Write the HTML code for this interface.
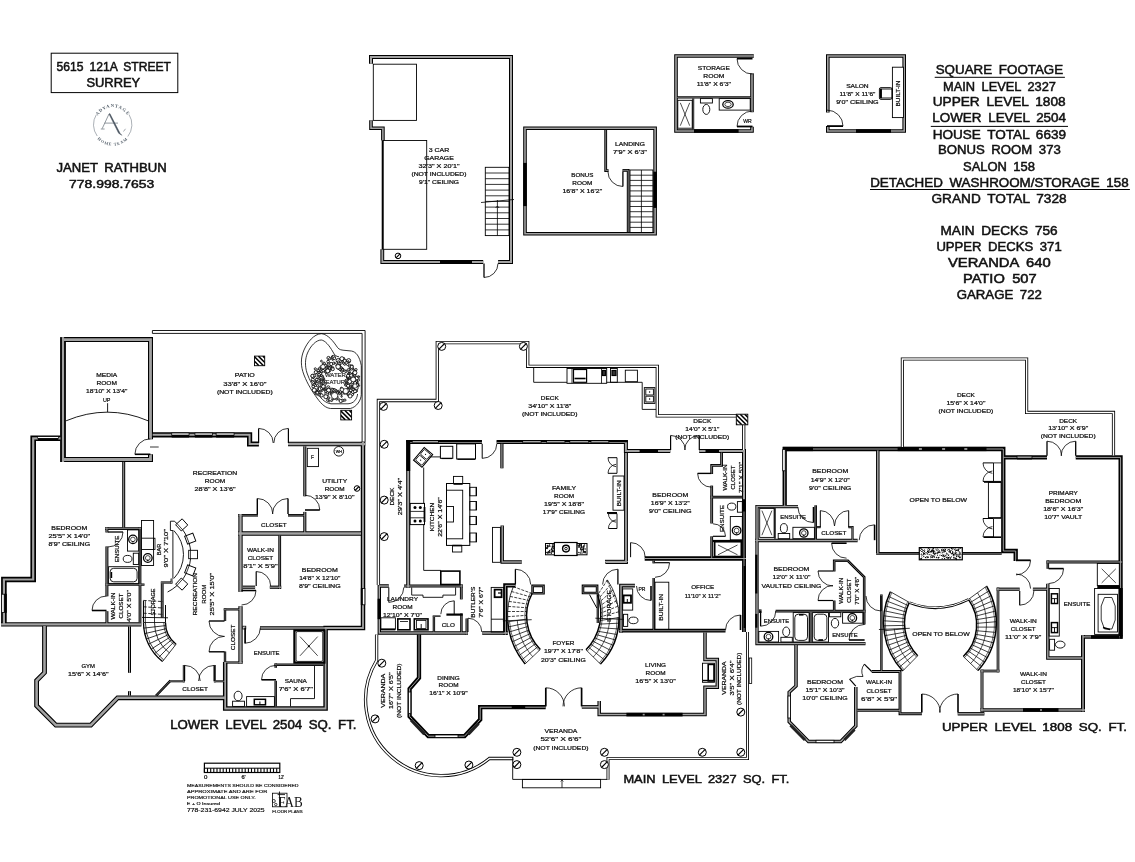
<!DOCTYPE html><html><head><meta charset="utf-8"><title>Floor plan</title>
<style>html,body{margin:0;padding:0;background:#fff;}svg{display:block;font-family:"Liberation Sans",sans-serif;}</style></head><body>
<svg width="1135" height="862" viewBox="0 0 1135 862">
<rect width="1135" height="862" fill="#fff"/><g style="will-change:opacity;opacity:0.999">
<g fill="none" stroke="#000" stroke-linejoin="miter" stroke-linecap="butt"><path d="M371.0,63.8 L371.0,57.0 L511.0,57.0 L511.0,262.0 L498.1,262.0" stroke-width="4.0"/>
<path d="M371.0,120.2 L371.0,128.2 L382.9,128.2 L382.9,140.5" stroke-width="3.6"/>
<path d="M382.3,249.3 L382.3,262.0 L483.2,262.0" stroke-width="3.8"/>
<path d="M525.0,128.2 L655.1,128.2 L655.1,233.8 L525.0,233.8Z" stroke-width="3.6"/>
<path d="M605.7,130.0 L605.7,170.6 L608.6,170.6" stroke-width="2.8"/>
<path d="M622.5,170.3 L628.2,170.3 L628.2,232.0" stroke-width="2.8"/>
<path d="M753.8,56.0 L676.0,56.0 L676.0,131.0 L752.0,131.0 L752.0,126.7" stroke-width="3.6"/>
<path d="M752.0,73.3 L752.0,112.2" stroke-width="3.6"/>
<path d="M677.0,97.4 L751.0,97.4" stroke-width="2.4"/>
<path d="M693.2,98.4 L693.2,129.5" stroke-width="2.0"/>
<path d="M827.8,112.5 L827.8,56.0 L904.2,56.0 L904.2,131.0 L827.8,131.0 L827.8,126.1" stroke-width="3.6"/>
<path d="M150.5,439.3 L150.5,339.6 L63.0,339.6" stroke-width="5.0"/>
<path d="M63.0,337.1 L63.0,462.0" stroke-width="5.8"/>
<path d="M63.0,459.5 L150.5,459.5 L150.5,454.3" stroke-width="5.0"/>
<path d="M60.5,438.3 L33.2,438.3 L33.2,579.5 L3.9,579.5 L3.9,624.4" stroke-width="5.6"/>
<path d="M1.1,624.4 L141.4,624.4" stroke-width="4.4"/>
<path d="M44.5,626.0 L44.5,672.6 L36.6,680.6 L36.6,705.8 L55.9,725.1 L90.8,725.1 L117.6,697.8 L225.2,697.8" stroke-width="4.8"/>
<path d="M225.2,662.0 L225.2,708.5 L325.6,708.5 L325.6,628.0 L363.0,628.0 L363.0,441.8" stroke-width="4.5"/>
<path d="M288.0,444.0 L365.2,444.0" stroke-width="4.4"/>
<path d="M260.0,628.0 L325.8,628.0" stroke-width="3.4"/>
<path d="M258.9,444.0 L249.6,444.0 L249.6,434.8 L152.7,434.8" stroke-width="5.2"/>
<path d="M123.7,461.9 L123.7,527.5" stroke-width="3.0"/>
<path d="M105.3,528.6 L141.3,528.6" stroke-width="2.8"/>
<path d="M106.9,527.2 L106.9,532.5" stroke-width="3.0"/>
<path d="M106.9,546.4 L106.9,596.3" stroke-width="3.0"/>
<path d="M106.9,611.2 L106.9,624.0" stroke-width="3.0"/>
<path d="M140.0,527.2 L140.0,622.5" stroke-width="2.8"/>
<path d="M105.6,584.6 L144.5,584.6" stroke-width="2.4"/>
<path d="M129.5,626.4 L129.5,672.8" stroke-width="3.0"/>
<path d="M129.5,691.2 L129.5,695.6" stroke-width="3.0"/>
<path d="M162.2,583.5 L162.2,617.5" stroke-width="2.8"/>
<path d="M160.8,582.5 L172.3,582.5" stroke-width="2.2"/>
<path d="M171.5,578.6 L171.5,583.5" stroke-width="1.8"/>
<path d="M240.5,514.0 L240.5,591.9" stroke-width="4.3"/>
<path d="M240.5,606.2 L240.5,663.5" stroke-width="4.3"/>
<path d="M238.4,515.3 L258.0,515.3" stroke-width="2.6"/>
<path d="M288.0,515.3 L305.0,515.3" stroke-width="2.6"/>
<path d="M304.8,446.3 L304.8,496.3" stroke-width="3.1"/>
<path d="M304.8,511.9 L304.8,533.0" stroke-width="3.1"/>
<path d="M238.4,533.5 L361.0,533.5" stroke-width="4.4"/>
<path d="M279.7,535.5 L279.7,589.0" stroke-width="2.8"/>
<path d="M242.7,587.2 L255.1,587.2" stroke-width="3.2"/>
<path d="M269.8,587.2 L281.2,587.2" stroke-width="3.2"/>
<path d="M223.8,609.4 L240.5,609.4" stroke-width="2.2"/>
<path d="M225.0,608.3 L225.0,621.0" stroke-width="2.4"/>
<path d="M225.0,651.5 L225.0,664.0" stroke-width="2.4"/>
<path d="M226.0,662.5 L242.6,662.5" stroke-width="2.2"/>
<path d="M170.0,681.3 L184.6,681.3" stroke-width="2.0"/>
<path d="M183.8,665.0 L183.8,682.3" stroke-width="2.0"/>
<path d="M214.8,665.0 L214.8,682.3" stroke-width="2.0"/>
<path d="M214.0,681.3 L226.0,681.3" stroke-width="2.0"/>
<path d="M170.5,680.6 L155.9,695.8" stroke-width="2.4"/>
<path d="M274.5,664.7 L323.4,664.7" stroke-width="2.5"/>
<path d="M275.7,663.5 L275.7,667.8" stroke-width="2.5"/>
<path d="M275.7,680.8 L275.7,706.4" stroke-width="2.5"/>
<path d="M408.2,587.4 L408.2,442.0 L481.9,442.0" stroke-width="4.0"/>
<path d="M496.7,442.0 L625.9,442.0 L625.9,451.0 L670.3,451.0" stroke-width="4.0"/>
<path d="M699.2,451.0 L744.0,451.0 L744.0,499.0" stroke-width="4.0"/>
<path d="M744.0,497.0 L744.0,632.0" stroke-width="3.9"/>
<path d="M501.9,443.8 L501.9,468.3" stroke-width="3.2"/>
<path d="M502.2,525.6 L502.2,562.0 L521.8,562.0" stroke-width="3.4"/>
<path d="M626.0,453.0 L626.0,562.0 L605.4,562.0" stroke-width="3.8"/>
<path d="M605.0,561.4 L627.8,561.4" stroke-width="3.2"/>
<path d="M644.7,558.5 L746.0,558.5" stroke-width="4.6"/>
<path d="M721.6,452.5 L721.6,465.4 L711.7,465.4 L711.7,474.0" stroke-width="2.8"/>
<path d="M711.7,485.6 L711.7,523.5" stroke-width="2.8"/>
<path d="M711.7,536.3 L711.7,558.0" stroke-width="2.8"/>
<path d="M710.4,497.1 L742.3,497.1" stroke-width="2.6"/>
<path d="M404.0,586.0 L462.7,586.0" stroke-width="3.0"/>
<path d="M461.3,584.5 L461.3,599.4" stroke-width="2.8"/>
<path d="M388.8,586.0 L379.3,586.0 L379.3,633.0 L467.7,633.0" stroke-width="3.4"/>
<path d="M482.2,633.0 L507.8,633.0" stroke-width="3.6"/>
<path d="M433.9,616.7 L433.9,633.0" stroke-width="2.4"/>
<path d="M432.7,616.2 L440.5,616.2" stroke-width="1.6"/>
<path d="M461.4,613.5 L461.4,633.0" stroke-width="2.5"/>
<path d="M466.6,618.5 L466.6,634.8" stroke-width="2.2"/>
<path d="M515.5,585.4 L505.4,585.4 L505.4,634.7" stroke-width="4.4"/>
<path d="M532.6,585.9 L543.5,585.9 L543.5,593.3 L532.6,593.3Z" stroke-width="2.6"/>
<path d="M583.0,585.9 L597.1,585.9 L597.1,593.0 L583.0,593.0Z" stroke-width="2.6"/>
<path d="M597.8,593.5 L597.8,623.0" stroke-width="2.3"/>
<path d="M634.9,585.6 L621.0,585.6 L621.0,632.4" stroke-width="3.7"/>
<path d="M619.2,630.7 L725.5,630.7" stroke-width="3.8"/>
<path d="M653.7,560.5 L653.7,563.4" stroke-width="2.5"/>
<path d="M653.7,578.0 L653.7,630.0" stroke-width="2.5"/>
<path d="M419.0,634.6 L419.0,678.0 L409.6,688.8 L409.6,716.5 L428.3,736.2 L464.5,736.2 L480.2,719.6 L480.2,707.2 L545.7,707.2" stroke-width="4.3"/>
<path d="M581.8,706.9 L599.2,706.9" stroke-width="3.6"/>
<path d="M599.2,701.1 L599.2,714.6 L705.0,714.6 L705.0,687.3 L717.3,687.3 L717.3,659.5 L705.0,659.5 L705.0,632.4" stroke-width="3.5"/>
<path d="M784.7,506.2 L784.7,449.0 L1003.3,449.0 L1003.3,551.0 L1015.7,551.0 L1015.7,561.0" stroke-width="4.3"/>
<path d="M1003.3,457.4 L1047.0,457.4" stroke-width="4.4"/>
<path d="M1075.7,457.4 L1120.6,457.4 L1120.6,637.0" stroke-width="4.2"/>
<path d="M1122.6,636.9 L1083.0,636.9" stroke-width="3.5"/>
<path d="M1083.0,635.2 L1083.0,711.6" stroke-width="4.0"/>
<path d="M1085.0,710.0 L980.5,710.0" stroke-width="3.3"/>
<path d="M982.0,711.6 L982.0,669.6" stroke-width="3.0"/>
<path d="M980.5,671.0 L999.4,671.0" stroke-width="2.7"/>
<path d="M998.0,672.3 L998.0,587.6" stroke-width="2.7"/>
<path d="M996.7,589.2 L1019.7,589.2" stroke-width="3.2"/>
<path d="M1032.9,589.2 L1047.8,589.2" stroke-width="3.2"/>
<path d="M1047.8,560.5 L1047.8,568.8" stroke-width="2.6"/>
<path d="M1047.8,583.8 L1047.8,658.0 L1083.0,658.0" stroke-width="3.3"/>
<path d="M1046.5,562.0 L1122.3,562.0" stroke-width="3.0"/>
<path d="M877.8,450.5 L877.8,553.4" stroke-width="3.5"/>
<path d="M876.1,553.4 L1001.7,553.4" stroke-width="2.6"/>
<path d="M798.0,506.6 L757.0,506.6 L757.0,643.6 L865.5,643.6" stroke-width="3.3"/>
<path d="M755.3,540.5 L857.6,540.5" stroke-width="3.5"/>
<path d="M815.7,505.3 L815.7,540.5" stroke-width="2.6"/>
<path d="M817.0,527.1 L820.6,527.1" stroke-width="2.2"/>
<path d="M848.4,527.1 L852.5,527.1 L852.5,540.5" stroke-width="2.2"/>
<path d="M834.2,571.4 L834.2,560.8 L847.9,560.8 L864.2,577.0 L864.2,624.4" stroke-width="2.6"/>
<path d="M834.2,600.5 L834.2,611.0" stroke-width="2.6"/>
<path d="M775.6,611.2 L865.5,611.2" stroke-width="2.7"/>
<path d="M760.2,609.4 L760.2,613.0" stroke-width="2.6"/>
<path d="M810.4,612.6 L810.4,642.0" stroke-width="2.6"/>
<path d="M774.9,507.9 L774.9,538.8" stroke-width="1.8"/>
<path d="M796.0,645.0 L796.0,686.0 L789.2,692.2 L789.2,721.8 L808.5,741.5 L840.8,741.5 L855.8,726.0 L855.8,687.0" stroke-width="3.5"/>
<path d="M871.7,671.5 L900.0,671.5 L900.0,713.8 L921.9,713.8" stroke-width="2.9"/>
<path d="M857.3,710.3 L900.0,710.3" stroke-width="2.9"/>
<path d="M881.4,594.4 L881.4,671.1" stroke-width="2.4"/>
<path d="M957.7,713.8 L984.4,713.8" stroke-width="3.4"/></g>
<g fill="none" stroke="#a2a2a2" stroke-linejoin="miter" stroke-linecap="butt"><path d="M371.0,63.8 L371.0,57.0 L511.0,57.0 L511.0,262.0 L498.1,262.0" stroke-width="2.0"/>
<path d="M371.0,120.2 L371.0,128.2 L382.9,128.2 L382.9,140.5" stroke-width="1.6"/>
<path d="M382.3,249.3 L382.3,262.0 L483.2,262.0" stroke-width="1.8"/>
<path d="M525.0,128.2 L655.1,128.2 L655.1,233.8 L525.0,233.8Z" stroke-width="1.6"/>
<path d="M605.7,130.0 L605.7,170.6 L608.6,170.6" stroke-width="0.8"/>
<path d="M622.5,170.3 L628.2,170.3 L628.2,232.0" stroke-width="0.8"/>
<path d="M753.8,56.0 L676.0,56.0 L676.0,131.0 L752.0,131.0 L752.0,126.7" stroke-width="1.6"/>
<path d="M752.0,73.3 L752.0,112.2" stroke-width="1.6"/>
<path d="M677.0,97.4 L751.0,97.4" stroke-width="0.6"/>
<path d="M693.2,98.4 L693.2,129.5" stroke-width="0.6"/>
<path d="M827.8,112.5 L827.8,56.0 L904.2,56.0 L904.2,131.0 L827.8,131.0 L827.8,126.1" stroke-width="1.6"/>
<path d="M150.5,439.3 L150.5,339.6 L63.0,339.6" stroke-width="2.8"/>
<path d="M63.0,337.1 L63.0,462.0" stroke-width="2.2"/>
<path d="M63.0,459.5 L150.5,459.5 L150.5,454.3" stroke-width="2.8"/>
<path d="M60.5,438.3 L33.2,438.3 L33.2,579.5 L3.9,579.5 L3.9,624.4" stroke-width="2.2"/>
<path d="M1.1,624.4 L141.4,624.4" stroke-width="2.4"/>
<path d="M44.5,626.0 L44.5,672.6 L36.6,680.6 L36.6,705.8 L55.9,725.1 L90.8,725.1 L117.6,697.8 L225.2,697.8" stroke-width="2.6"/>
<path d="M225.2,662.0 L225.2,708.5 L325.6,708.5 L325.6,628.0 L363.0,628.0 L363.0,441.8" stroke-width="1.8"/>
<path d="M288.0,444.0 L365.2,444.0" stroke-width="2.4"/>
<path d="M260.0,628.0 L325.8,628.0" stroke-width="1.4"/>
<path d="M258.9,444.0 L249.6,444.0 L249.6,434.8 L152.7,434.8" stroke-width="2.0"/>
<path d="M123.7,461.9 L123.7,527.5" stroke-width="1.0"/>
<path d="M105.3,528.6 L141.3,528.6" stroke-width="0.8"/>
<path d="M106.9,527.2 L106.9,532.5" stroke-width="1.0"/>
<path d="M106.9,546.4 L106.9,596.3" stroke-width="1.0"/>
<path d="M106.9,611.2 L106.9,624.0" stroke-width="1.0"/>
<path d="M140.0,527.2 L140.0,622.5" stroke-width="0.8"/>
<path d="M105.6,584.6 L144.5,584.6" stroke-width="0.6"/>
<path d="M129.5,626.4 L129.5,672.8" stroke-width="1.0"/>
<path d="M129.5,691.2 L129.5,695.6" stroke-width="1.0"/>
<path d="M162.2,583.5 L162.2,617.5" stroke-width="0.8"/>
<path d="M160.8,582.5 L172.3,582.5" stroke-width="0.6"/>
<path d="M171.5,578.6 L171.5,583.5" stroke-width="0.6"/>
<path d="M240.5,514.0 L240.5,591.9" stroke-width="2.3"/>
<path d="M240.5,606.2 L240.5,663.5" stroke-width="2.3"/>
<path d="M238.4,515.3 L258.0,515.3" stroke-width="0.6"/>
<path d="M288.0,515.3 L305.0,515.3" stroke-width="0.6"/>
<path d="M304.8,446.3 L304.8,496.3" stroke-width="1.1"/>
<path d="M304.8,511.9 L304.8,533.0" stroke-width="1.1"/>
<path d="M238.4,533.5 L361.0,533.5" stroke-width="2.4"/>
<path d="M279.7,535.5 L279.7,589.0" stroke-width="0.8"/>
<path d="M242.7,587.2 L255.1,587.2" stroke-width="1.2"/>
<path d="M269.8,587.2 L281.2,587.2" stroke-width="1.2"/>
<path d="M223.8,609.4 L240.5,609.4" stroke-width="0.6"/>
<path d="M225.0,608.3 L225.0,621.0" stroke-width="0.6"/>
<path d="M225.0,651.5 L225.0,664.0" stroke-width="0.6"/>
<path d="M226.0,662.5 L242.6,662.5" stroke-width="0.6"/>
<path d="M170.0,681.3 L184.6,681.3" stroke-width="0.6"/>
<path d="M183.8,665.0 L183.8,682.3" stroke-width="0.6"/>
<path d="M214.8,665.0 L214.8,682.3" stroke-width="0.6"/>
<path d="M214.0,681.3 L226.0,681.3" stroke-width="0.6"/>
<path d="M170.5,680.6 L155.9,695.8" stroke-width="0.6"/>
<path d="M274.5,664.7 L323.4,664.7" stroke-width="0.6"/>
<path d="M275.7,663.5 L275.7,667.8" stroke-width="0.6"/>
<path d="M275.7,680.8 L275.7,706.4" stroke-width="0.6"/>
<path d="M408.2,587.4 L408.2,442.0 L481.9,442.0" stroke-width="2.0"/>
<path d="M496.7,442.0 L625.9,442.0 L625.9,451.0 L670.3,451.0" stroke-width="2.0"/>
<path d="M699.2,451.0 L744.0,451.0 L744.0,499.0" stroke-width="2.0"/>
<path d="M744.0,497.0 L744.0,632.0" stroke-width="0.9"/>
<path d="M501.9,443.8 L501.9,468.3" stroke-width="1.2"/>
<path d="M502.2,525.6 L502.2,562.0 L521.8,562.0" stroke-width="1.4"/>
<path d="M626.0,453.0 L626.0,562.0 L605.4,562.0" stroke-width="1.8"/>
<path d="M605.0,561.4 L627.8,561.4" stroke-width="1.2"/>
<path d="M644.7,558.5 L746.0,558.5" stroke-width="1.0"/>
<path d="M721.6,452.5 L721.6,465.4 L711.7,465.4 L711.7,474.0" stroke-width="0.8"/>
<path d="M711.7,485.6 L711.7,523.5" stroke-width="0.8"/>
<path d="M711.7,536.3 L711.7,558.0" stroke-width="0.8"/>
<path d="M710.4,497.1 L742.3,497.1" stroke-width="0.6"/>
<path d="M404.0,586.0 L462.7,586.0" stroke-width="1.0"/>
<path d="M461.3,584.5 L461.3,599.4" stroke-width="0.8"/>
<path d="M388.8,586.0 L379.3,586.0 L379.3,633.0 L467.7,633.0" stroke-width="1.4"/>
<path d="M482.2,633.0 L507.8,633.0" stroke-width="1.6"/>
<path d="M433.9,616.7 L433.9,633.0" stroke-width="0.6"/>
<path d="M432.7,616.2 L440.5,616.2" stroke-width="0.6"/>
<path d="M461.4,613.5 L461.4,633.0" stroke-width="0.6"/>
<path d="M466.6,618.5 L466.6,634.8" stroke-width="0.6"/>
<path d="M515.5,585.4 L505.4,585.4 L505.4,634.7" stroke-width="1.0"/>
<path d="M532.6,585.9 L543.5,585.9 L543.5,593.3 L532.6,593.3Z" stroke-width="0.6"/>
<path d="M583.0,585.9 L597.1,585.9 L597.1,593.0 L583.0,593.0Z" stroke-width="0.6"/>
<path d="M597.8,593.5 L597.8,623.0" stroke-width="0.6"/>
<path d="M634.9,585.6 L621.0,585.6 L621.0,632.4" stroke-width="1.5"/>
<path d="M619.2,630.7 L725.5,630.7" stroke-width="0.8"/>
<path d="M653.7,560.5 L653.7,563.4" stroke-width="0.6"/>
<path d="M653.7,578.0 L653.7,630.0" stroke-width="0.6"/>
<path d="M419.0,634.6 L419.0,678.0 L409.6,688.8 L409.6,716.5 L428.3,736.2 L464.5,736.2 L480.2,719.6 L480.2,707.2 L545.7,707.2" stroke-width="1.0"/>
<path d="M581.8,706.9 L599.2,706.9" stroke-width="1.6"/>
<path d="M599.2,701.1 L599.2,714.6 L705.0,714.6 L705.0,687.3 L717.3,687.3 L717.3,659.5 L705.0,659.5 L705.0,632.4" stroke-width="1.5"/>
<path d="M784.7,506.2 L784.7,449.0 L1003.3,449.0 L1003.3,551.0 L1015.7,551.0 L1015.7,561.0" stroke-width="1.0"/>
<path d="M1003.3,457.4 L1047.0,457.4" stroke-width="0.9"/>
<path d="M1075.7,457.4 L1120.6,457.4 L1120.6,637.0" stroke-width="1.0"/>
<path d="M1122.6,636.9 L1083.0,636.9" stroke-width="1.4"/>
<path d="M1083.0,635.2 L1083.0,711.6" stroke-width="1.5"/>
<path d="M1085.0,710.0 L980.5,710.0" stroke-width="1.3"/>
<path d="M982.0,711.6 L982.0,669.6" stroke-width="1.2"/>
<path d="M980.5,671.0 L999.4,671.0" stroke-width="1.0"/>
<path d="M998.0,672.3 L998.0,587.6" stroke-width="1.0"/>
<path d="M996.7,589.2 L1019.7,589.2" stroke-width="1.2"/>
<path d="M1032.9,589.2 L1047.8,589.2" stroke-width="1.2"/>
<path d="M1047.8,560.5 L1047.8,568.8" stroke-width="0.6"/>
<path d="M1047.8,583.8 L1047.8,658.0 L1083.0,658.0" stroke-width="1.4"/>
<path d="M1046.5,562.0 L1122.3,562.0" stroke-width="1.0"/>
<path d="M877.8,450.5 L877.8,553.4" stroke-width="1.5"/>
<path d="M876.1,553.4 L1001.7,553.4" stroke-width="0.6"/>
<path d="M798.0,506.6 L757.0,506.6 L757.0,643.6 L865.5,643.6" stroke-width="1.5"/>
<path d="M755.3,540.5 L857.6,540.5" stroke-width="1.5"/>
<path d="M815.7,505.3 L815.7,540.5" stroke-width="0.6"/>
<path d="M817.0,527.1 L820.6,527.1" stroke-width="0.6"/>
<path d="M848.4,527.1 L852.5,527.1 L852.5,540.5" stroke-width="0.6"/>
<path d="M834.2,571.4 L834.2,560.8 L847.9,560.8 L864.2,577.0 L864.2,624.4" stroke-width="0.6"/>
<path d="M834.2,600.5 L834.2,611.0" stroke-width="0.6"/>
<path d="M775.6,611.2 L865.5,611.2" stroke-width="0.7"/>
<path d="M760.2,609.4 L760.2,613.0" stroke-width="0.6"/>
<path d="M810.4,612.6 L810.4,642.0" stroke-width="0.6"/>
<path d="M774.9,507.9 L774.9,538.8" stroke-width="0.6"/>
<path d="M796.0,645.0 L796.0,686.0 L789.2,692.2 L789.2,721.8 L808.5,741.5 L840.8,741.5 L855.8,726.0 L855.8,687.0" stroke-width="1.5"/>
<path d="M871.7,671.5 L900.0,671.5 L900.0,713.8 L921.9,713.8" stroke-width="0.9"/>
<path d="M857.3,710.3 L900.0,710.3" stroke-width="0.9"/>
<path d="M881.4,594.4 L881.4,671.1" stroke-width="0.6"/>
<path d="M957.7,713.8 L984.4,713.8" stroke-width="1.4"/></g>
<g><rect x="440.0" y="260.2" width="32.0" height="3.7" fill="#000"/>
<rect x="523.2" y="162.9" width="3.6" height="43.2" fill="#000"/>
<rect x="653.3" y="171.7" width="3.6" height="36.2" fill="#000"/>
<rect x="694.0" y="129.2" width="44.6" height="3.6" fill="#000"/>
<rect x="856.0" y="129.2" width="35.0" height="3.6" fill="#000"/>
<rect x="37.9" y="436.6" width="20.3" height="1.8" fill="#fff" stroke="#000" stroke-width="0.8"/>
<rect x="37.9" y="438.4" width="20.3" height="2.6" fill="#000"/>
<rect x="1.7" y="594.2" width="2.5" height="18.2" fill="#fff" stroke="#000" stroke-width="0.8"/>
<rect x="4.2" y="593.8" width="2.6" height="19.0" fill="#000"/>
<rect x="171.7" y="433.0" width="17.4" height="2.1" fill="#fff" stroke="#000" stroke-width="0.8"/>
<rect x="171.7" y="435.1" width="17.4" height="2.4" fill="#000"/>
<rect x="194.9" y="433.0" width="17.5" height="2.1" fill="#fff" stroke="#000" stroke-width="0.8"/>
<rect x="194.9" y="435.1" width="17.5" height="2.4" fill="#000"/>
<rect x="216.1" y="433.0" width="18.0" height="2.1" fill="#fff" stroke="#000" stroke-width="0.8"/>
<rect x="216.1" y="435.1" width="18.0" height="2.4" fill="#000"/>
<rect x="360.8" y="588.3" width="1.6" height="16.7" fill="#000"/>
<rect x="362.4" y="588.5" width="2.5" height="16.3" fill="#fff" stroke="#000" stroke-width="0.8"/>
<rect x="406.3" y="440.2" width="3.9" height="30.8" fill="#000"/>
<path d="M406.2,441.3 H481.9 M496.7,441.3 H627.8" stroke="#000" stroke-width="1.9"/>
<path d="M412.7,441.9 H438.0" stroke="#fff" stroke-width="1.1"/>
<path d="M411.7,442.9 H439.0" stroke="#000" stroke-width="1.0"/>
<path d="M523.1,441.9 H540.7" stroke="#fff" stroke-width="1.1"/>
<path d="M522.1,442.9 H541.7" stroke="#000" stroke-width="1.0"/>
<path d="M547.0,441.9 H564.5" stroke="#fff" stroke-width="1.1"/>
<path d="M546.0,442.9 H565.5" stroke="#000" stroke-width="1.0"/>
<path d="M570.2,441.9 H588.2" stroke="#fff" stroke-width="1.1"/>
<path d="M569.2,442.9 H589.2" stroke="#000" stroke-width="1.0"/>
<path d="M591.4,441.9 H608.3" stroke="#fff" stroke-width="1.1"/>
<path d="M590.4,442.9 H609.3" stroke="#000" stroke-width="1.0"/>
<rect x="639.6" y="449.1" width="18.4" height="3.8" fill="#000"/>
<rect x="705.5" y="449.1" width="13.5" height="3.8" fill="#000"/>
<rect x="742.2" y="499.5" width="3.7" height="12.0" fill="#000"/>
<rect x="743.6" y="566.0" width="2.3" height="62.0" fill="#000"/>
<rect x="377.6" y="598.7" width="3.4" height="20.5" fill="#000"/>
<rect x="408.4" y="692.0" width="2.4" height="21.5" fill="#fff" stroke="#000" stroke-width="0.8"/>
<rect x="435.0" y="735.0" width="23.0" height="2.4" fill="#fff" stroke="#000" stroke-width="0.8"/>
<path d="M411,720 L424.5,734.2" stroke="#222" stroke-width="3.2"/>
<path d="M468.3,734.2 L478.5,723.3" stroke="#222" stroke-width="3.2"/>
<rect x="511.7" y="705.4" width="13.5" height="3.6" fill="#000"/>
<rect x="626.4" y="712.8" width="56.2" height="3.6" fill="#000"/>
<rect x="642.7" y="713.8" width="2" height="1.6" fill="#999"/><rect x="662.6" y="713.8" width="2" height="1.6" fill="#999"/>
<rect x="783.0" y="446.9" width="30.0" height="4.2" fill="#000"/>
<rect x="897.6" y="446.9" width="88.9" height="4.2" fill="#000"/>
<rect x="918.9" y="448.1" width="3" height="1.8" fill="#999"/>
<rect x="942.1" y="448.1" width="3" height="1.8" fill="#999"/>
<rect x="964.3" y="448.1" width="3" height="1.8" fill="#999"/>
<rect x="782.7" y="449.6" width="2.5" height="21.2" fill="#fff" stroke="#000" stroke-width="0.8"/>
<rect x="1017.0" y="456.2" width="15.0" height="1.8" fill="#fff" stroke="#000" stroke-width="0.8"/>
<rect x="1017.0" y="458.0" width="15.0" height="1.4" fill="#000"/>
<rect x="1091.0" y="635.2" width="28.0" height="3.5" fill="#000"/>
<rect x="1119.6" y="588.0" width="3.1" height="50.7" fill="#000"/>
<rect x="1023.0" y="708.2" width="35.5" height="3.6" fill="#000"/>
<rect x="1040" y="709.2" width="2" height="1.6" fill="#999"/>
<rect x="755.2" y="554.7" width="2.2" height="38.8" fill="#000"/>
<rect x="755.2" y="613.9" width="2.2" height="13.8" fill="#000"/>
<rect x="788.0" y="696.0" width="2.4" height="22.0" fill="#fff" stroke="#000" stroke-width="0.8"/>
<rect x="816.0" y="740.3" width="18.0" height="2.4" fill="#fff" stroke="#000" stroke-width="0.8"/>
<path d="M790.5,725.3 L805,740" stroke="#222" stroke-width="3.0"/>
<path d="M844.3,740 L854.5,729.5" stroke="#222" stroke-width="3.0"/></g>
<g stroke-linecap="butt"><rect x="51.2" y="53.2" width="126.6" height="39.4" rx="0.0" fill="none" stroke="#000" stroke-width="1.00"/>
<path d="M129.0,114.5 A19.2,19.2 0 0 1 127.8,136.5" stroke="#56616c" stroke-width="0.50" fill="none" />
<path d="M97.2,136.0 A19.2,19.2 0 0 1 96.4,114.5" stroke="#56616c" stroke-width="0.50" fill="none" />
<path id="lgA" d="M96.4,118.8 A17.3,17.3 0 0 1 129.0,118.8" fill="none"/>
<path id="lgB" d="M93.0,131.9 A21,21 0 0 0 132.4,131.9" fill="none"/>
<text font-family="Liberation Serif" font-size="4.6" font-weight="bold" fill="#56616c" letter-spacing="0.8"><textPath href="#lgA" startOffset="50%" text-anchor="middle">ADVANTAGE</textPath></text>
<text font-family="Liberation Serif" font-size="4.2" font-weight="bold" fill="#56616c" letter-spacing="0.8"><textPath href="#lgB" startOffset="50%" text-anchor="middle">HOME TEAM</textPath></text>
<path d="M109,114 L102.2,128.6 M100.8,129 H104.6 M104.6,123.1 H118" stroke="#4a5560" stroke-width="0.6" fill="none"/>
<path d="M109,114 L109.9,113.6 L120.2,133.6 L121.9,135.3 L118.6,133.2 Z" fill="#4a5560" stroke="#4a5560" stroke-width="0.5"/>
<path d="M123.5,131.5 L125.5,128.8" stroke="#4a5560" stroke-width="0.5"/>
<rect x="373.3" y="64.2" width="43.2" height="56.2" rx="0.0" fill="none" stroke="#000" stroke-width="0.90"/>
<path d="M382.6,140.5 L382.6,249.3" fill="none" stroke="#000" stroke-width="1.80" />
<rect x="383.0" y="140.5" width="43.7" height="108.8" rx="0.0" fill="none" stroke="#000" stroke-width="0.90"/>
<path d="M484.0,263.5 L484.0,277.5" stroke="#000" stroke-width="1.30" fill="none"/>
<path d="M484.0,277.5 A14.0,14.0 0 0 0 498.0,263.5" stroke="#000" stroke-width="0.80" fill="none"/>
<rect x="485.3" y="167.3" width="23.7" height="68.3" rx="0.0" fill="none" stroke="#000" stroke-width="0.90"/>
<path d="M485.3,173.0 L509.0,173.0" fill="none" stroke="#000" stroke-width="0.80" />
<path d="M485.3,178.7 L509.0,178.7" fill="none" stroke="#000" stroke-width="0.80" />
<path d="M485.3,184.4 L509.0,184.4" fill="none" stroke="#000" stroke-width="0.80" />
<path d="M485.3,190.1 L509.0,190.1" fill="none" stroke="#000" stroke-width="0.80" />
<path d="M485.3,195.8 L509.0,195.8" fill="none" stroke="#000" stroke-width="0.80" />
<path d="M485.3,201.4 L509.0,201.4" fill="none" stroke="#000" stroke-width="0.80" />
<path d="M485.3,207.1 L509.0,207.1" fill="none" stroke="#000" stroke-width="0.80" />
<path d="M485.3,212.8 L509.0,212.8" fill="none" stroke="#000" stroke-width="0.80" />
<path d="M485.3,218.5 L509.0,218.5" fill="none" stroke="#000" stroke-width="0.80" />
<path d="M485.3,224.2 L509.0,224.2" fill="none" stroke="#000" stroke-width="0.80" />
<path d="M485.3,229.9 L509.0,229.9" fill="none" stroke="#000" stroke-width="0.80" />
<path d="M497.4,200.0 L497.4,235.6" fill="none" stroke="#000" stroke-width="0.80" />
<path d="M481.0,202.5 L514.0,199.5" fill="none" stroke="#000" stroke-width="0.80" />
<path d="M495.6,208.0 L497.4,206.0 L499.2,208.0" fill="none" stroke="#000" stroke-width="0.80" />
<circle cx="398.0" cy="255.9" r="2.8" fill="#fff" stroke="#000" stroke-width="1.0"/>
<path d="M396.0,257.9 L400.0,253.9" stroke="#000" stroke-width="1.1"/>
<path d="M622.9,171.5 L622.9,186.5" stroke="#000" stroke-width="1.30" fill="none"/>
<path d="M622.9,186.5 A15.0,15.0 0 0 1 607.9,171.5" stroke="#000" stroke-width="0.80" fill="none"/>
<rect x="630.0" y="170.0" width="22.9" height="62.6" rx="0.0" fill="none" stroke="#000" stroke-width="0.90"/>
<path d="M630.0,175.2 L652.9,175.2" fill="none" stroke="#000" stroke-width="0.80" />
<path d="M630.0,180.4 L652.9,180.4" fill="none" stroke="#000" stroke-width="0.80" />
<path d="M630.0,185.7 L652.9,185.7" fill="none" stroke="#000" stroke-width="0.80" />
<path d="M630.0,190.9 L652.9,190.9" fill="none" stroke="#000" stroke-width="0.80" />
<path d="M630.0,196.1 L652.9,196.1" fill="none" stroke="#000" stroke-width="0.80" />
<path d="M630.0,201.3 L652.9,201.3" fill="none" stroke="#000" stroke-width="0.80" />
<path d="M630.0,206.5 L652.9,206.5" fill="none" stroke="#000" stroke-width="0.80" />
<path d="M630.0,211.7 L652.9,211.7" fill="none" stroke="#000" stroke-width="0.80" />
<path d="M630.0,216.9 L652.9,216.9" fill="none" stroke="#000" stroke-width="0.80" />
<path d="M630.0,222.2 L652.9,222.2" fill="none" stroke="#000" stroke-width="0.80" />
<path d="M630.0,227.4 L652.9,227.4" fill="none" stroke="#000" stroke-width="0.80" />
<path d="M641.4,170.0 L641.4,232.6" fill="none" stroke="#000" stroke-width="0.80" />
<path d="M752.5,58.6 L737.0,58.6" stroke="#000" stroke-width="1.80" fill="none"/>
<path d="M737.0,58.6 A15.5,15.5 0 0 0 752.5,74.1" stroke="#000" stroke-width="0.80" fill="none"/>
<path d="M752.5,126.5 L737.0,126.5" stroke="#000" stroke-width="1.80" fill="none"/>
<path d="M737.0,126.5 A15.5,15.5 0 0 1 752.5,111.0" stroke="#000" stroke-width="0.80" fill="none"/>
<rect x="677.8" y="100.3" width="14.4" height="27.9" rx="0.0" fill="none" stroke="#000" stroke-width="0.90"/>
<path d="M680.3,102.8 L689.7,125.7" fill="none" stroke="#000" stroke-width="0.70" />
<path d="M689.7,102.8 L680.3,125.7" fill="none" stroke="#000" stroke-width="0.70" />
<rect x="700.4" y="98.6" width="12.0" height="4.4" rx="0.0" fill="#fff" stroke="#000" stroke-width="0.90"/>
<ellipse cx="706.3" cy="109.4" rx="3.5" ry="5.0" fill="#fff" stroke="#000" stroke-width="0.90"/>
<rect x="719.2" y="98.6" width="31.0" height="11.5" rx="0.0" fill="none" stroke="#000" stroke-width="0.90"/>
<ellipse cx="728.0" cy="104.4" rx="5.2" ry="3.8" fill="#fff" stroke="#000" stroke-width="1.30"/>
<ellipse cx="728.0" cy="104.4" rx="3.2" ry="2.2" fill="none" stroke="#000" stroke-width="0.70"/>
<path d="M827.0,126.1 L843.0,126.1" stroke="#000" stroke-width="1.80" fill="none"/>
<path d="M843.0,126.1 A16.0,16.0 0 0 0 827.0,110.1" stroke="#000" stroke-width="0.80" fill="none"/>
<rect x="892.4" y="67.2" width="11.1" height="50.4" rx="0.0" fill="#fff" stroke="#000" stroke-width="0.90"/>
<rect x="879.4" y="87.6" width="12.7" height="11.8" rx="1.5" fill="none" stroke="#000" stroke-width="0.90"/>
<rect x="881.5" y="89.0" width="10.6" height="9.0" rx="0.0" fill="none" stroke="#000" stroke-width="0.90"/>
<path d="M880.5,88.5 L880.5,98.5" fill="none" stroke="#000" stroke-width="1.60" />
<path d="M934.7,77.3 L1064.9,77.3" fill="none" stroke="#000" stroke-width="1.00" />
<path d="M930.8,126.4 L1068.0,126.4" fill="none" stroke="#000" stroke-width="1.00" />
<path d="M870.0,189.5 L1129.9,189.5" fill="none" stroke="#000" stroke-width="1.00" />
<path d="M152.4,333.4 L152.4,330.5 L365.1,330.5 L365.1,441.8" fill="none" stroke="#000" stroke-width="0.90" />
<path d="M152.4,333.4 L362.1,333.4 L362.1,441.8" fill="none" stroke="#000" stroke-width="0.90" />
<clipPath id="h2545"><rect x="254.5" y="356.1" width="10.2" height="9.6"/></clipPath>
<rect x="254.5" y="356.1" width="10.2" height="9.6" fill="#fff"/>
<path d="M240.4,356.1 L250.0,365.7 M244.9,356.1 L254.5,365.7 M249.4,356.1 L259.0,365.7 M253.9,356.1 L263.5,365.7 M258.4,356.1 L268.0,365.7 M262.9,356.1 L272.5,365.7 M267.4,356.1 L277.0,365.7" stroke="#000" stroke-width="1.5" clip-path="url(#h2545)"/>
<rect x="254.5" y="356.1" width="10.2" height="9.6" rx="0.0" fill="none" stroke="#000" stroke-width="0.90"/>
<clipPath id="h3408"><rect x="340.8" y="410.3" width="10.8" height="9.6"/></clipPath>
<rect x="340.8" y="410.3" width="10.8" height="9.6" fill="#fff"/>
<path d="M326.7,410.3 L336.3,419.9 M331.2,410.3 L340.8,419.9 M335.7,410.3 L345.3,419.9 M340.2,410.3 L349.8,419.9 M344.7,410.3 L354.3,419.9 M349.2,410.3 L358.8,419.9 M353.7,410.3 L363.3,419.9" stroke="#000" stroke-width="1.5" clip-path="url(#h3408)"/>
<rect x="340.8" y="410.3" width="10.8" height="9.6" rx="0.0" fill="none" stroke="#000" stroke-width="0.90"/>
<path d="M321.3,333.7 C326,334 331,338 336.4,345.9 C338,348.5 339.5,349.9 343,350.2 L351.4,351 C356,351.8 359.5,356 361.3,365.6 L361.3,394.6 C361,400 357,407 350.3,408.5 L330.6,408.5 C326,408 322,405 317,398 C312,391 308,385 304,375 C300.5,366 300.5,358 304,350 C307.5,342 314,334 321.3,333.7 Z" fill="none" stroke="#000" stroke-width="0.8"/>
<path d="M321.3,340 C325,340.5 329,345 333,352 C334.5,355 336,356.5 339,356.8 M357.6,394 C357,399 354,403.5 348,403.8 L331,403.8 C326,403 322,400 318,394 C313,387 309.5,380 307,373 C304.8,366 305,359 307.5,353 C310.5,346 316,340 321.3,340" fill="none" stroke="#000" stroke-width="0.8"/>
<circle cx="329.2" cy="390.1" r="0.7" fill="#fff" stroke="#000" stroke-width="0.85"/>
<circle cx="352.0" cy="386.8" r="1.3" fill="#fff" stroke="#000" stroke-width="0.85"/>
<circle cx="315.3" cy="368.9" r="1.1" fill="#fff" stroke="#000" stroke-width="0.85"/>
<circle cx="352.0" cy="383.1" r="0.9" fill="#fff" stroke="#000" stroke-width="0.85"/>
<circle cx="337.3" cy="396.4" r="0.7" fill="#fff" stroke="#000" stroke-width="0.85"/>
<circle cx="341.9" cy="369.3" r="1.1" fill="#fff" stroke="#000" stroke-width="0.85"/>
<circle cx="322.4" cy="366.9" r="0.7" fill="#fff" stroke="#000" stroke-width="0.85"/>
<circle cx="320.9" cy="372.5" r="1.1" fill="#fff" stroke="#000" stroke-width="0.85"/>
<circle cx="357.1" cy="385.5" r="1.1" fill="#fff" stroke="#000" stroke-width="0.85"/>
<circle cx="319.4" cy="387.7" r="1.1" fill="#fff" stroke="#000" stroke-width="0.85"/>
<circle cx="316.7" cy="372.7" r="0.9" fill="#fff" stroke="#000" stroke-width="0.85"/>
<circle cx="318.3" cy="370.7" r="1.3" fill="#fff" stroke="#000" stroke-width="0.85"/>
<circle cx="352.5" cy="390.4" r="0.7" fill="#fff" stroke="#000" stroke-width="0.85"/>
<circle cx="322.3" cy="368.5" r="1.6" fill="#fff" stroke="#000" stroke-width="0.85"/>
<circle cx="339.1" cy="363.9" r="2.0" fill="#fff" stroke="#000" stroke-width="0.85"/>
<circle cx="325.9" cy="389.5" r="0.9" fill="#fff" stroke="#000" stroke-width="0.85"/>
<circle cx="330.5" cy="367.1" r="1.1" fill="#fff" stroke="#000" stroke-width="0.85"/>
<circle cx="313.1" cy="376.2" r="2.0" fill="#fff" stroke="#000" stroke-width="0.85"/>
<circle cx="329.3" cy="401.1" r="0.9" fill="#fff" stroke="#000" stroke-width="0.85"/>
<circle cx="322.2" cy="378.6" r="1.3" fill="#fff" stroke="#000" stroke-width="0.85"/>
<circle cx="346.1" cy="392.7" r="0.7" fill="#fff" stroke="#000" stroke-width="0.85"/>
<circle cx="347.5" cy="376.9" r="1.3" fill="#fff" stroke="#000" stroke-width="0.85"/>
<circle cx="326.7" cy="391.6" r="2.0" fill="#fff" stroke="#000" stroke-width="0.85"/>
<circle cx="320.3" cy="371.9" r="0.9" fill="#fff" stroke="#000" stroke-width="0.85"/>
<circle cx="352.0" cy="374.1" r="0.9" fill="#fff" stroke="#000" stroke-width="0.85"/>
<circle cx="354.6" cy="386.5" r="2.0" fill="#fff" stroke="#000" stroke-width="0.85"/>
<circle cx="331.4" cy="394.0" r="1.3" fill="#fff" stroke="#000" stroke-width="0.85"/>
<circle cx="352.7" cy="381.7" r="0.9" fill="#fff" stroke="#000" stroke-width="0.85"/>
<circle cx="321.8" cy="369.1" r="1.1" fill="#fff" stroke="#000" stroke-width="0.85"/>
<circle cx="337.7" cy="368.0" r="1.1" fill="#fff" stroke="#000" stroke-width="0.85"/>
<circle cx="316.7" cy="392.3" r="2.0" fill="#fff" stroke="#000" stroke-width="0.85"/>
<circle cx="350.6" cy="387.1" r="1.1" fill="#fff" stroke="#000" stroke-width="0.85"/>
<circle cx="352.1" cy="366.0" r="1.1" fill="#fff" stroke="#000" stroke-width="0.85"/>
<circle cx="328.5" cy="358.0" r="1.6" fill="#fff" stroke="#000" stroke-width="0.85"/>
<circle cx="348.3" cy="376.4" r="0.9" fill="#fff" stroke="#000" stroke-width="0.85"/>
<circle cx="347.4" cy="394.3" r="0.7" fill="#fff" stroke="#000" stroke-width="0.85"/>
<circle cx="316.6" cy="381.1" r="1.1" fill="#fff" stroke="#000" stroke-width="0.85"/>
<circle cx="332.3" cy="391.1" r="1.3" fill="#fff" stroke="#000" stroke-width="0.85"/>
<circle cx="323.5" cy="370.6" r="0.9" fill="#fff" stroke="#000" stroke-width="0.85"/>
<circle cx="328.5" cy="364.2" r="0.7" fill="#fff" stroke="#000" stroke-width="0.85"/>
<circle cx="313.7" cy="385.1" r="1.6" fill="#fff" stroke="#000" stroke-width="0.85"/>
<circle cx="322.2" cy="388.4" r="2.0" fill="#fff" stroke="#000" stroke-width="0.85"/>
<circle cx="327.3" cy="371.4" r="0.9" fill="#fff" stroke="#000" stroke-width="0.85"/>
<circle cx="352.5" cy="378.0" r="0.9" fill="#fff" stroke="#000" stroke-width="0.85"/>
<circle cx="328.8" cy="388.5" r="0.7" fill="#fff" stroke="#000" stroke-width="0.85"/>
<circle cx="318.8" cy="372.7" r="1.3" fill="#fff" stroke="#000" stroke-width="0.85"/>
<circle cx="326.2" cy="372.4" r="1.1" fill="#fff" stroke="#000" stroke-width="0.85"/>
<circle cx="325.4" cy="371.7" r="1.1" fill="#fff" stroke="#000" stroke-width="0.85"/>
<circle cx="354.0" cy="374.7" r="2.0" fill="#fff" stroke="#000" stroke-width="0.85"/>
<circle cx="351.8" cy="393.9" r="2.0" fill="#fff" stroke="#000" stroke-width="0.85"/>
<circle cx="320.3" cy="381.2" r="0.9" fill="#fff" stroke="#000" stroke-width="0.85"/>
<circle cx="348.3" cy="388.1" r="1.1" fill="#fff" stroke="#000" stroke-width="0.85"/>
<circle cx="315.4" cy="382.0" r="0.7" fill="#fff" stroke="#000" stroke-width="0.85"/>
<circle cx="342.7" cy="400.5" r="1.3" fill="#fff" stroke="#000" stroke-width="0.85"/>
<circle cx="347.0" cy="392.9" r="0.7" fill="#fff" stroke="#000" stroke-width="0.85"/>
<circle cx="337.0" cy="365.8" r="0.9" fill="#fff" stroke="#000" stroke-width="0.85"/>
<circle cx="330.2" cy="367.0" r="1.3" fill="#fff" stroke="#000" stroke-width="0.85"/>
<circle cx="349.0" cy="371.6" r="1.1" fill="#fff" stroke="#000" stroke-width="0.85"/>
<circle cx="314.5" cy="375.5" r="1.3" fill="#fff" stroke="#000" stroke-width="0.85"/>
<circle cx="322.7" cy="366.1" r="1.1" fill="#fff" stroke="#000" stroke-width="0.85"/>
<circle cx="343.6" cy="360.5" r="1.1" fill="#fff" stroke="#000" stroke-width="0.85"/>
<circle cx="341.6" cy="394.9" r="0.7" fill="#fff" stroke="#000" stroke-width="0.85"/>
<circle cx="357.1" cy="378.2" r="2.0" fill="#fff" stroke="#000" stroke-width="0.85"/>
<circle cx="333.7" cy="398.1" r="1.3" fill="#fff" stroke="#000" stroke-width="0.85"/>
<circle cx="313.2" cy="386.6" r="1.3" fill="#fff" stroke="#000" stroke-width="0.85"/>
<circle cx="351.0" cy="375.4" r="1.1" fill="#fff" stroke="#000" stroke-width="0.85"/>
<circle cx="349.7" cy="389.0" r="1.3" fill="#fff" stroke="#000" stroke-width="0.85"/>
<circle cx="341.6" cy="396.6" r="0.7" fill="#fff" stroke="#000" stroke-width="0.85"/>
<circle cx="315.9" cy="381.8" r="0.9" fill="#fff" stroke="#000" stroke-width="0.85"/>
<circle cx="342.4" cy="369.6" r="1.6" fill="#fff" stroke="#000" stroke-width="0.85"/>
<circle cx="340.4" cy="360.5" r="2.0" fill="#fff" stroke="#000" stroke-width="0.85"/>
<circle cx="348.7" cy="369.6" r="1.3" fill="#fff" stroke="#000" stroke-width="0.85"/>
<circle cx="355.9" cy="390.8" r="1.6" fill="#fff" stroke="#000" stroke-width="0.85"/>
<circle cx="315.1" cy="383.9" r="0.9" fill="#fff" stroke="#000" stroke-width="0.85"/>
<circle cx="332.8" cy="367.5" r="0.9" fill="#fff" stroke="#000" stroke-width="0.85"/>
<circle cx="354.3" cy="382.5" r="2.0" fill="#fff" stroke="#000" stroke-width="0.85"/>
<circle cx="340.6" cy="368.4" r="2.0" fill="#fff" stroke="#000" stroke-width="0.85"/>
<circle cx="326.5" cy="367.5" r="0.9" fill="#fff" stroke="#000" stroke-width="0.85"/>
<circle cx="357.1" cy="382.2" r="0.9" fill="#fff" stroke="#000" stroke-width="0.85"/>
<circle cx="312.4" cy="375.9" r="1.6" fill="#fff" stroke="#000" stroke-width="0.85"/>
<circle cx="349.3" cy="378.5" r="1.1" fill="#fff" stroke="#000" stroke-width="0.85"/>
<circle cx="349.4" cy="381.7" r="1.1" fill="#fff" stroke="#000" stroke-width="0.85"/>
<circle cx="337.6" cy="365.5" r="1.6" fill="#fff" stroke="#000" stroke-width="0.85"/>
<circle cx="342.0" cy="370.2" r="1.3" fill="#fff" stroke="#000" stroke-width="0.85"/>
<circle cx="351.7" cy="368.5" r="1.6" fill="#fff" stroke="#000" stroke-width="0.85"/>
<circle cx="346.6" cy="360.9" r="0.9" fill="#fff" stroke="#000" stroke-width="0.85"/>
<circle cx="317.8" cy="376.2" r="0.7" fill="#fff" stroke="#000" stroke-width="0.85"/>
<circle cx="350.7" cy="365.4" r="0.7" fill="#fff" stroke="#000" stroke-width="0.85"/>
<circle cx="338.3" cy="367.8" r="0.9" fill="#fff" stroke="#000" stroke-width="0.85"/>
<circle cx="315.1" cy="382.7" r="0.7" fill="#fff" stroke="#000" stroke-width="0.85"/>
<circle cx="326.8" cy="394.1" r="2.0" fill="#fff" stroke="#000" stroke-width="0.85"/>
<circle cx="338.8" cy="368.4" r="0.7" fill="#fff" stroke="#000" stroke-width="0.85"/>
<circle cx="336.4" cy="393.0" r="0.9" fill="#fff" stroke="#000" stroke-width="0.85"/>
<circle cx="316.9" cy="378.7" r="0.9" fill="#fff" stroke="#000" stroke-width="0.85"/>
<circle cx="317.4" cy="385.7" r="1.1" fill="#fff" stroke="#000" stroke-width="0.85"/>
<circle cx="329.0" cy="364.8" r="2.0" fill="#fff" stroke="#000" stroke-width="0.85"/>
<circle cx="321.1" cy="378.9" r="1.1" fill="#fff" stroke="#000" stroke-width="0.85"/>
<circle cx="356.0" cy="369.6" r="1.1" fill="#fff" stroke="#000" stroke-width="0.85"/>
<circle cx="342.9" cy="369.6" r="0.9" fill="#fff" stroke="#000" stroke-width="0.85"/>
<circle cx="323.4" cy="388.2" r="1.1" fill="#fff" stroke="#000" stroke-width="0.85"/>
<circle cx="322.8" cy="385.0" r="1.1" fill="#fff" stroke="#000" stroke-width="0.85"/>
<circle cx="341.0" cy="358.8" r="0.9" fill="#fff" stroke="#000" stroke-width="0.85"/>
<circle cx="353.9" cy="372.8" r="1.3" fill="#fff" stroke="#000" stroke-width="0.85"/>
<circle cx="350.1" cy="396.0" r="2.0" fill="#fff" stroke="#000" stroke-width="0.85"/>
<circle cx="340.7" cy="401.0" r="1.6" fill="#fff" stroke="#000" stroke-width="0.85"/>
<circle cx="345.8" cy="371.5" r="1.1" fill="#fff" stroke="#000" stroke-width="0.85"/>
<circle cx="344.8" cy="392.6" r="1.6" fill="#fff" stroke="#000" stroke-width="0.85"/>
<circle cx="327.9" cy="390.0" r="1.3" fill="#fff" stroke="#000" stroke-width="0.85"/>
<circle cx="349.1" cy="387.5" r="1.3" fill="#fff" stroke="#000" stroke-width="0.85"/>
<circle cx="319.4" cy="374.3" r="0.7" fill="#fff" stroke="#000" stroke-width="0.85"/>
<circle cx="321.9" cy="390.4" r="1.1" fill="#fff" stroke="#000" stroke-width="0.85"/>
<circle cx="323.5" cy="378.7" r="1.1" fill="#fff" stroke="#000" stroke-width="0.85"/>
<circle cx="348.0" cy="377.5" r="1.1" fill="#fff" stroke="#000" stroke-width="0.85"/>
<circle cx="331.7" cy="400.6" r="0.9" fill="#fff" stroke="#000" stroke-width="0.85"/>
<circle cx="333.2" cy="391.0" r="1.6" fill="#fff" stroke="#000" stroke-width="0.85"/>
<circle cx="347.6" cy="364.5" r="1.1" fill="#fff" stroke="#000" stroke-width="0.85"/>
<circle cx="320.2" cy="388.8" r="2.0" fill="#fff" stroke="#000" stroke-width="0.85"/>
<circle cx="331.2" cy="368.9" r="0.7" fill="#fff" stroke="#000" stroke-width="0.85"/>
<circle cx="340.3" cy="367.8" r="0.9" fill="#fff" stroke="#000" stroke-width="0.85"/>
<circle cx="333.5" cy="389.6" r="0.9" fill="#fff" stroke="#000" stroke-width="0.85"/>
<circle cx="340.0" cy="369.0" r="1.1" fill="#fff" stroke="#000" stroke-width="0.85"/>
<circle cx="356.2" cy="387.9" r="2.0" fill="#fff" stroke="#000" stroke-width="0.85"/>
<circle cx="315.2" cy="390.1" r="0.9" fill="#fff" stroke="#000" stroke-width="0.85"/>
<circle cx="355.4" cy="384.6" r="0.9" fill="#fff" stroke="#000" stroke-width="0.85"/>
<circle cx="350.0" cy="376.9" r="0.9" fill="#fff" stroke="#000" stroke-width="0.85"/>
<circle cx="340.7" cy="392.8" r="1.1" fill="#fff" stroke="#000" stroke-width="0.85"/>
<circle cx="321.8" cy="377.1" r="2.0" fill="#fff" stroke="#000" stroke-width="0.85"/>
<circle cx="322.0" cy="379.5" r="1.3" fill="#fff" stroke="#000" stroke-width="0.85"/>
<circle cx="344.1" cy="358.3" r="0.7" fill="#fff" stroke="#000" stroke-width="0.85"/>
<circle cx="356.3" cy="381.3" r="1.1" fill="#fff" stroke="#000" stroke-width="0.85"/>
<circle cx="321.1" cy="378.3" r="2.0" fill="#fff" stroke="#000" stroke-width="0.85"/>
<circle cx="353.0" cy="392.0" r="1.6" fill="#fff" stroke="#000" stroke-width="0.85"/>
<circle cx="325.0" cy="365.5" r="1.6" fill="#fff" stroke="#000" stroke-width="0.85"/>
<circle cx="350.6" cy="376.9" r="1.1" fill="#fff" stroke="#000" stroke-width="0.85"/>
<circle cx="351.2" cy="377.9" r="0.9" fill="#fff" stroke="#000" stroke-width="0.85"/>
<circle cx="322.4" cy="387.6" r="0.7" fill="#fff" stroke="#000" stroke-width="0.85"/>
<circle cx="341.9" cy="370.8" r="1.1" fill="#fff" stroke="#000" stroke-width="0.85"/>
<circle cx="324.6" cy="384.0" r="1.6" fill="#fff" stroke="#000" stroke-width="0.85"/>
<circle cx="349.6" cy="366.1" r="1.1" fill="#fff" stroke="#000" stroke-width="0.85"/>
<circle cx="318.9" cy="368.6" r="0.7" fill="#fff" stroke="#000" stroke-width="0.85"/>
<circle cx="322.6" cy="382.5" r="2.0" fill="#fff" stroke="#000" stroke-width="0.85"/>
<circle cx="351.6" cy="379.8" r="1.3" fill="#fff" stroke="#000" stroke-width="0.85"/>
<circle cx="353.7" cy="376.6" r="1.1" fill="#fff" stroke="#000" stroke-width="0.85"/>
<circle cx="357.9" cy="384.0" r="1.1" fill="#fff" stroke="#000" stroke-width="0.85"/>
<circle cx="328.3" cy="387.4" r="1.6" fill="#fff" stroke="#000" stroke-width="0.85"/>
<circle cx="348.5" cy="386.3" r="1.1" fill="#fff" stroke="#000" stroke-width="0.85"/>
<circle cx="336.5" cy="399.2" r="0.9" fill="#fff" stroke="#000" stroke-width="0.85"/>
<circle cx="333.8" cy="390.6" r="1.6" fill="#fff" stroke="#000" stroke-width="0.85"/>
<circle cx="321.4" cy="371.8" r="1.1" fill="#fff" stroke="#000" stroke-width="0.85"/>
<circle cx="330.3" cy="391.7" r="0.9" fill="#fff" stroke="#000" stroke-width="0.85"/>
<circle cx="323.9" cy="363.7" r="1.6" fill="#fff" stroke="#000" stroke-width="0.85"/>
<circle cx="338.1" cy="360.6" r="2.0" fill="#fff" stroke="#000" stroke-width="0.85"/>
<circle cx="348.1" cy="394.9" r="0.9" fill="#fff" stroke="#000" stroke-width="0.85"/>
<circle cx="357.0" cy="385.1" r="1.6" fill="#fff" stroke="#000" stroke-width="0.85"/>
<circle cx="332.7" cy="359.5" r="0.9" fill="#fff" stroke="#000" stroke-width="0.85"/>
<circle cx="353.5" cy="369.1" r="0.7" fill="#fff" stroke="#000" stroke-width="0.85"/>
<circle cx="344.7" cy="364.2" r="1.1" fill="#fff" stroke="#000" stroke-width="0.85"/>
<circle cx="345.8" cy="384.9" r="1.3" fill="#fff" stroke="#000" stroke-width="0.85"/>
<circle cx="351.2" cy="375.8" r="2.0" fill="#fff" stroke="#000" stroke-width="0.85"/>
<circle cx="317.3" cy="373.1" r="1.1" fill="#fff" stroke="#000" stroke-width="0.85"/>
<circle cx="324.3" cy="380.2" r="0.9" fill="#fff" stroke="#000" stroke-width="0.85"/>
<circle cx="334.6" cy="363.2" r="0.9" fill="#fff" stroke="#000" stroke-width="0.85"/>
<circle cx="328.7" cy="370.4" r="2.0" fill="#fff" stroke="#000" stroke-width="0.85"/>
<circle cx="334.6" cy="390.4" r="1.1" fill="#fff" stroke="#000" stroke-width="0.85"/>
<circle cx="338.2" cy="398.9" r="1.1" fill="#fff" stroke="#000" stroke-width="0.85"/>
<circle cx="333.3" cy="357.3" r="2.0" fill="#fff" stroke="#000" stroke-width="0.85"/>
<circle cx="342.8" cy="370.5" r="1.1" fill="#fff" stroke="#000" stroke-width="0.85"/>
<circle cx="338.3" cy="361.9" r="1.1" fill="#fff" stroke="#000" stroke-width="0.85"/>
<circle cx="347.3" cy="385.0" r="1.1" fill="#fff" stroke="#000" stroke-width="0.85"/>
<circle cx="323.4" cy="364.3" r="0.9" fill="#fff" stroke="#000" stroke-width="0.85"/>
<circle cx="347.6" cy="380.3" r="1.1" fill="#fff" stroke="#000" stroke-width="0.85"/>
<circle cx="347.9" cy="377.6" r="1.1" fill="#fff" stroke="#000" stroke-width="0.85"/>
<circle cx="328.4" cy="367.3" r="1.1" fill="#fff" stroke="#000" stroke-width="0.85"/>
<circle cx="318.6" cy="383.0" r="0.9" fill="#fff" stroke="#000" stroke-width="0.85"/>
<circle cx="354.0" cy="378.8" r="1.1" fill="#fff" stroke="#000" stroke-width="0.85"/>
<circle cx="358.9" cy="376.5" r="0.7" fill="#fff" stroke="#000" stroke-width="0.85"/>
<circle cx="332.0" cy="390.1" r="2.0" fill="#fff" stroke="#000" stroke-width="0.85"/>
<circle cx="351.9" cy="378.9" r="1.1" fill="#fff" stroke="#000" stroke-width="0.85"/>
<circle cx="346.7" cy="384.5" r="1.1" fill="#fff" stroke="#000" stroke-width="0.85"/>
<circle cx="348.0" cy="376.1" r="1.1" fill="#fff" stroke="#000" stroke-width="0.85"/>
<circle cx="351.3" cy="367.2" r="1.1" fill="#fff" stroke="#000" stroke-width="0.85"/>
<circle cx="312.8" cy="379.8" r="1.6" fill="#fff" stroke="#000" stroke-width="0.85"/>
<circle cx="346.7" cy="381.1" r="2.0" fill="#fff" stroke="#000" stroke-width="0.85"/>
<circle cx="328.2" cy="365.8" r="0.9" fill="#fff" stroke="#000" stroke-width="0.85"/>
<circle cx="321.5" cy="386.9" r="0.9" fill="#fff" stroke="#000" stroke-width="0.85"/>
<circle cx="342.0" cy="371.0" r="1.3" fill="#fff" stroke="#000" stroke-width="0.85"/>
<circle cx="342.7" cy="369.8" r="1.1" fill="#fff" stroke="#000" stroke-width="0.85"/>
<circle cx="329.7" cy="358.8" r="1.1" fill="#fff" stroke="#000" stroke-width="0.85"/>
<circle cx="334.6" cy="390.3" r="1.6" fill="#fff" stroke="#000" stroke-width="0.85"/>
<circle cx="354.5" cy="379.4" r="1.3" fill="#fff" stroke="#000" stroke-width="0.85"/>
<circle cx="354.5" cy="370.7" r="0.7" fill="#fff" stroke="#000" stroke-width="0.85"/>
<circle cx="332.7" cy="389.9" r="1.1" fill="#fff" stroke="#000" stroke-width="0.85"/>
<circle cx="326.6" cy="370.6" r="1.1" fill="#fff" stroke="#000" stroke-width="0.85"/>
<circle cx="321.3" cy="384.9" r="1.3" fill="#fff" stroke="#000" stroke-width="0.85"/>
<circle cx="339.8" cy="364.5" r="0.7" fill="#fff" stroke="#000" stroke-width="0.85"/>
<circle cx="343.4" cy="363.0" r="1.1" fill="#fff" stroke="#000" stroke-width="0.85"/>
<circle cx="332.7" cy="369.1" r="1.6" fill="#fff" stroke="#000" stroke-width="0.85"/>
<circle cx="315.4" cy="385.4" r="1.1" fill="#fff" stroke="#000" stroke-width="0.85"/>
<circle cx="312.4" cy="381.4" r="0.9" fill="#fff" stroke="#000" stroke-width="0.85"/>
<circle cx="343.9" cy="392.8" r="1.1" fill="#fff" stroke="#000" stroke-width="0.85"/>
<circle cx="328.8" cy="397.9" r="1.1" fill="#fff" stroke="#000" stroke-width="0.85"/>
<circle cx="323.5" cy="386.7" r="2.0" fill="#fff" stroke="#000" stroke-width="0.85"/>
<circle cx="320.1" cy="374.2" r="0.9" fill="#fff" stroke="#000" stroke-width="0.85"/>
<circle cx="327.7" cy="370.9" r="2.0" fill="#fff" stroke="#000" stroke-width="0.85"/>
<circle cx="319.2" cy="374.6" r="1.3" fill="#fff" stroke="#000" stroke-width="0.85"/>
<circle cx="352.7" cy="379.2" r="0.9" fill="#fff" stroke="#000" stroke-width="0.85"/>
<circle cx="321.7" cy="375.6" r="0.9" fill="#fff" stroke="#000" stroke-width="0.85"/>
<circle cx="328.4" cy="388.8" r="1.1" fill="#fff" stroke="#000" stroke-width="0.85"/>
<circle cx="320.5" cy="394.3" r="1.1" fill="#fff" stroke="#000" stroke-width="0.85"/>
<circle cx="351.7" cy="366.9" r="1.6" fill="#fff" stroke="#000" stroke-width="0.85"/>
<circle cx="319.8" cy="392.5" r="1.1" fill="#fff" stroke="#000" stroke-width="0.85"/>
<circle cx="324.1" cy="389.4" r="0.7" fill="#fff" stroke="#000" stroke-width="0.85"/>
<circle cx="316.8" cy="379.7" r="1.3" fill="#fff" stroke="#000" stroke-width="0.85"/>
<circle cx="348.3" cy="391.1" r="1.1" fill="#fff" stroke="#000" stroke-width="0.85"/>
<circle cx="354.9" cy="391.2" r="1.6" fill="#fff" stroke="#000" stroke-width="0.85"/>
<circle cx="321.6" cy="388.7" r="1.1" fill="#fff" stroke="#000" stroke-width="0.85"/>
<circle cx="349.1" cy="362.5" r="0.7" fill="#fff" stroke="#000" stroke-width="0.85"/>
<circle cx="347.5" cy="390.5" r="2.0" fill="#fff" stroke="#000" stroke-width="0.85"/>
<circle cx="352.9" cy="376.3" r="0.9" fill="#fff" stroke="#000" stroke-width="0.85"/>
<circle cx="317.2" cy="393.1" r="2.0" fill="#fff" stroke="#000" stroke-width="0.85"/>
<circle cx="349.9" cy="377.2" r="0.9" fill="#fff" stroke="#000" stroke-width="0.85"/>
<circle cx="338.3" cy="391.2" r="0.9" fill="#fff" stroke="#000" stroke-width="0.85"/>
<circle cx="354.9" cy="372.7" r="2.0" fill="#fff" stroke="#000" stroke-width="0.85"/>
<circle cx="354.1" cy="389.5" r="0.7" fill="#fff" stroke="#000" stroke-width="0.85"/>
<circle cx="339.0" cy="366.9" r="0.7" fill="#fff" stroke="#000" stroke-width="0.85"/>
<circle cx="326.0" cy="368.6" r="0.9" fill="#fff" stroke="#000" stroke-width="0.85"/>
<circle cx="322.6" cy="367.7" r="1.6" fill="#fff" stroke="#000" stroke-width="0.85"/>
<circle cx="331.0" cy="368.7" r="0.9" fill="#fff" stroke="#000" stroke-width="0.85"/>
<circle cx="327.7" cy="400.2" r="1.1" fill="#fff" stroke="#000" stroke-width="0.85"/>
<circle cx="324.6" cy="387.8" r="0.7" fill="#fff" stroke="#000" stroke-width="0.85"/>
<circle cx="350.7" cy="380.4" r="2.0" fill="#fff" stroke="#000" stroke-width="0.85"/>
<circle cx="332.2" cy="393.2" r="1.1" fill="#fff" stroke="#000" stroke-width="0.85"/>
<circle cx="321.4" cy="381.5" r="1.1" fill="#fff" stroke="#000" stroke-width="0.85"/>
<circle cx="351.9" cy="382.3" r="1.1" fill="#fff" stroke="#000" stroke-width="0.85"/>
<circle cx="348.6" cy="383.7" r="1.6" fill="#fff" stroke="#000" stroke-width="0.85"/>
<circle cx="348.1" cy="385.8" r="1.6" fill="#fff" stroke="#000" stroke-width="0.85"/>
<circle cx="348.3" cy="373.7" r="0.7" fill="#fff" stroke="#000" stroke-width="0.85"/>
<circle cx="328.1" cy="361.6" r="1.3" fill="#fff" stroke="#000" stroke-width="0.85"/>
<circle cx="329.4" cy="368.1" r="1.1" fill="#fff" stroke="#000" stroke-width="0.85"/>
<circle cx="333.6" cy="363.2" r="1.1" fill="#fff" stroke="#000" stroke-width="0.85"/>
<circle cx="321.7" cy="379.8" r="1.1" fill="#fff" stroke="#000" stroke-width="0.85"/>
<circle cx="337.9" cy="392.2" r="1.1" fill="#fff" stroke="#000" stroke-width="0.85"/>
<circle cx="350.8" cy="390.8" r="0.9" fill="#fff" stroke="#000" stroke-width="0.85"/>
<circle cx="349.7" cy="369.8" r="0.7" fill="#fff" stroke="#000" stroke-width="0.85"/>
<circle cx="348.1" cy="375.8" r="1.6" fill="#fff" stroke="#000" stroke-width="0.85"/>
<circle cx="346.5" cy="382.9" r="0.9" fill="#fff" stroke="#000" stroke-width="0.85"/>
<circle cx="317.7" cy="389.1" r="0.9" fill="#fff" stroke="#000" stroke-width="0.85"/>
<circle cx="317.3" cy="392.7" r="1.3" fill="#fff" stroke="#000" stroke-width="0.85"/>
<circle cx="332.2" cy="357.2" r="0.9" fill="#fff" stroke="#000" stroke-width="0.85"/>
<circle cx="328.6" cy="390.3" r="2.0" fill="#fff" stroke="#000" stroke-width="0.85"/>
<circle cx="355.1" cy="383.1" r="1.6" fill="#fff" stroke="#000" stroke-width="0.85"/>
<circle cx="348.7" cy="360.6" r="2.0" fill="#fff" stroke="#000" stroke-width="0.85"/>
<circle cx="341.4" cy="388.3" r="1.1" fill="#fff" stroke="#000" stroke-width="0.85"/>
<circle cx="350.3" cy="386.9" r="0.9" fill="#fff" stroke="#000" stroke-width="0.85"/>
<circle cx="315.8" cy="372.2" r="1.6" fill="#fff" stroke="#000" stroke-width="0.85"/>
<circle cx="321.6" cy="395.4" r="1.6" fill="#fff" stroke="#000" stroke-width="0.85"/>
<circle cx="353.1" cy="389.4" r="1.1" fill="#fff" stroke="#000" stroke-width="0.85"/>
<circle cx="319.1" cy="394.9" r="1.1" fill="#fff" stroke="#000" stroke-width="0.85"/>
<circle cx="325.8" cy="396.7" r="2.0" fill="#fff" stroke="#000" stroke-width="0.85"/>
<circle cx="351.9" cy="382.4" r="1.6" fill="#fff" stroke="#000" stroke-width="0.85"/>
<circle cx="346.9" cy="382.1" r="0.9" fill="#fff" stroke="#000" stroke-width="0.85"/>
<circle cx="340.0" cy="369.3" r="1.1" fill="#fff" stroke="#000" stroke-width="0.85"/>
<circle cx="334.4" cy="358.3" r="1.3" fill="#fff" stroke="#000" stroke-width="0.85"/>
<circle cx="325.1" cy="390.3" r="0.7" fill="#fff" stroke="#000" stroke-width="0.85"/>
<circle cx="333.3" cy="398.4" r="1.3" fill="#fff" stroke="#000" stroke-width="0.85"/>
<circle cx="349.1" cy="373.2" r="0.9" fill="#fff" stroke="#000" stroke-width="0.85"/>
<circle cx="349.7" cy="381.5" r="2.0" fill="#fff" stroke="#000" stroke-width="0.85"/>
<circle cx="331.2" cy="364.0" r="1.6" fill="#fff" stroke="#000" stroke-width="0.85"/>
<circle cx="341.9" cy="358.7" r="2.0" fill="#fff" stroke="#000" stroke-width="0.85"/>
<circle cx="347.7" cy="391.5" r="0.7" fill="#fff" stroke="#000" stroke-width="0.85"/>
<circle cx="342.8" cy="361.3" r="0.9" fill="#fff" stroke="#000" stroke-width="0.85"/>
<circle cx="323.2" cy="370.7" r="1.3" fill="#fff" stroke="#000" stroke-width="0.85"/>
<circle cx="314.6" cy="384.3" r="0.9" fill="#fff" stroke="#000" stroke-width="0.85"/>
<circle cx="319.2" cy="378.4" r="0.9" fill="#fff" stroke="#000" stroke-width="0.85"/>
<circle cx="336.5" cy="390.3" r="0.7" fill="#fff" stroke="#000" stroke-width="0.85"/>
<circle cx="317.3" cy="381.4" r="0.9" fill="#fff" stroke="#000" stroke-width="0.85"/>
<circle cx="358.2" cy="376.9" r="0.9" fill="#fff" stroke="#000" stroke-width="0.85"/>
<circle cx="333.7" cy="390.5" r="0.9" fill="#fff" stroke="#000" stroke-width="0.85"/>
<circle cx="314.2" cy="390.1" r="2.0" fill="#fff" stroke="#000" stroke-width="0.85"/>
<circle cx="342.0" cy="389.8" r="2.0" fill="#fff" stroke="#000" stroke-width="0.85"/>
<circle cx="320.7" cy="366.9" r="0.9" fill="#fff" stroke="#000" stroke-width="0.85"/>
<circle cx="339.0" cy="366.1" r="1.1" fill="#fff" stroke="#000" stroke-width="0.85"/>
<circle cx="320.7" cy="373.5" r="1.1" fill="#fff" stroke="#000" stroke-width="0.85"/>
<circle cx="340.6" cy="391.9" r="1.1" fill="#fff" stroke="#000" stroke-width="0.85"/>
<circle cx="337.6" cy="393.0" r="1.1" fill="#fff" stroke="#000" stroke-width="0.85"/>
<circle cx="327.6" cy="392.8" r="1.1" fill="#fff" stroke="#000" stroke-width="0.85"/>
<circle cx="321.3" cy="378.9" r="0.9" fill="#fff" stroke="#000" stroke-width="0.85"/>
<circle cx="321.4" cy="361.1" r="0.9" fill="#fff" stroke="#000" stroke-width="0.85"/>
<circle cx="358.4" cy="380.1" r="1.1" fill="#fff" stroke="#000" stroke-width="0.85"/>
<circle cx="348.4" cy="361.4" r="0.7" fill="#fff" stroke="#000" stroke-width="0.85"/>
<circle cx="346.0" cy="370.5" r="0.7" fill="#fff" stroke="#000" stroke-width="0.85"/>
<circle cx="344.9" cy="400.1" r="1.1" fill="#fff" stroke="#000" stroke-width="0.85"/>
<circle cx="350.2" cy="373.3" r="0.9" fill="#fff" stroke="#000" stroke-width="0.85"/>
<circle cx="321.6" cy="383.7" r="0.7" fill="#fff" stroke="#000" stroke-width="0.85"/>
<circle cx="350.7" cy="390.3" r="1.3" fill="#fff" stroke="#000" stroke-width="0.85"/>
<circle cx="339.4" cy="393.8" r="0.9" fill="#fff" stroke="#000" stroke-width="0.85"/>
<circle cx="359.0" cy="385.7" r="0.7" fill="#fff" stroke="#000" stroke-width="0.85"/>
<circle cx="319.3" cy="368.9" r="1.1" fill="#fff" stroke="#000" stroke-width="0.85"/>
<circle cx="344.7" cy="360.9" r="1.6" fill="#fff" stroke="#000" stroke-width="0.85"/>
<circle cx="334.6" cy="395.7" r="3.2" fill="#fff" stroke="#000" stroke-width="0.7"/>
<circle cx="345.7" cy="391.1" r="2.6" fill="#fff" stroke="#000" stroke-width="0.7"/>
<circle cx="353.2" cy="379.5" r="2.4" fill="#fff" stroke="#000" stroke-width="0.7"/>
<circle cx="323.0" cy="366.7" r="2.2" fill="#fff" stroke="#000" stroke-width="0.7"/>
<circle cx="338.1" cy="366.7" r="2.2" fill="#fff" stroke="#000" stroke-width="0.7"/>
<circle cx="355.0" cy="386.0" r="2.2" fill="#fff" stroke="#000" stroke-width="0.7"/>
<path d="M150.4,454.3 L134.9,454.3" stroke="#000" stroke-width="1.60" fill="none"/>
<path d="M134.9,454.3 A15.5,15.5 0 0 1 150.4,438.8" stroke="#000" stroke-width="0.80" fill="none"/>
<path d="M150.0,447.0 L158.7,447.0" fill="none" stroke="#000" stroke-width="0.80" />
<path d="M156.0,444.0 L156.0,450.0" fill="none" stroke="#000" stroke-width="0.00" />
<path d="M66.1,420.8 Q107.6,403.5 148.1,420.8" fill="none" stroke="#000" stroke-width="0.9"/>
<path d="M107.6,403.2 L107.6,412.3" fill="none" stroke="#000" stroke-width="0.90" />
<path d="M258.6,443.0 L258.6,428.4" stroke="#000" stroke-width="1.20" fill="none"/>
<path d="M258.6,428.4 A14.6,14.6 0 0 1 273.2,443.0" stroke="#000" stroke-width="0.80" fill="none"/>
<path d="M288.4,443.0 L288.4,428.4" stroke="#000" stroke-width="1.20" fill="none"/>
<path d="M288.4,428.4 A14.6,14.6 0 0 0 273.8,443.0" stroke="#000" stroke-width="0.80" fill="none"/>
<path d="M108.0,532.0 L123.0,532.0" stroke="#000" stroke-width="1.30" fill="none"/>
<path d="M123.0,532.0 A15.0,15.0 0 0 1 108.0,547.0" stroke="#000" stroke-width="0.80" fill="none"/>
<path d="M106.5,610.5 L92.0,610.5" stroke="#000" stroke-width="1.60" fill="none"/>
<path d="M92.0,610.5 A14.5,14.5 0 0 1 106.5,596.0" stroke="#000" stroke-width="0.80" fill="none"/>
<path d="M305.0,510.0 L319.8,510.0" stroke="#000" stroke-width="1.60" fill="none"/>
<path d="M319.8,510.0 A14.8,14.8 0 0 0 305.0,495.2" stroke="#000" stroke-width="0.80" fill="none"/>
<path d="M257.3,514.0 L257.3,498.5" stroke="#000" stroke-width="1.40" fill="none"/>
<path d="M257.3,498.5 A15.5,15.5 0 0 1 272.8,514.0" stroke="#000" stroke-width="0.80" fill="none"/>
<path d="M288.0,514.0 L288.0,498.5" stroke="#000" stroke-width="1.40" fill="none"/>
<path d="M288.0,498.5 A15.5,15.5 0 0 0 272.5,514.0" stroke="#000" stroke-width="0.80" fill="none"/>
<path d="M256.2,586.0 L256.2,571.5" stroke="#000" stroke-width="1.20" fill="none"/>
<path d="M256.2,571.5 A14.5,14.5 0 0 1 270.7,586.0" stroke="#000" stroke-width="0.80" fill="none"/>
<path d="M241.5,590.5 L256.0,590.5" stroke="#000" stroke-width="1.60" fill="none"/>
<path d="M256.0,590.5 A14.5,14.5 0 0 1 241.5,605.0" stroke="#000" stroke-width="0.80" fill="none"/>
<path d="M245.1,627.5 L245.1,643.3" fill="none" stroke="#000" stroke-width="1.70" />
<rect x="242.8" y="626.2" width="3.0" height="2.8" rx="0.0" fill="none" stroke="#000" stroke-width="0.80"/>
<path d="M244.6,643.3 A15.8,15.8 0 0 0 260.4,627.5" stroke="#000" stroke-width="0.80" fill="none" />
<path d="M224.5,621.0 L209.0,621.0" stroke="#000" stroke-width="1.40" fill="none"/>
<path d="M209.0,621.0 A15.5,15.5 0 0 0 224.5,636.5" stroke="#000" stroke-width="0.80" fill="none"/>
<path d="M224.5,651.8 L209.0,651.8" stroke="#000" stroke-width="1.40" fill="none"/>
<path d="M209.0,651.8 A15.5,15.5 0 0 1 224.5,636.3" stroke="#000" stroke-width="0.80" fill="none"/>
<path d="M184.6,681.0 L184.6,665.4" stroke="#000" stroke-width="1.20" fill="none"/>
<path d="M184.6,665.4 A15.6,15.6 0 0 1 200.2,681.0" stroke="#000" stroke-width="0.80" fill="none"/>
<path d="M214.2,681.0 L214.2,665.4" stroke="#000" stroke-width="1.20" fill="none"/>
<path d="M214.2,665.4 A15.6,15.6 0 0 0 198.6,681.0" stroke="#000" stroke-width="0.80" fill="none"/>
<path d="M276.0,679.8 L261.5,679.8" stroke="#000" stroke-width="1.60" fill="none"/>
<path d="M261.5,679.8 A14.5,14.5 0 0 1 276.0,665.3" stroke="#000" stroke-width="0.80" fill="none"/>
<rect x="127.5" y="529.9" width="11.2" height="21.2" rx="0.0" fill="none" stroke="#000" stroke-width="0.90"/>
<circle cx="132.9" cy="539.4" r="4.2" fill="#fff" stroke="#000" stroke-width="1.3"/>
<circle cx="132.9" cy="539.4" r="2.3" fill="none" stroke="#000" stroke-width="0.7"/>
<circle cx="132.9" cy="541.7" r="0.8" fill="#000"/>
<rect x="133.3" y="553.2" width="5.4" height="11.3" rx="0.0" fill="none" stroke="#000" stroke-width="0.90"/>
<ellipse cx="127.6" cy="558.9" rx="4.4" ry="3.5" fill="none" stroke="#000" stroke-width="0.90"/>
<rect x="108.6" y="566.7" width="30.1" height="16.7" rx="0.0" fill="none" stroke="#000" stroke-width="0.90"/>
<rect x="110.2" y="568.3" width="26.9" height="13.5" rx="3.5" fill="none" stroke="#000" stroke-width="0.90"/>
<path d="M111.5,572.0 L111.5,578.0" fill="none" stroke="#000" stroke-width="1.40" />
<rect x="141.5" y="520.5" width="12.1" height="45.0" rx="0.0" fill="none" stroke="#000" stroke-width="0.90"/>
<path d="M141.5,538.2 L153.6,538.2" fill="none" stroke="#000" stroke-width="0.90" />
<path d="M141.5,549.5 L153.6,549.5" fill="none" stroke="#000" stroke-width="0.90" />
<rect x="153.6" y="538.2" width="1.4" height="11.3" rx="0.0" fill="none" stroke="#000" stroke-width="0.80"/>
<circle cx="147.8" cy="558.0" r="4.3" fill="#fff" stroke="#000" stroke-width="1.3"/>
<circle cx="147.8" cy="558.0" r="2.4" fill="none" stroke="#000" stroke-width="0.7"/>
<circle cx="147.8" cy="560.4" r="0.8" fill="#000"/>
<path d="M174.3,521.2 A41.9,41.9 0 0 1 167.6,592.0" stroke="#000" stroke-width="0.90" fill="none" />
<path d="M173.8,530.5 A34.6,34.6 0 0 1 173.8,578.5" stroke="#000" stroke-width="0.90" fill="none" />
<path d="M172.9,530.5 L172.9,578.6" fill="none" stroke="#000" stroke-width="0.90" />
<path d="M170.4,521.2 L174.4,521.2" fill="none" stroke="#000" stroke-width="0.90" />
<path d="M170.4,521.2 L170.4,530.5 L172.9,530.5" fill="none" stroke="#000" stroke-width="0.90" />
<g transform="translate(181.7 524.9) rotate(-42.0)"><rect x="-4.4" y="-4.2" width="8.8" height="8.4" fill="#fff" stroke="#000" stroke-width="0.9"/><path d="M-2.6,-4.2V4.2" stroke="#000" stroke-width="0.7"/></g>
<g transform="translate(190.2 538.7) rotate(-21.0)"><rect x="-4.4" y="-4.2" width="8.8" height="8.4" fill="#fff" stroke="#000" stroke-width="0.9"/><path d="M-2.6,-4.2V4.2" stroke="#000" stroke-width="0.7"/></g>
<g transform="translate(193.1 554.5) rotate(0.0)"><rect x="-4.4" y="-4.2" width="8.8" height="8.4" fill="#fff" stroke="#000" stroke-width="0.9"/><path d="M-2.6,-4.2V4.2" stroke="#000" stroke-width="0.7"/></g>
<g transform="translate(190.2 570.3) rotate(21.0)"><rect x="-4.4" y="-4.2" width="8.8" height="8.4" fill="#fff" stroke="#000" stroke-width="0.9"/><path d="M-2.6,-4.2V4.2" stroke="#000" stroke-width="0.7"/></g>
<g transform="translate(181.7 584.1) rotate(42.0)"><rect x="-4.4" y="-4.2" width="8.8" height="8.4" fill="#fff" stroke="#000" stroke-width="0.9"/><path d="M-2.6,-4.2V4.2" stroke="#000" stroke-width="0.7"/></g>
<path d="M143.5,622.5 A49.5,49.5 0 0 0 162.5,661.5" stroke="#000" stroke-width="1.30" fill="none" />
<path d="M145.4,622.5 A47.6,47.6 0 0 0 163.7,660.0" stroke="#000" stroke-width="0.80" fill="none" />
<path d="M165.5,622.5 A27.5,27.5 0 0 0 176.1,644.2" stroke="#000" stroke-width="1.30" fill="none" />
<path d="M163.8,622.5 A29.2,29.2 0 0 0 175.0,645.5" stroke="#000" stroke-width="0.70" fill="none" />
<path d="M154.5,622.5 A38.5,38.5 0 0 0 169.3,652.8" stroke="#000" stroke-width="0.80" fill="none" />
<path d="M165.5,622.5 L143.5,622.5" fill="none" stroke="#000" stroke-width="0.80" />
<path d="M165.7,625.6 L143.8,628.1" fill="none" stroke="#000" stroke-width="0.80" />
<path d="M166.2,628.7 L144.8,633.6" fill="none" stroke="#000" stroke-width="0.80" />
<path d="M167.1,631.7 L146.3,639.0" fill="none" stroke="#000" stroke-width="0.80" />
<path d="M168.3,634.6 L148.5,644.2" fill="none" stroke="#000" stroke-width="0.80" />
<path d="M169.8,637.3 L151.3,649.1" fill="none" stroke="#000" stroke-width="0.80" />
<path d="M171.6,639.8 L154.5,653.7" fill="none" stroke="#000" stroke-width="0.80" />
<path d="M173.7,642.1 L158.3,657.8" fill="none" stroke="#000" stroke-width="0.80" />
<path d="M176.1,644.2 L162.5,661.5" fill="none" stroke="#000" stroke-width="0.80" />
<path d="M143.5,600.5 L143.5,622.5" fill="none" stroke="#000" stroke-width="1.20" />
<path d="M145.4,600.5 L145.4,622.5" fill="none" stroke="#000" stroke-width="0.70" />
<path d="M165.5,605.0 L165.5,622.5" fill="none" stroke="#000" stroke-width="1.00" />
<path d="M143.5,600.4 L163.0,601.6" fill="none" stroke="#000" stroke-width="0.80" stroke-dasharray="3.2 1.6"/>
<path d="M143.5,606.8 L163.0,608.0" fill="none" stroke="#000" stroke-width="0.80" stroke-dasharray="3.2 1.6"/>
<path d="M143.5,613.2 L163.0,614.4" fill="none" stroke="#000" stroke-width="0.80" stroke-dasharray="3.2 1.6"/>
<path d="M142.0,617.4 L168.0,617.8" fill="none" stroke="#000" stroke-width="0.90" />
<path d="M154.5,610.0 L154.5,622.5" fill="none" stroke="#000" stroke-width="0.80" />
<rect x="307.3" y="448.3" width="11.2" height="18.3" rx="0.0" fill="none" stroke="#000" stroke-width="0.90"/>
<circle cx="338.8" cy="451.3" r="4.8" fill="#fff" stroke="#000" stroke-width="0.9"/>
<circle cx="357.0" cy="488.5" r="2.8" fill="#fff" stroke="#000" stroke-width="1.0"/>
<path d="M355.0,490.5 L359.0,486.5" stroke="#000" stroke-width="1.1"/>
<rect x="294.4" y="630.4" width="30" height="32.2" fill="#fff" stroke="#000" stroke-width="2.2"/>
<rect x="296.2" y="631.6" width="26.4" height="29.8" rx="1.5" fill="none" stroke="#000" stroke-width="0.70"/>
<path d="M300.0,636.6 L317.7,655.8" fill="none" stroke="#000" stroke-width="0.70" />
<path d="M317.7,636.6 L300.0,655.8" fill="none" stroke="#000" stroke-width="0.70" />
<circle cx="308.8" cy="646.3" r="1" fill="#000"/>
<path d="M314.5,666.0 L314.5,698.6 L290.5,698.6 L290.5,706.4" fill="none" stroke="#000" stroke-width="0.90" />
<ellipse cx="238.1" cy="696.0" rx="4.0" ry="4.8" fill="none" stroke="#000" stroke-width="0.90"/>
<rect x="232.6" y="701.2" width="11.9" height="5.2" rx="0.0" fill="none" stroke="#000" stroke-width="0.90"/>
<rect x="246.6" y="696.6" width="27.8" height="9.8" rx="0.0" fill="none" stroke="#000" stroke-width="0.90"/>
<rect x="254.3" y="699.3" width="11.2" height="5.5" rx="0.0" fill="none" stroke="#000" stroke-width="1.50"/>
<path d="M259.9,701.5 L259.9,704.8" fill="none" stroke="#000" stroke-width="1.00" />
<rect x="204.4" y="763.2" width="75.4" height="9.3" rx="0.0" fill="none" stroke="#000" stroke-width="1.20"/>
<path d="M204.4,768.2 L279.8,768.2" fill="none" stroke="#000" stroke-width="1.00" />
<path d="M204.4,768.2 L204.4,772.5" fill="none" stroke="#000" stroke-width="1.10" />
<path d="M207.5,768.2 L207.5,772.5" fill="none" stroke="#000" stroke-width="1.10" />
<path d="M210.7,768.2 L210.7,772.5" fill="none" stroke="#000" stroke-width="1.10" />
<path d="M213.8,768.2 L213.8,772.5" fill="none" stroke="#000" stroke-width="1.10" />
<path d="M217.0,768.2 L217.0,772.5" fill="none" stroke="#000" stroke-width="1.10" />
<path d="M220.1,768.2 L220.1,772.5" fill="none" stroke="#000" stroke-width="1.10" />
<path d="M223.2,768.2 L223.2,772.5" fill="none" stroke="#000" stroke-width="1.10" />
<path d="M226.4,768.2 L226.4,772.5" fill="none" stroke="#000" stroke-width="1.10" />
<path d="M229.5,768.2 L229.5,772.5" fill="none" stroke="#000" stroke-width="1.10" />
<path d="M232.7,768.2 L232.7,772.5" fill="none" stroke="#000" stroke-width="1.10" />
<path d="M235.8,768.2 L235.8,772.5" fill="none" stroke="#000" stroke-width="1.10" />
<path d="M239.0,768.2 L239.0,772.5" fill="none" stroke="#000" stroke-width="1.10" />
<path d="M242.1,768.2 L242.1,772.5" fill="none" stroke="#000" stroke-width="1.10" />
<path d="M245.2,768.2 L245.2,772.5" fill="none" stroke="#000" stroke-width="1.10" />
<path d="M248.4,768.2 L248.4,772.5" fill="none" stroke="#000" stroke-width="1.10" />
<path d="M251.5,768.2 L251.5,772.5" fill="none" stroke="#000" stroke-width="1.10" />
<path d="M254.7,768.2 L254.7,772.5" fill="none" stroke="#000" stroke-width="1.10" />
<path d="M257.8,768.2 L257.8,772.5" fill="none" stroke="#000" stroke-width="1.10" />
<path d="M260.9,768.2 L260.9,772.5" fill="none" stroke="#000" stroke-width="1.10" />
<path d="M264.1,768.2 L264.1,772.5" fill="none" stroke="#000" stroke-width="1.10" />
<path d="M267.2,768.2 L267.2,772.5" fill="none" stroke="#000" stroke-width="1.10" />
<path d="M270.4,768.2 L270.4,772.5" fill="none" stroke="#000" stroke-width="1.10" />
<path d="M273.5,768.2 L273.5,772.5" fill="none" stroke="#000" stroke-width="1.10" />
<path d="M276.7,768.2 L276.7,772.5" fill="none" stroke="#000" stroke-width="1.10" />
<rect x="272.4" y="793.2" width="14.6" height="13.6" rx="0.0" fill="none" stroke="#000" stroke-width="0.80"/>
<text x="278.2" y="806.5" font-family="Liberation Serif" font-size="15.5" textLength="24.5" lengthAdjust="spacingAndGlyphs" fill="#111">FAB</text>
<circle cx="273.8" cy="801" r="1.5" fill="none" stroke="#111" stroke-width="0.8"/>
<circle cx="275.8" cy="804.5" r="1.2" fill="none" stroke="#111" stroke-width="0.8"/>
<path d="M279.5,791.5V806.5M277.6,794.6H285" stroke="#111" stroke-width="0.9" fill="none"/>
<path d="M378.4,585.0 L378.4,400.5 L437.3,400.5 L437.3,342.6 L527.7,342.6 L527.7,366.3 L657.3,366.3 L657.3,415.9 L743.7,415.9 L743.7,450.0" fill="none" stroke="#000" stroke-width="3.3" stroke-linejoin="miter"/>
<path d="M378.4,585.0 L378.4,400.5 L437.3,400.5 L437.3,342.6 L527.7,342.6 L527.7,366.3 L657.3,366.3 L657.3,415.9 L743.7,415.9 L743.7,450.0" fill="none" stroke="#fff" stroke-width="1.6" stroke-linejoin="miter"/>
<circle cx="441.7" cy="346.4" r="4.0" fill="#fff" stroke="#000" stroke-width="1.0"/>
<path d="M438.8,349.3 L444.6,343.5" stroke="#000" stroke-width="1.1"/>
<circle cx="523.4" cy="346.4" r="4.0" fill="#fff" stroke="#000" stroke-width="1.0"/>
<path d="M520.5,349.3 L526.3,343.5" stroke="#000" stroke-width="1.1"/>
<circle cx="383.5" cy="406.4" r="4.0" fill="#fff" stroke="#000" stroke-width="1.0"/>
<path d="M380.6,409.3 L386.4,403.5" stroke="#000" stroke-width="1.1"/>
<circle cx="438.2" cy="405.5" r="4.0" fill="#fff" stroke="#000" stroke-width="1.0"/>
<path d="M435.3,408.4 L441.1,402.6" stroke="#000" stroke-width="1.1"/>
<circle cx="384.2" cy="444.3" r="4.0" fill="#fff" stroke="#000" stroke-width="1.0"/>
<path d="M381.3,447.2 L387.1,441.4" stroke="#000" stroke-width="1.1"/>
<circle cx="384.2" cy="500.1" r="4.0" fill="#fff" stroke="#000" stroke-width="1.0"/>
<path d="M381.3,503.0 L387.1,497.2" stroke="#000" stroke-width="1.1"/>
<circle cx="384.2" cy="536.6" r="4.0" fill="#fff" stroke="#000" stroke-width="1.0"/>
<path d="M381.3,539.5 L387.1,533.7" stroke="#000" stroke-width="1.1"/>
<clipPath id="h7363"><rect x="736.3" y="414.2" width="11.5" height="10.6"/></clipPath>
<rect x="736.3" y="414.2" width="11.5" height="10.6" fill="#fff"/>
<path d="M722.2,414.2 L732.8,424.8 M726.7,414.2 L737.3,424.8 M731.2,414.2 L741.8,424.8 M735.7,414.2 L746.3,424.8 M740.2,414.2 L750.8,424.8 M744.7,414.2 L755.3,424.8 M749.2,414.2 L759.8,424.8" stroke="#000" stroke-width="1.5" clip-path="url(#h7363)"/>
<rect x="736.3" y="414.2" width="11.5" height="10.6" rx="0.0" fill="none" stroke="#000" stroke-width="0.90"/>
<path d="M533.7,367.5 L533.7,382.3 L642.2,382.3 L642.2,409.4 L656.0,409.4" fill="none" stroke="#000" stroke-width="0.90" />
<rect x="567.0" y="368.5" width="39.7" height="14.8" rx="0.0" fill="#fff" stroke="#000" stroke-width="0.90"/>
<rect x="573.5" y="369.5" width="13.1" height="12.8" rx="0.0" fill="none" stroke="#000" stroke-width="1.20"/>
<path d="M574.5,378.5 L585.6,378.5" fill="none" stroke="#000" stroke-width="1.60" />
<path d="M572.0,368.5 L572.0,383.3" fill="none" stroke="#000" stroke-width="0.80" />
<path d="M601.5,368.5 L601.5,383.3" fill="none" stroke="#000" stroke-width="0.80" />
<rect x="602.5" y="370.5" width="3.0" height="5.0" rx="0.0" fill="#333" stroke="#000" stroke-width="1.20"/>
<rect x="610.5" y="368.5" width="6.8" height="13.8" rx="0.0" fill="none" stroke="#000" stroke-width="0.90"/>
<rect x="612.0" y="370.5" width="4.0" height="5.0" rx="0.0" fill="#333" stroke="#000" stroke-width="1.20"/>
<rect x="625.3" y="370.2" width="12.1" height="11.5" rx="0.0" fill="none" stroke="#000" stroke-width="0.90"/>
<rect x="644.3" y="387.6" width="10.6" height="15.8" rx="0.0" fill="none" stroke="#000" stroke-width="0.90"/>
<rect x="645.8" y="389.0" width="7.6" height="6.0" rx="0.0" fill="none" stroke="#000" stroke-width="0.90"/>
<rect x="645.8" y="396.2" width="7.6" height="5.8" rx="0.0" fill="none" stroke="#000" stroke-width="0.90"/>
<circle cx="649.6" cy="392" r="0.7" fill="#000"/><circle cx="649.6" cy="399" r="0.7" fill="#000"/>
<rect x="492.5" y="527.4" width="7.9" height="34.9" rx="0.0" fill="none" stroke="#000" stroke-width="0.90"/>
<path d="M713.0,541.0 L742.3,541.0" fill="none" stroke="#000" stroke-width="2.20" />
<path d="M446.4,614.6 L462.7,614.6" fill="none" stroke="#000" stroke-width="2.20" />
<path d="M589.5,594.6 L596.8,608.0" fill="none" stroke="#000" stroke-width="1.00" />
<rect x="702.5" y="663.2" width="11.9" height="19.1" rx="0.0" fill="#fff" stroke="#000" stroke-width="0.90"/>
<rect x="708.2" y="664.4" width="5.8" height="16.6" rx="0.0" fill="none" stroke="#000" stroke-width="1.60"/>
<path d="M703.0,680.5 L714.0,680.5" fill="none" stroke="#000" stroke-width="1.40" />
<path d="M376.6,634.6 L376.6,660.5 A75.8,75.8 0 0 0 489.4,758.5 L513.4,758.5" fill="none" stroke="#000" stroke-width="3.3"/>
<path d="M376.6,634.6 L376.6,660.5 A75.8,75.8 0 0 0 489.4,758.5 L513.4,758.5" fill="none" stroke="#fff" stroke-width="1.6"/>
<path d="M512.7,757.2 L512.7,779.4 L608.6,779.4" fill="none" stroke="#000" stroke-width="0.90" />
<path d="M747.5,632.0 L747.5,758.5 L608.0,758.5 L608.0,779.8" fill="none" stroke="#000" stroke-width="3.0" stroke-linejoin="miter"/>
<path d="M747.5,632.0 L747.5,758.5 L608.0,758.5 L608.0,779.8" fill="none" stroke="#fff" stroke-width="1.3" stroke-linejoin="miter"/>
<rect x="749.2" y="658.0" width="2.5" height="25.6" rx="0.0" fill="none" stroke="#000" stroke-width="0.80"/>
<rect x="522.4" y="779.4" width="78.2" height="8.4" rx="0.0" fill="none" stroke="#000" stroke-width="0.90"/>
<path d="M562.0,779.4 L562.0,787.8" fill="none" stroke="#000" stroke-width="0.80" />
<path d="M560.5,781.5 L562.0,780.0 L563.5,781.5" fill="none" stroke="#000" stroke-width="0.60" />
<circle cx="381.8" cy="663.2" r="4.0" fill="#fff" stroke="#000" stroke-width="1.0"/>
<path d="M378.9,666.1 L384.7,660.3" stroke="#000" stroke-width="1.1"/>
<circle cx="375.1" cy="718.9" r="4.0" fill="#fff" stroke="#000" stroke-width="1.0"/>
<path d="M372.2,721.8 L378.0,716.0" stroke="#000" stroke-width="1.1"/>
<circle cx="419.2" cy="765.6" r="4.0" fill="#fff" stroke="#000" stroke-width="1.0"/>
<path d="M416.3,768.5 L422.1,762.7" stroke="#000" stroke-width="1.1"/>
<circle cx="468.9" cy="765.0" r="4.0" fill="#fff" stroke="#000" stroke-width="1.0"/>
<path d="M466.0,767.9 L471.8,762.1" stroke="#000" stroke-width="1.1"/>
<circle cx="516.9" cy="752.3" r="4.0" fill="#fff" stroke="#000" stroke-width="1.0"/>
<path d="M514.0,755.2 L519.8,749.4" stroke="#000" stroke-width="1.1"/>
<circle cx="516.9" cy="764.6" r="4.0" fill="#fff" stroke="#000" stroke-width="1.0"/>
<path d="M514.0,767.5 L519.8,761.7" stroke="#000" stroke-width="1.1"/>
<circle cx="604.4" cy="752.3" r="4.0" fill="#fff" stroke="#000" stroke-width="1.0"/>
<path d="M601.5,755.2 L607.3,749.4" stroke="#000" stroke-width="1.1"/>
<circle cx="604.4" cy="764.6" r="4.0" fill="#fff" stroke="#000" stroke-width="1.0"/>
<path d="M601.5,767.5 L607.3,761.7" stroke="#000" stroke-width="1.1"/>
<circle cx="702.3" cy="752.3" r="4.0" fill="#fff" stroke="#000" stroke-width="1.0"/>
<path d="M699.4,755.2 L705.2,749.4" stroke="#000" stroke-width="1.1"/>
<circle cx="740.8" cy="752.3" r="4.0" fill="#fff" stroke="#000" stroke-width="1.0"/>
<path d="M737.9,755.2 L743.7,749.4" stroke="#000" stroke-width="1.1"/>
<circle cx="740.8" cy="712.1" r="4.0" fill="#fff" stroke="#000" stroke-width="1.0"/>
<path d="M737.9,715.0 L743.7,709.2" stroke="#000" stroke-width="1.1"/>
<path d="M482.2,443.8 L482.2,458.4" stroke="#000" stroke-width="1.00" fill="none"/>
<path d="M482.2,458.4 A14.6,14.6 0 0 0 496.8,443.8" stroke="#000" stroke-width="0.80" fill="none"/>
<path d="M670.6,450.0 L670.6,435.4" stroke="#000" stroke-width="1.20" fill="none"/>
<path d="M670.6,435.4 A14.6,14.6 0 0 1 685.2,450.0" stroke="#000" stroke-width="0.80" fill="none"/>
<path d="M699.3,450.0 L699.3,435.4" stroke="#000" stroke-width="1.20" fill="none"/>
<path d="M699.3,435.4 A14.6,14.6 0 0 0 684.7,450.0" stroke="#000" stroke-width="0.80" fill="none"/>
<path d="M711.4,473.4 L697.6,473.4" stroke="#000" stroke-width="1.40" fill="none"/>
<path d="M697.6,473.4 A13.8,13.8 0 0 0 711.4,487.2" stroke="#000" stroke-width="0.80" fill="none"/>
<path d="M713.0,536.3 L725.5,536.3" stroke="#000" stroke-width="1.20" fill="none"/>
<path d="M725.5,536.3 A12.5,12.5 0 0 0 713.0,523.8" stroke="#000" stroke-width="0.80" fill="none"/>
<path d="M630.6,557.2 L630.6,542.6" stroke="#000" stroke-width="1.00" fill="none"/>
<path d="M630.6,542.6 A14.6,14.6 0 0 1 645.2,557.2" stroke="#000" stroke-width="0.80" fill="none"/>
<path d="M655.0,562.7 L669.6,562.7" stroke="#000" stroke-width="1.20" fill="none"/>
<path d="M669.6,562.7 A14.6,14.6 0 0 1 655.0,577.3" stroke="#000" stroke-width="0.80" fill="none"/>
<path d="M740.5,630.0 L740.5,615.0" stroke="#000" stroke-width="1.60" fill="none"/>
<path d="M740.5,615.0 A15.0,15.0 0 0 0 725.5,630.0" stroke="#000" stroke-width="0.80" fill="none"/>
<path d="M651.0,586.0 L651.0,600.5" stroke="#000" stroke-width="1.60" fill="none"/>
<path d="M651.0,600.5 A14.5,14.5 0 0 1 636.5,586.0" stroke="#000" stroke-width="0.80" fill="none"/>
<path d="M388.8,587.4 L388.8,602.4" stroke="#000" stroke-width="1.00" fill="none"/>
<path d="M388.8,602.4 A15.0,15.0 0 0 0 403.8,587.4" stroke="#000" stroke-width="0.80" fill="none"/>
<path d="M454.2,614.2 L454.2,600.8" stroke="#000" stroke-width="1.00" fill="none"/>
<path d="M454.2,600.8 A13.4,13.4 0 0 0 440.8,614.2" stroke="#000" stroke-width="0.80" fill="none"/>
<path d="M468.0,632.0 L468.0,618.2" stroke="#000" stroke-width="1.00" fill="none"/>
<path d="M468.0,618.2 A13.8,13.8 0 0 1 481.8,632.0" stroke="#000" stroke-width="0.80" fill="none"/>
<path d="M515.4,584.5 L515.4,569.2" stroke="#000" stroke-width="1.30" fill="none"/>
<path d="M515.4,569.2 A15.3,15.3 0 0 1 530.7,584.5" stroke="#000" stroke-width="0.80" fill="none"/>
<path d="M617.9,584.5 L617.9,569.2" stroke="#000" stroke-width="1.30" fill="none"/>
<path d="M617.9,569.2 A15.3,15.3 0 0 0 602.6,584.5" stroke="#000" stroke-width="0.80" fill="none"/>
<path d="M545.8,706.4 L545.8,687.8" stroke="#000" stroke-width="1.70" fill="none"/>
<path d="M545.8,687.8 A18.6,18.6 0 0 1 564.4,706.4" stroke="#000" stroke-width="0.80" fill="none"/>
<path d="M581.6,706.4 L581.6,687.8" stroke="#000" stroke-width="1.70" fill="none"/>
<path d="M581.6,687.8 A18.6,18.6 0 0 0 563.0,706.4" stroke="#000" stroke-width="0.80" fill="none"/>
<path d="M617.0,457.7 L617.0,473.3" fill="none" stroke="#000" stroke-width="0.90" />
<path d="M617.0,457.7 L608.0,457.7" stroke="#000" stroke-width="1.00" fill="none"/>
<path d="M608.0,457.7 A9.0,9.0 0 0 0 616.1,466.7" stroke="#000" stroke-width="0.80" fill="none"/>
<path d="M617.0,473.3 L608.0,473.3" stroke="#000" stroke-width="1.00" fill="none"/>
<path d="M608.0,473.3 A9.0,9.0 0 0 1 616.1,464.3" stroke="#000" stroke-width="0.80" fill="none"/>
<path d="M617.0,513.6 L617.0,528.5" fill="none" stroke="#000" stroke-width="0.90" />
<path d="M617.0,513.6 L608.4,513.6" stroke="#000" stroke-width="1.00" fill="none"/>
<path d="M608.4,513.6 A8.6,8.6 0 0 0 616.1,522.2" stroke="#000" stroke-width="0.80" fill="none"/>
<path d="M617.0,528.5 L608.4,528.5" stroke="#000" stroke-width="1.00" fill="none"/>
<path d="M608.4,528.5 A8.6,8.6 0 0 1 616.1,519.9" stroke="#000" stroke-width="0.80" fill="none"/>
<path d="M607.0,512.9 L617.0,512.9" fill="none" stroke="#000" stroke-width="1.80" />
<rect x="613.0" y="476.0" width="11.0" height="34.2" rx="0.0" fill="#fff" stroke="#000" stroke-width="0.90"/>
<g transform="translate(423.1 457.3) rotate(-50)"><rect x="-8.3" y="-5.5" width="16.6" height="11" fill="#fff" stroke="#000" stroke-width="1.1"/><rect x="-7" y="-4.2" width="6.4" height="8.4" rx="1" fill="none" stroke="#000" stroke-width="0.8"/><rect x="0.6" y="-4.2" width="6.4" height="8.4" rx="1" fill="none" stroke="#000" stroke-width="0.8"/><circle cx="-3.8" cy="0" r="0.6"/><circle cx="3.8" cy="0" r="0.6"/></g>
<rect x="440.4" y="446.3" width="12.4" height="12.0" rx="0.0" fill="none" stroke="#000" stroke-width="1.00"/>
<path d="M441.5,458.5 L452.0,458.5" fill="none" stroke="#000" stroke-width="1.20" />
<rect x="456.7" y="443.9" width="18.8" height="15.1" rx="0.0" fill="none" stroke="#000" stroke-width="1.00"/>
<path d="M457.5,459.3 L475.0,459.3" fill="none" stroke="#000" stroke-width="1.20" />
<path d="M430.5,456.9 L440.4,456.9" fill="none" stroke="#000" stroke-width="0.90" />
<path d="M423.7,467.5 L423.7,570.4 L440.8,570.4" fill="none" stroke="#000" stroke-width="0.90" />
<rect x="410.2" y="503.4" width="14.3" height="21.2" rx="0.0" fill="#fff" stroke="#000" stroke-width="1.00"/>
<path d="M410.2,511.4 L424.5,511.4" fill="none" stroke="#000" stroke-width="0.80" />
<path d="M410.2,517.8 L424.5,517.8" fill="none" stroke="#000" stroke-width="0.80" />
<path d="M424.5,507.0 L424.5,522.0" fill="none" stroke="#000" stroke-width="1.80" />
<circle cx="415.0" cy="507.6" r="1.5" fill="#000"/>
<circle cx="420.3" cy="507.6" r="1.5" fill="#000"/>
<circle cx="415.0" cy="520.9" r="1.5" fill="#000"/>
<circle cx="420.3" cy="520.9" r="1.5" fill="#000"/>
<rect x="446.5" y="483.5" width="23.3" height="61.9" rx="0.0" fill="none" stroke="#000" stroke-width="1.00"/>
<rect x="446.5" y="490.2" width="16.2" height="48.6" rx="0.0" fill="none" stroke="#000" stroke-width="0.90"/>
<rect x="446.5" y="506.5" width="7.0" height="15.5" rx="0.0" fill="none" stroke="#000" stroke-width="0.90"/>
<rect x="453.5" y="476.4" width="9.2" height="7.1" rx="0.0" fill="none" stroke="#000" stroke-width="0.90"/>
<rect x="469.8" y="487.3" width="6.7" height="8.5" rx="0.0" fill="none" stroke="#000" stroke-width="0.90"/>
<path d="M476.3,487.3 L476.3,495.8" fill="none" stroke="#000" stroke-width="1.40" />
<rect x="469.8" y="501.5" width="6.7" height="8.5" rx="0.0" fill="none" stroke="#000" stroke-width="0.90"/>
<path d="M476.3,501.5 L476.3,510.0" fill="none" stroke="#000" stroke-width="1.40" />
<rect x="469.8" y="516.4" width="6.7" height="8.2" rx="0.0" fill="none" stroke="#000" stroke-width="0.90"/>
<path d="M476.3,516.4 L476.3,524.6" fill="none" stroke="#000" stroke-width="1.40" />
<rect x="469.8" y="533.0" width="6.7" height="8.9" rx="0.0" fill="none" stroke="#000" stroke-width="0.90"/>
<path d="M476.3,533.0 L476.3,541.9" fill="none" stroke="#000" stroke-width="1.40" />
<rect x="452.5" y="545.4" width="9.3" height="6.6" rx="0.0" fill="none" stroke="#000" stroke-width="0.90"/>
<path d="M452.5,545.6 L461.8,545.6" fill="none" stroke="#000" stroke-width="1.60" />
<path d="M453.5,484.0 L462.7,484.0" fill="none" stroke="#000" stroke-width="1.60" />
<rect x="440.8" y="571.1" width="19.1" height="13.4" rx="0.0" fill="none" stroke="#000" stroke-width="1.60"/>
<path d="M411.7,587.4 L411.7,595.1 L423.0,595.1 L423.0,597.3 L442.9,597.3 L442.9,595.1 L455.6,595.1 L455.6,587.4" fill="none" stroke="#000" stroke-width="0.90" />
<rect x="380.9" y="617.8" width="14.5" height="11.3" rx="0.0" fill="none" stroke="#000" stroke-width="0.90"/>
<path d="M381.0,629.5 L395.4,629.5" fill="none" stroke="#000" stroke-width="1.80" />
<rect x="397.8" y="618.9" width="12.2" height="10.9" rx="0.0" fill="none" stroke="#000" stroke-width="1.60"/>
<path d="M400.0,621.5 L408.0,621.5" fill="none" stroke="#000" stroke-width="0.80" />
<rect x="414.3" y="618.9" width="13.7" height="10.9" rx="0.0" fill="none" stroke="#000" stroke-width="1.60"/>
<rect x="416.5" y="620.5" width="9.5" height="8.0" rx="0.0" fill="none" stroke="#000" stroke-width="0.80"/>
<path d="M421.2,624.0 L421.2,628.5" fill="none" stroke="#000" stroke-width="0.90" />
<rect x="491.2" y="587.4" width="12.6" height="44.6" rx="0.0" fill="none" stroke="#000" stroke-width="0.90"/>
<path d="M491.2,619.2 L503.8,619.2" fill="none" stroke="#000" stroke-width="0.90" />
<rect x="494.6" y="589.6" width="7.0" height="7.6" rx="0.0" fill="none" stroke="#000" stroke-width="1.80"/>
<path d="M498.0,593.0 L501.0,593.0" fill="none" stroke="#000" stroke-width="1.20" />
<rect x="554.4" y="542.5" width="22.7" height="13.0" rx="0.0" fill="#fff" stroke="#000" stroke-width="1.20"/>
<rect x="545.5" y="543.5" width="8.9" height="11.3" rx="0.0" fill="#fff" stroke="#000" stroke-width="1.00"/>
<circle cx="548.0" cy="552.8" r="0.75" fill="#111"/>
<circle cx="552.6" cy="550.5" r="0.75" fill="#111"/>
<circle cx="553.4" cy="546.7" r="0.75" fill="#111"/>
<circle cx="547.0" cy="547.8" r="0.75" fill="#111"/>
<circle cx="551.4" cy="549.5" r="0.75" fill="#111"/>
<circle cx="548.1" cy="552.1" r="0.75" fill="#111"/>
<circle cx="547.3" cy="547.0" r="0.75" fill="#111"/>
<circle cx="551.3" cy="553.3" r="0.75" fill="#111"/>
<circle cx="547.8" cy="547.0" r="0.75" fill="#111"/>
<circle cx="551.8" cy="548.3" r="0.75" fill="#111"/>
<circle cx="552.5" cy="545.1" r="0.75" fill="#111"/>
<circle cx="551.5" cy="551.9" r="0.75" fill="#111"/>
<circle cx="546.8" cy="552.5" r="0.75" fill="#111"/>
<circle cx="552.7" cy="546.5" r="0.75" fill="#111"/>
<circle cx="549.1" cy="552.8" r="0.75" fill="#111"/>
<circle cx="552.7" cy="551.4" r="0.75" fill="#111"/>
<circle cx="548.9" cy="546.0" r="0.75" fill="#111"/>
<circle cx="553.1" cy="551.8" r="0.75" fill="#111"/>
<circle cx="549.7" cy="550.6" r="0.75" fill="#111"/>
<circle cx="553.0" cy="551.1" r="0.75" fill="#111"/>
<circle cx="547.1" cy="548.4" r="0.75" fill="#111"/>
<circle cx="550.0" cy="552.2" r="0.75" fill="#111"/>
<circle cx="552.9" cy="547.5" r="0.75" fill="#111"/>
<circle cx="549.9" cy="546.3" r="0.75" fill="#111"/>
<circle cx="547.8" cy="546.4" r="0.75" fill="#111"/>
<circle cx="549.1" cy="551.9" r="0.75" fill="#111"/>
<circle cx="547.4" cy="545.6" r="0.75" fill="#111"/>
<circle cx="552.8" cy="551.1" r="0.75" fill="#111"/>
<circle cx="552.1" cy="551.2" r="0.75" fill="#111"/>
<circle cx="551.7" cy="549.2" r="0.75" fill="#111"/>
<circle cx="549.5" cy="544.9" r="0.75" fill="#111"/>
<circle cx="552.2" cy="550.3" r="0.75" fill="#111"/>
<circle cx="549.0" cy="551.5" r="0.75" fill="#111"/>
<circle cx="547.7" cy="552.9" r="0.75" fill="#111"/>
<circle cx="553.3" cy="548.8" r="0.75" fill="#111"/>
<circle cx="553.3" cy="545.1" r="0.75" fill="#111"/>
<circle cx="546.6" cy="548.2" r="0.75" fill="#111"/>
<circle cx="552.3" cy="546.8" r="0.75" fill="#111"/>
<rect x="577.1" y="543.5" width="9.9" height="11.3" rx="0.0" fill="#fff" stroke="#000" stroke-width="1.00"/>
<circle cx="581.2" cy="551.0" r="0.75" fill="#111"/>
<circle cx="580.8" cy="548.4" r="0.75" fill="#111"/>
<circle cx="578.9" cy="552.6" r="0.75" fill="#111"/>
<circle cx="582.0" cy="553.0" r="0.75" fill="#111"/>
<circle cx="583.6" cy="548.2" r="0.75" fill="#111"/>
<circle cx="579.6" cy="544.8" r="0.75" fill="#111"/>
<circle cx="583.9" cy="546.8" r="0.75" fill="#111"/>
<circle cx="581.5" cy="549.8" r="0.75" fill="#111"/>
<circle cx="585.2" cy="552.7" r="0.75" fill="#111"/>
<circle cx="583.4" cy="550.7" r="0.75" fill="#111"/>
<circle cx="583.5" cy="551.6" r="0.75" fill="#111"/>
<circle cx="579.6" cy="547.0" r="0.75" fill="#111"/>
<circle cx="585.1" cy="551.5" r="0.75" fill="#111"/>
<circle cx="580.6" cy="549.3" r="0.75" fill="#111"/>
<circle cx="581.5" cy="546.8" r="0.75" fill="#111"/>
<circle cx="582.0" cy="547.1" r="0.75" fill="#111"/>
<circle cx="584.5" cy="551.8" r="0.75" fill="#111"/>
<circle cx="583.7" cy="546.0" r="0.75" fill="#111"/>
<circle cx="581.3" cy="544.6" r="0.75" fill="#111"/>
<circle cx="579.9" cy="545.0" r="0.75" fill="#111"/>
<circle cx="582.8" cy="549.5" r="0.75" fill="#111"/>
<circle cx="579.7" cy="544.5" r="0.75" fill="#111"/>
<circle cx="583.6" cy="546.9" r="0.75" fill="#111"/>
<circle cx="581.1" cy="547.5" r="0.75" fill="#111"/>
<circle cx="584.5" cy="545.1" r="0.75" fill="#111"/>
<circle cx="578.2" cy="545.2" r="0.75" fill="#111"/>
<circle cx="579.4" cy="545.7" r="0.75" fill="#111"/>
<circle cx="580.4" cy="553.0" r="0.75" fill="#111"/>
<circle cx="583.9" cy="552.4" r="0.75" fill="#111"/>
<circle cx="583.0" cy="548.0" r="0.75" fill="#111"/>
<circle cx="585.1" cy="549.1" r="0.75" fill="#111"/>
<circle cx="581.3" cy="545.6" r="0.75" fill="#111"/>
<circle cx="583.1" cy="549.6" r="0.75" fill="#111"/>
<circle cx="581.2" cy="545.7" r="0.75" fill="#111"/>
<circle cx="583.3" cy="549.2" r="0.75" fill="#111"/>
<circle cx="585.1" cy="551.9" r="0.75" fill="#111"/>
<circle cx="578.5" cy="546.9" r="0.75" fill="#111"/>
<circle cx="579.1" cy="546.0" r="0.75" fill="#111"/>
<circle cx="566" cy="548.6" r="3.4" fill="#fff" stroke="#000" stroke-width="1.4"/><circle cx="566" cy="548.6" r="1.3" fill="#fff" stroke="#000" stroke-width="0.9"/>
<ellipse cx="731.7" cy="506.6" rx="4.2" ry="3.5" fill="none" stroke="#000" stroke-width="0.90"/>
<rect x="737.4" y="501.6" width="4.9" height="10.6" rx="0.0" fill="none" stroke="#000" stroke-width="0.90"/>
<rect x="730.3" y="516.5" width="12.0" height="23.3" rx="0.0" fill="none" stroke="#000" stroke-width="0.90"/>
<circle cx="736.6" cy="530.6" r="4.3" fill="#fff" stroke="#000" stroke-width="1.3"/>
<circle cx="736.6" cy="530.6" r="2.4" fill="none" stroke="#000" stroke-width="0.7"/>
<circle cx="736.6" cy="533.0" r="0.8" fill="#000"/>
<rect x="714.6" y="541.6" width="26.8" height="15.0" rx="0.0" fill="none" stroke="#000" stroke-width="1.80"/>
<path d="M718.0,545.0 L737.5,554.8" fill="none" stroke="#000" stroke-width="0.70" />
<path d="M737.5,545.0 L718.0,554.8" fill="none" stroke="#000" stroke-width="0.70" />
<rect x="655.0" y="582.2" width="13.8" height="47.3" rx="0.0" fill="none" stroke="#000" stroke-width="0.90"/>
<rect x="622.7" y="588.9" width="10.0" height="21.2" rx="0.0" fill="none" stroke="#000" stroke-width="0.90"/>
<rect x="623.6" y="595.4" width="7.4" height="7.4" rx="0.0" fill="none" stroke="#000" stroke-width="1.80"/>
<path d="M627.3,599.0 L627.3,602.8" fill="none" stroke="#000" stroke-width="1.00" />
<rect x="623.5" y="614.3" width="4.2" height="12.1" rx="0.0" fill="none" stroke="#000" stroke-width="0.90"/>
<ellipse cx="633.4" cy="620.4" rx="4.6" ry="3.3" fill="none" stroke="#000" stroke-width="0.90"/>
<path d="M513.3,586.7 A75.7,75.7 0 0 0 507.8,621.6" stroke="#000" stroke-width="0.80" fill="none" />
<path d="M507.8,621.6 A75.7,75.7 0 0 0 525.1,663.9" stroke="#000" stroke-width="1.50" fill="none" />
<path d="M509.5,621.5 A74.0,74.0 0 0 0 526.4,662.8" stroke="#000" stroke-width="0.60" fill="none" />
<path d="M532.1,593.5 A48.1,48.1 0 0 0 540.3,649.5" stroke="#000" stroke-width="1.50" fill="none" />
<path d="M530.5,592.7 A49.9,49.9 0 0 0 539.0,650.7" stroke="#000" stroke-width="0.60" fill="none" />
<path d="M513.3,586.7 L532.1,593.5" fill="none" stroke="#000" stroke-width="0.75" stroke-dasharray="3 1.3"/>
<path d="M511.5,591.5 L530.5,596.9" fill="none" stroke="#000" stroke-width="0.75" stroke-dasharray="3 1.3"/>
<path d="M510.1,596.4 L529.1,600.5" fill="none" stroke="#000" stroke-width="0.75" stroke-dasharray="3 1.3"/>
<path d="M508.9,601.4 L528.0,604.1" fill="none" stroke="#000" stroke-width="0.75" stroke-dasharray="3 1.3"/>
<path d="M508.1,606.4 L527.3,607.8" fill="none" stroke="#000" stroke-width="0.75" stroke-dasharray="3 1.3"/>
<path d="M507.7,611.5 L526.8,611.5" fill="none" stroke="#000" stroke-width="0.75" stroke-dasharray="3 1.3"/>
<path d="M507.6,616.7 L526.6,615.3" fill="none" stroke="#000" stroke-width="0.75" stroke-dasharray="3 1.3"/>
<path d="M507.9,621.8 L526.7,619.1" fill="none" stroke="#000" stroke-width="0.75" />
<path d="M508.5,626.9 L527.1,622.8" fill="none" stroke="#000" stroke-width="0.75" />
<path d="M509.4,631.9 L527.8,626.5" fill="none" stroke="#000" stroke-width="0.75" />
<path d="M510.7,636.9 L528.8,630.2" fill="none" stroke="#000" stroke-width="0.75" />
<path d="M512.3,641.8 L530.1,633.7" fill="none" stroke="#000" stroke-width="0.75" />
<path d="M514.2,646.5 L531.6,637.2" fill="none" stroke="#000" stroke-width="0.75" />
<path d="M516.5,651.1 L533.4,640.5" fill="none" stroke="#000" stroke-width="0.75" />
<path d="M519.1,655.5 L535.5,643.7" fill="none" stroke="#000" stroke-width="0.75" />
<path d="M521.9,659.8 L537.8,646.7" fill="none" stroke="#000" stroke-width="0.75" />
<path d="M525.1,663.9 L540.3,649.5" fill="none" stroke="#000" stroke-width="0.75" />
<path d="M517.3,620.3 L517.4,621.9 L517.6,623.6 L517.8,625.3 L518.1,626.9 L518.5,628.6 L518.8,630.2 L519.2,631.8 L519.7,633.4 L520.2,635.0 L520.8,636.6 L521.4,638.2 L522.0,639.7 L522.7,641.3 L523.4,642.8 L524.1,644.3 L524.9,645.8 L525.8,647.2 L526.6,648.6 L527.6,650.0 L528.5,651.4 L529.5,652.8 L530.5,654.1 L531.6,655.4 L532.7,656.7" fill="none" stroke="#000" stroke-width="0.70" />
<path d="M502.8,620.9 L531.7,619.7" fill="none" stroke="#000" stroke-width="0.80" />
<path d="M607.4,579.9 A67.6,67.6 0 0 1 619.0,617.3" stroke="#000" stroke-width="0.80" fill="none" />
<path d="M619.0,617.3 A67.6,67.6 0 0 1 600.5,664.1" stroke="#000" stroke-width="1.50" fill="none" />
<path d="M617.3,617.3 A65.9,65.9 0 0 1 599.3,663.0" stroke="#000" stroke-width="0.60" fill="none" />
<path d="M597.6,595.0 A52.6,52.6 0 0 1 586.0,649.8" stroke="#000" stroke-width="1.50" fill="none" />
<path d="M599.3,594.4 A54.4,54.4 0 0 1 587.3,651.1" stroke="#000" stroke-width="0.60" fill="none" />
<path d="M607.4,579.9 L597.6,595.0" fill="none" stroke="#000" stroke-width="0.75" stroke-dasharray="3 1.3"/>
<path d="M610.4,584.8 L598.7,598.5" fill="none" stroke="#000" stroke-width="0.75" stroke-dasharray="3 1.3"/>
<path d="M613.0,589.9 L599.6,602.1" fill="none" stroke="#000" stroke-width="0.75" stroke-dasharray="3 1.3"/>
<path d="M615.1,595.1 L600.3,605.7" fill="none" stroke="#000" stroke-width="0.75" stroke-dasharray="3 1.3"/>
<path d="M616.8,600.6 L600.7,609.4" fill="none" stroke="#000" stroke-width="0.75" stroke-dasharray="3 1.3"/>
<path d="M618.0,606.2 L600.8,613.1" fill="none" stroke="#000" stroke-width="0.75" stroke-dasharray="3 1.3"/>
<path d="M618.7,611.8 L600.7,616.8" fill="none" stroke="#000" stroke-width="0.75" stroke-dasharray="3 1.3"/>
<path d="M619.0,617.5 L600.3,620.5" fill="none" stroke="#000" stroke-width="0.75" />
<path d="M618.8,623.2 L599.7,624.1" fill="none" stroke="#000" stroke-width="0.75" />
<path d="M618.1,628.9 L598.8,627.7" fill="none" stroke="#000" stroke-width="0.75" />
<path d="M616.9,634.5 L597.6,631.2" fill="none" stroke="#000" stroke-width="0.75" />
<path d="M615.2,639.9 L596.3,634.6" fill="none" stroke="#000" stroke-width="0.75" />
<path d="M613.1,645.2 L594.6,637.9" fill="none" stroke="#000" stroke-width="0.75" />
<path d="M610.6,650.4 L592.8,641.1" fill="none" stroke="#000" stroke-width="0.75" />
<path d="M607.6,655.2 L590.7,644.2" fill="none" stroke="#000" stroke-width="0.75" />
<path d="M604.3,659.8 L588.4,647.1" fill="none" stroke="#000" stroke-width="0.75" />
<path d="M600.5,664.1 L586.0,649.8" fill="none" stroke="#000" stroke-width="0.75" />
<path d="M609.7,618.8 L609.5,620.6 L609.4,622.3 L609.2,624.1 L608.9,625.8 L608.6,627.6 L608.2,629.3 L607.8,631.0 L607.3,632.7 L606.8,634.4 L606.2,636.1 L605.6,637.7 L604.9,639.4 L604.2,641.0 L603.4,642.6 L602.6,644.1 L601.7,645.7 L600.8,647.2 L599.9,648.7 L598.9,650.1 L597.8,651.6 L596.7,653.0 L595.6,654.3 L594.4,655.7 L593.2,657.0" fill="none" stroke="#000" stroke-width="0.70" />
<path d="M624.0,619.4 L595.3,618.2" fill="none" stroke="#000" stroke-width="0.80" />
<path d="M606.8,580.0 L618.8,608.0" fill="none" stroke="#000" stroke-width="0.70" stroke-dasharray="4 1.2 1 1.2"/>
<path d="M902.4,447.0 L902.4,359.0 L1026.6,359.0 L1026.6,412.4 L1113.5,412.4 L1113.5,455.5" fill="none" stroke="#000" stroke-width="3.2" stroke-linejoin="miter"/>
<path d="M902.4,447.0 L902.4,359.0 L1026.6,359.0 L1026.6,412.4 L1113.5,412.4 L1113.5,455.5" fill="none" stroke="#fff" stroke-width="1.5" stroke-linejoin="miter"/>
<path d="M1047.0,455.8 L1047.0,441.2" stroke="#000" stroke-width="1.30" fill="none"/>
<path d="M1047.0,441.2 A14.6,14.6 0 0 1 1061.6,455.8" stroke="#000" stroke-width="0.80" fill="none"/>
<path d="M1075.7,455.8 L1075.7,441.2" stroke="#000" stroke-width="1.30" fill="none"/>
<path d="M1075.7,441.2 A14.6,14.6 0 0 0 1061.1,455.8" stroke="#000" stroke-width="0.80" fill="none"/>
<path d="M1016.0,560.3 L1030.6,560.3" stroke="#000" stroke-width="1.80" fill="none"/>
<path d="M1030.6,560.3 A14.6,14.6 0 0 1 1016.0,574.9" stroke="#000" stroke-width="0.80" fill="none"/>
<path d="M1016.0,588.6 L1030.6,588.6" stroke="#000" stroke-width="0.00" fill="none"/>
<path d="M1030.6,588.6 A14.6,14.6 0 0 0 1016.0,574.0" stroke="#000" stroke-width="0.80" fill="none"/>
<path d="M1048.6,568.6 L1063.6,568.6" stroke="#000" stroke-width="1.60" fill="none"/>
<path d="M1063.6,568.6 A15.0,15.0 0 0 1 1048.6,583.6" stroke="#000" stroke-width="0.80" fill="none"/>
<path d="M1019.7,591.0 L1019.7,605.2" stroke="#000" stroke-width="1.20" fill="none"/>
<path d="M1019.7,605.2 A14.2,14.2 0 0 0 1033.9,591.0" stroke="#000" stroke-width="0.80" fill="none"/>
<path d="M813.5,507.0 L813.5,522.6" stroke="#000" stroke-width="1.60" fill="none"/>
<path d="M813.5,522.6 A15.6,15.6 0 0 1 797.9,507.0" stroke="#000" stroke-width="0.80" fill="none"/>
<path d="M820.3,527.3 L820.3,510.6" fill="none" stroke="#000" stroke-width="1.00" />
<path d="M848.7,527.3 L848.7,510.6" fill="none" stroke="#000" stroke-width="1.00" />
<path d="M820.3,510.6 A14.2,15.5 0 0 1 834.5,526 A14.2,15.5 0 0 1 848.7,510.6" fill="none" stroke="#000" stroke-width="0.8"/>
<path d="M874.6,540.2 L874.6,524.8" stroke="#000" stroke-width="1.60" fill="none"/>
<path d="M874.6,524.8 A15.4,15.4 0 0 0 859.2,540.2" stroke="#000" stroke-width="0.80" fill="none"/>
<path d="M846.6,543.2 L831.6,543.2" stroke="#000" stroke-width="1.60" fill="none"/>
<path d="M831.6,543.2 A15.0,15.0 0 0 0 846.6,558.2" stroke="#000" stroke-width="0.80" fill="none"/>
<path d="M833.0,571.0 L818.0,571.0" stroke="#000" stroke-width="1.20" fill="none"/>
<path d="M818.0,571.0 A15.0,15.0 0 0 0 833.0,586.0" stroke="#000" stroke-width="0.80" fill="none"/>
<path d="M833.0,600.5 L818.0,600.5" stroke="#000" stroke-width="1.20" fill="none"/>
<path d="M818.0,600.5 A15.0,15.0 0 0 1 833.0,585.5" stroke="#000" stroke-width="0.80" fill="none"/>
<path d="M881.0,596.0 L881.0,611.0" stroke="#000" stroke-width="1.40" fill="none"/>
<path d="M881.0,611.0 A15.0,15.0 0 0 1 866.0,596.0" stroke="#000" stroke-width="0.80" fill="none"/>
<path d="M760.6,611.0 L760.6,626.2" stroke="#000" stroke-width="1.30" fill="none"/>
<path d="M760.6,626.2 A15.2,15.2 0 0 0 775.8,611.0" stroke="#000" stroke-width="0.80" fill="none"/>
<path d="M864.6,640.0 L849.0,640.0" stroke="#000" stroke-width="1.60" fill="none"/>
<path d="M849.0,640.0 A15.6,15.6 0 0 1 864.6,624.4" stroke="#000" stroke-width="0.80" fill="none"/>
<path d="M921.8,712.5 L921.8,694.0" stroke="#000" stroke-width="1.60" fill="none"/>
<path d="M921.8,694.0 A18.5,18.5 0 0 1 940.3,712.5" stroke="#000" stroke-width="0.80" fill="none"/>
<path d="M958.0,712.5 L958.0,694.0" stroke="#000" stroke-width="1.60" fill="none"/>
<path d="M958.0,694.0 A18.5,18.5 0 0 0 939.5,712.5" stroke="#000" stroke-width="0.80" fill="none"/>
<path d="M871.7,671.5 L864.3,664.1" fill="none" stroke="#000" stroke-width="1.20" />
<path d="M855.8,686.1 L849.6,679.1" fill="none" stroke="#000" stroke-width="1.20" />
<path d="M864.3,664.1 Q860,670 863,676.5" fill="none" stroke="#000" stroke-width="0.8"/>
<path d="M849.6,679.1 Q857,675 863,676.5" fill="none" stroke="#000" stroke-width="0.8"/>
<path d="M993.5,462.9 L993.5,481.4" fill="none" stroke="#000" stroke-width="0.90" />
<path d="M993.5,462.9 L983.0,462.9" stroke="#000" stroke-width="1.00" fill="none"/>
<path d="M983.0,462.9 A10.4,10.4 0 0 0 992.4,473.3" stroke="#000" stroke-width="0.80" fill="none"/>
<path d="M993.5,481.4 L983.0,481.4" stroke="#000" stroke-width="1.00" fill="none"/>
<path d="M983.0,481.4 A10.4,10.4 0 0 1 992.4,471.0" stroke="#000" stroke-width="0.80" fill="none"/>
<path d="M993.5,518.5 L993.5,537.0" fill="none" stroke="#000" stroke-width="0.90" />
<path d="M993.5,518.5 L983.0,518.5" stroke="#000" stroke-width="1.00" fill="none"/>
<path d="M983.0,518.5 A10.4,10.4 0 0 0 992.4,528.9" stroke="#000" stroke-width="0.80" fill="none"/>
<path d="M993.5,537.0 L983.0,537.0" stroke="#000" stroke-width="1.00" fill="none"/>
<path d="M983.0,537.0 A10.4,10.4 0 0 1 992.4,526.6" stroke="#000" stroke-width="0.80" fill="none"/>
<path d="M984.4,462.9 L1001.0,462.9" fill="none" stroke="#000" stroke-width="0.00" />
<rect x="988.4" y="482.3" width="12.7" height="35.3" rx="0.0" fill="none" stroke="#000" stroke-width="0.90"/>
<path d="M984.0,482.0 L1001.0,482.0" fill="none" stroke="#000" stroke-width="1.60" />
<path d="M984.0,537.2 L1001.0,537.2" fill="none" stroke="#000" stroke-width="1.60" />
<path d="M993.5,462.9 L1001.4,462.9" fill="none" stroke="#000" stroke-width="0.80" />
<path d="M993.5,481.4 L1001.4,481.4" fill="none" stroke="#000" stroke-width="0.80" />
<path d="M993.5,518.5 L1001.4,518.5" fill="none" stroke="#000" stroke-width="0.80" />
<rect x="759.7" y="508.4" width="14.4" height="29.0" rx="0.0" fill="none" stroke="#000" stroke-width="0.90"/>
<path d="M761.9,510.6 L771.9,535.2" fill="none" stroke="#000" stroke-width="0.70" />
<path d="M771.9,510.6 L761.9,535.2" fill="none" stroke="#000" stroke-width="0.70" />
<ellipse cx="783.9" cy="528.2" rx="3.5" ry="4.6" fill="none" stroke="#000" stroke-width="0.90"/>
<rect x="778.2" y="533.5" width="11.5" height="5.2" rx="0.0" fill="none" stroke="#000" stroke-width="0.90"/>
<rect x="792.9" y="527.3" width="21.5" height="11.4" rx="0.0" fill="none" stroke="#000" stroke-width="0.90"/>
<circle cx="803.8" cy="533.0" r="4.2" fill="#fff" stroke="#000" stroke-width="1.3"/>
<circle cx="803.8" cy="533.0" r="2.3" fill="none" stroke="#000" stroke-width="0.7"/>
<circle cx="803.8" cy="535.3" r="0.8" fill="#000"/>
<rect x="919.3" y="547.6" width="43.0" height="12.2" rx="0.0" fill="#fff" stroke="#000" stroke-width="1.20"/>
<path d="M930.1,554.2 l-0.4,0.3" stroke="#000" stroke-width="1.0"/>
<path d="M946.0,549.3 l-1.5,1.0" stroke="#000" stroke-width="1.0"/>
<path d="M930.9,551.0 l1.5,-0.1" stroke="#000" stroke-width="1.0"/>
<path d="M954.6,553.5 l0.4,-1.0" stroke="#000" stroke-width="1.0"/>
<path d="M946.3,557.5 l0.1,0.7" stroke="#000" stroke-width="1.0"/>
<path d="M947.8,549.3 l0.8,0.3" stroke="#000" stroke-width="1.0"/>
<path d="M932.7,548.9 l1.1,-0.1" stroke="#000" stroke-width="1.0"/>
<path d="M949.8,557.6 l0.6,1.3" stroke="#000" stroke-width="1.0"/>
<path d="M936.5,556.8 l-0.2,1.3" stroke="#000" stroke-width="1.0"/>
<path d="M956.3,549.6 l-1.1,-0.8" stroke="#000" stroke-width="1.0"/>
<path d="M959.9,553.0 l0.4,-0.6" stroke="#000" stroke-width="1.0"/>
<path d="M941.1,552.5 l-0.4,0.3" stroke="#000" stroke-width="1.0"/>
<path d="M944.3,557.8 l0.5,1.3" stroke="#000" stroke-width="1.0"/>
<path d="M955.4,558.7 l0.5,-1.0" stroke="#000" stroke-width="1.0"/>
<path d="M955.6,558.4 l1.2,0.2" stroke="#000" stroke-width="1.0"/>
<path d="M949.6,550.8 l1.0,0.2" stroke="#000" stroke-width="1.0"/>
<path d="M932.0,549.2 l1.1,1.5" stroke="#000" stroke-width="1.0"/>
<path d="M923.9,556.8 l-0.3,-1.0" stroke="#000" stroke-width="1.0"/>
<path d="M932.3,556.4 l1.1,-1.4" stroke="#000" stroke-width="1.0"/>
<path d="M945.5,549.1 l0.7,-0.5" stroke="#000" stroke-width="1.0"/>
<path d="M956.4,558.6 l0.0,1.5" stroke="#000" stroke-width="1.0"/>
<path d="M933.0,549.4 l0.3,-1.4" stroke="#000" stroke-width="1.0"/>
<path d="M928.4,552.8 l0.3,-1.0" stroke="#000" stroke-width="1.0"/>
<path d="M922.0,557.5 l-0.6,1.4" stroke="#000" stroke-width="1.0"/>
<path d="M957.1,552.5 l-0.1,0.1" stroke="#000" stroke-width="1.0"/>
<path d="M946.7,554.7 l0.2,0.4" stroke="#000" stroke-width="1.0"/>
<path d="M958.9,553.8 l-0.2,0.7" stroke="#000" stroke-width="1.0"/>
<path d="M930.0,551.7 l1.4,0.1" stroke="#000" stroke-width="1.0"/>
<path d="M942.8,548.7 l-0.3,0.2" stroke="#000" stroke-width="1.0"/>
<path d="M921.1,554.9 l0.4,-1.3" stroke="#000" stroke-width="1.0"/>
<path d="M946.0,553.4 l0.5,-0.4" stroke="#000" stroke-width="1.0"/>
<path d="M949.3,556.1 l-1.4,-1.3" stroke="#000" stroke-width="1.0"/>
<path d="M948.0,558.4 l-0.7,-0.1" stroke="#000" stroke-width="1.0"/>
<path d="M944.6,551.9 l-0.4,-0.6" stroke="#000" stroke-width="1.0"/>
<path d="M935.4,554.7 l-0.6,-0.4" stroke="#000" stroke-width="1.0"/>
<path d="M952.0,548.9 l0.2,0.7" stroke="#000" stroke-width="1.0"/>
<path d="M933.0,550.9 l0.9,-0.8" stroke="#000" stroke-width="1.0"/>
<path d="M928.0,553.0 l0.6,-1.2" stroke="#000" stroke-width="1.0"/>
<path d="M933.5,552.0 l1.0,-0.2" stroke="#000" stroke-width="1.0"/>
<path d="M955.4,550.3 l-0.5,0.5" stroke="#000" stroke-width="1.0"/>
<path d="M956.6,553.2 l-0.8,-1.1" stroke="#000" stroke-width="1.0"/>
<path d="M942.0,550.5 l0.9,1.0" stroke="#000" stroke-width="1.0"/>
<path d="M927.8,551.4 l0.9,0.4" stroke="#000" stroke-width="1.0"/>
<path d="M953.4,552.1 l-1.1,-0.6" stroke="#000" stroke-width="1.0"/>
<path d="M952.8,551.4 l-0.5,-0.2" stroke="#000" stroke-width="1.0"/>
<path d="M937.5,552.8 l1.3,-1.0" stroke="#000" stroke-width="1.0"/>
<path d="M920.5,558.2 l1.1,1.5" stroke="#000" stroke-width="1.0"/>
<path d="M938.1,558.3 l1.3,-0.8" stroke="#000" stroke-width="1.0"/>
<path d="M950.9,557.1 l0.5,0.1" stroke="#000" stroke-width="1.0"/>
<path d="M932.2,552.1 l-0.8,-1.3" stroke="#000" stroke-width="1.0"/>
<path d="M944.4,551.5 l0.9,-1.4" stroke="#000" stroke-width="1.0"/>
<path d="M957.3,555.7 l1.3,1.2" stroke="#000" stroke-width="1.0"/>
<path d="M957.2,554.5 l-1.5,0.7" stroke="#000" stroke-width="1.0"/>
<path d="M927.3,551.7 l0.5,0.1" stroke="#000" stroke-width="1.0"/>
<path d="M937.3,558.2 l0.3,-0.5" stroke="#000" stroke-width="1.0"/>
<path d="M930.7,557.4 l-0.1,0.8" stroke="#000" stroke-width="1.0"/>
<path d="M934.7,550.6 l0.1,1.0" stroke="#000" stroke-width="1.0"/>
<path d="M927.3,556.7 l1.3,0.9" stroke="#000" stroke-width="1.0"/>
<path d="M954.1,548.7 l0.4,1.1" stroke="#000" stroke-width="1.0"/>
<path d="M922.3,551.4 l-0.7,0.1" stroke="#000" stroke-width="1.0"/>
<path d="M937.6,553.4 l0.8,-1.5" stroke="#000" stroke-width="1.0"/>
<path d="M922.5,549.9 l-1.1,-1.3" stroke="#000" stroke-width="1.0"/>
<path d="M960.3,557.3 l-1.2,0.0" stroke="#000" stroke-width="1.0"/>
<path d="M933.3,551.8 l-0.4,0.4" stroke="#000" stroke-width="1.0"/>
<path d="M944.4,552.3 l-0.9,-0.5" stroke="#000" stroke-width="1.0"/>
<path d="M925.4,554.3 l0.6,-0.4" stroke="#000" stroke-width="1.0"/>
<path d="M923.6,550.4 l-0.4,0.3" stroke="#000" stroke-width="1.0"/>
<path d="M952.4,552.5 l0.9,0.4" stroke="#000" stroke-width="1.0"/>
<path d="M938.0,552.4 l-0.0,0.6" stroke="#000" stroke-width="1.0"/>
<path d="M937.5,555.7 l-0.1,-0.8" stroke="#000" stroke-width="1.0"/>
<path d="M942.3,555.7 l-1.3,-0.2" stroke="#000" stroke-width="1.0"/>
<path d="M937.8,557.6 l1.3,-0.4" stroke="#000" stroke-width="1.0"/>
<path d="M957.1,556.7 l-0.7,-0.1" stroke="#000" stroke-width="1.0"/>
<path d="M925.3,556.9 l0.5,1.2" stroke="#000" stroke-width="1.0"/>
<path d="M952.8,555.4 l0.7,0.2" stroke="#000" stroke-width="1.0"/>
<path d="M924.5,554.6 l-1.5,-1.1" stroke="#000" stroke-width="1.0"/>
<path d="M952.0,549.1 l-1.2,-1.2" stroke="#000" stroke-width="1.0"/>
<path d="M956.4,550.4 l-1.4,1.0" stroke="#000" stroke-width="1.0"/>
<path d="M925.3,557.2 l0.5,1.0" stroke="#000" stroke-width="1.0"/>
<path d="M959.3,554.5 l0.9,-1.4" stroke="#000" stroke-width="1.0"/>
<path d="M951.8,553.8 l0.6,-1.2" stroke="#000" stroke-width="1.0"/>
<path d="M951.0,558.1 l-1.3,-0.5" stroke="#000" stroke-width="1.0"/>
<path d="M943.4,557.0 l-0.8,-1.0" stroke="#000" stroke-width="1.0"/>
<path d="M930.5,554.9 l0.8,-0.3" stroke="#000" stroke-width="1.0"/>
<path d="M935.4,552.6 l-0.4,-0.2" stroke="#000" stroke-width="1.0"/>
<path d="M923.7,553.7 l1.4,-0.3" stroke="#000" stroke-width="1.0"/>
<path d="M950.9,550.2 l0.6,0.8" stroke="#000" stroke-width="1.0"/>
<path d="M947.9,553.9 l-0.0,0.4" stroke="#000" stroke-width="1.0"/>
<path d="M957.1,550.1 l-1.2,0.7" stroke="#000" stroke-width="1.0"/>
<path d="M957.9,553.9 l-0.2,0.7" stroke="#000" stroke-width="1.0"/>
<path d="M927.9,551.3 l-0.9,0.3" stroke="#000" stroke-width="1.0"/>
<path d="M933.2,551.0 l0.6,1.4" stroke="#000" stroke-width="1.0"/>
<path d="M932.4,555.8 l-0.3,1.1" stroke="#000" stroke-width="1.0"/>
<path d="M944.3,551.3 l-0.8,-1.4" stroke="#000" stroke-width="1.0"/>
<path d="M940.0,552.5 l-1.0,-0.4" stroke="#000" stroke-width="1.0"/>
<path d="M933.5,556.5 l-1.1,1.5" stroke="#000" stroke-width="1.0"/>
<path d="M940.0,554.7 l-0.1,1.0" stroke="#000" stroke-width="1.0"/>
<path d="M954.0,554.3 l-0.1,0.7" stroke="#000" stroke-width="1.0"/>
<path d="M955.4,552.7 l0.7,1.4" stroke="#000" stroke-width="1.0"/>
<path d="M939.5,550.9 l-0.8,0.7" stroke="#000" stroke-width="1.0"/>
<path d="M948.0,558.4 l1.1,-0.8" stroke="#000" stroke-width="1.0"/>
<path d="M928.1,551.2 l-0.9,0.6" stroke="#000" stroke-width="1.0"/>
<path d="M955.5,557.8 l-0.7,1.1" stroke="#000" stroke-width="1.0"/>
<path d="M933.2,552.9 l0.7,-1.2" stroke="#000" stroke-width="1.0"/>
<path d="M924.1,557.1 l-0.6,-0.4" stroke="#000" stroke-width="1.0"/>
<path d="M944.1,555.5 l-1.5,-0.5" stroke="#000" stroke-width="1.0"/>
<path d="M938.2,553.6 l-0.9,0.3" stroke="#000" stroke-width="1.0"/>
<path d="M959.5,552.6 l0.1,-1.1" stroke="#000" stroke-width="1.0"/>
<path d="M931.6,555.4 l-1.2,1.2" stroke="#000" stroke-width="1.0"/>
<path d="M957.6,549.6 l1.3,-0.4" stroke="#000" stroke-width="1.0"/>
<path d="M952.0,556.3 l-0.6,0.5" stroke="#000" stroke-width="1.0"/>
<path d="M947.1,556.8 l-0.7,0.8" stroke="#000" stroke-width="1.0"/>
<path d="M959.7,555.5 l0.1,-1.2" stroke="#000" stroke-width="1.0"/>
<path d="M940.5,552.2 l0.7,0.5" stroke="#000" stroke-width="1.0"/>
<path d="M943.5,550.5 l0.4,0.4" stroke="#000" stroke-width="1.0"/>
<path d="M927.6,557.7 l0.5,-1.1" stroke="#000" stroke-width="1.0"/>
<path d="M958.5,550.0 l-0.5,0.7" stroke="#000" stroke-width="1.0"/>
<path d="M944.8,554.3 l0.4,-0.1" stroke="#000" stroke-width="1.0"/>
<path d="M933.1,550.4 l-1.3,0.6" stroke="#000" stroke-width="1.0"/>
<path d="M951.2,554.1 l0.7,-0.4" stroke="#000" stroke-width="1.0"/>
<path d="M931.2,552.5 l1.1,-1.4" stroke="#000" stroke-width="1.0"/>
<path d="M941.0,551.1 l0.8,-0.4" stroke="#000" stroke-width="1.0"/>
<path d="M933.9,552.7 l0.1,0.8" stroke="#000" stroke-width="1.0"/>
<path d="M934.8,557.2 l-1.2,-0.7" stroke="#000" stroke-width="1.0"/>
<path d="M924.4,549.7 l0.8,0.7" stroke="#000" stroke-width="1.0"/>
<path d="M927.9,550.5 l-0.3,0.7" stroke="#000" stroke-width="1.0"/>
<path d="M953.7,556.2 l0.3,-1.1" stroke="#000" stroke-width="1.0"/>
<path d="M936.6,550.6 l0.1,0.2" stroke="#000" stroke-width="1.0"/>
<path d="M928.6,551.2 l0.8,-1.4" stroke="#000" stroke-width="1.0"/>
<path d="M953.2,557.7 l1.3,-0.4" stroke="#000" stroke-width="1.0"/>
<path d="M943.0,554.5 l0.4,1.4" stroke="#000" stroke-width="1.0"/>
<path d="M948.5,551.7 l1.1,-0.0" stroke="#000" stroke-width="1.0"/>
<path d="M945.0,556.0 l-1.5,0.8" stroke="#000" stroke-width="1.0"/>
<path d="M947.4,553.6 l0.1,-0.1" stroke="#000" stroke-width="1.0"/>
<path d="M928.2,554.0 l-1.4,0.0" stroke="#000" stroke-width="1.0"/>
<path d="M946.8,553.1 l0.2,1.4" stroke="#000" stroke-width="1.0"/>
<path d="M956.9,550.0 l0.9,0.4" stroke="#000" stroke-width="1.0"/>
<path d="M922.4,552.3 l-0.8,-1.3" stroke="#000" stroke-width="1.0"/>
<path d="M942.4,558.1 l-0.5,1.1" stroke="#000" stroke-width="1.0"/>
<path d="M948.8,550.0 l1.1,0.3" stroke="#000" stroke-width="1.0"/>
<path d="M958.3,555.9 l0.7,-0.5" stroke="#000" stroke-width="1.0"/>
<path d="M953.4,558.1 l1.1,-0.2" stroke="#000" stroke-width="1.0"/>
<path d="M951.3,553.5 l-1.2,-1.4" stroke="#000" stroke-width="1.0"/>
<path d="M923.5,550.6 l-1.0,-0.0" stroke="#000" stroke-width="1.0"/>
<path d="M949.0,554.1 l-0.2,0.4" stroke="#000" stroke-width="1.0"/>
<path d="M932.8,553.3 l0.8,-0.3" stroke="#000" stroke-width="1.0"/>
<path d="M927.7,557.8 l0.7,-0.4" stroke="#000" stroke-width="1.0"/>
<path d="M935.5,554.0 l0.3,-0.8" stroke="#000" stroke-width="1.0"/>
<path d="M920.4,550.7 l0.8,-1.1" stroke="#000" stroke-width="1.0"/>
<path d="M939.2,550.6 l-0.9,-1.0" stroke="#000" stroke-width="1.0"/>
<path d="M936.9,550.3 l-1.4,-1.2" stroke="#000" stroke-width="1.0"/>
<path d="M927.2,553.6 l-1.3,-1.4" stroke="#000" stroke-width="1.0"/>
<path d="M938.7,552.8 l0.6,-1.3" stroke="#000" stroke-width="1.0"/>
<path d="M936.8,552.6 l-1.4,1.4" stroke="#000" stroke-width="1.0"/>
<path d="M929.3,549.6 l-0.1,-1.0" stroke="#000" stroke-width="1.0"/>
<path d="M945.8,552.1 l-1.1,-1.3" stroke="#000" stroke-width="1.0"/>
<path d="M950.1,551.4 l0.9,-0.1" stroke="#000" stroke-width="1.0"/>
<path d="M958.5,551.7 l-0.8,-0.7" stroke="#000" stroke-width="1.0"/>
<path d="M953.7,555.0 l-0.5,-1.2" stroke="#000" stroke-width="1.0"/>
<path d="M948.3,558.5 l0.3,-1.5" stroke="#000" stroke-width="1.0"/>
<path d="M921.5,549.5 l-1.0,-1.4" stroke="#000" stroke-width="1.0"/>
<path d="M922.5,555.3 l1.2,-0.9" stroke="#000" stroke-width="1.0"/>
<path d="M960.2,553.5 l0.9,1.3" stroke="#000" stroke-width="1.0"/>
<path d="M958.8,548.9 l-0.6,0.3" stroke="#000" stroke-width="1.0"/>
<path d="M959.1,549.5 l-0.6,1.0" stroke="#000" stroke-width="1.0"/>
<path d="M925.0,552.6 l-0.5,0.5" stroke="#000" stroke-width="1.0"/>
<path d="M958.4,550.4 l0.7,0.7" stroke="#000" stroke-width="1.0"/>
<path d="M954.6,554.2 l1.3,-0.4" stroke="#000" stroke-width="1.0"/>
<path d="M937.3,550.9 l0.8,-0.1" stroke="#000" stroke-width="1.0"/>
<path d="M931.3,550.3 l0.7,0.3" stroke="#000" stroke-width="1.0"/>
<path d="M949.4,552.5 l-0.0,-1.0" stroke="#000" stroke-width="1.0"/>
<path d="M949.4,548.8 l-0.1,0.8" stroke="#000" stroke-width="1.0"/>
<path d="M948.1,549.6 l-0.8,1.0" stroke="#000" stroke-width="1.0"/>
<path d="M946.6,557.6 l1.1,-0.2" stroke="#000" stroke-width="1.0"/>
<path d="M957.1,556.1 l-0.5,-0.4" stroke="#000" stroke-width="1.0"/>
<path d="M923.3,552.7 l1.4,-1.2" stroke="#000" stroke-width="1.0"/>
<path d="M943.6,549.7 l-1.3,0.4" stroke="#000" stroke-width="1.0"/>
<path d="M930.2,549.1 l-1.0,0.4" stroke="#000" stroke-width="1.0"/>
<path d="M944.3,548.7 l-0.8,1.4" stroke="#000" stroke-width="1.0"/>
<path d="M929.3,554.3 l-0.2,0.8" stroke="#000" stroke-width="1.0"/>
<path d="M945.1,556.6 l0.1,-0.9" stroke="#000" stroke-width="1.0"/>
<path d="M927.6,549.4 l1.0,-1.2" stroke="#000" stroke-width="1.0"/>
<path d="M921.3,558.5 l-0.9,1.2" stroke="#000" stroke-width="1.0"/>
<path d="M923.8,553.3 l-0.8,1.0" stroke="#000" stroke-width="1.0"/>
<path d="M945.5,555.1 l0.8,1.1" stroke="#000" stroke-width="1.0"/>
<path d="M934.5,554.8 l-0.2,-1.2" stroke="#000" stroke-width="1.0"/>
<path d="M954.6,554.7 l0.9,-0.9" stroke="#000" stroke-width="1.0"/>
<path d="M942.4,553.3 l0.7,-1.3" stroke="#000" stroke-width="1.0"/>
<path d="M934.5,553.5 l-1.3,0.2" stroke="#000" stroke-width="1.0"/>
<path d="M950.4,552.9 l0.4,0.3" stroke="#000" stroke-width="1.0"/>
<path d="M929.1,552.2 l1.5,-0.5" stroke="#000" stroke-width="1.0"/>
<path d="M938.0,549.5 l-0.8,-1.0" stroke="#000" stroke-width="1.0"/>
<path d="M958.5,556.0 l1.1,1.5" stroke="#000" stroke-width="1.0"/>
<path d="M945.4,558.1 l0.1,-0.2" stroke="#000" stroke-width="1.0"/>
<path d="M959.2,557.8 l1.3,-0.0" stroke="#000" stroke-width="1.0"/>
<path d="M952.0,552.8 l1.5,1.3" stroke="#000" stroke-width="1.0"/>
<path d="M932.3,558.1 l-0.9,-1.2" stroke="#000" stroke-width="1.0"/>
<path d="M949.9,551.6 l0.1,0.4" stroke="#000" stroke-width="1.0"/>
<path d="M922.0,556.2 l-0.7,-0.2" stroke="#000" stroke-width="1.0"/>
<path d="M934.4,556.2 l0.7,-0.6" stroke="#000" stroke-width="1.0"/>
<path d="M924.5,551.7 l-0.3,-1.3" stroke="#000" stroke-width="1.0"/>
<path d="M926.6,556.4 l0.6,1.4" stroke="#000" stroke-width="1.0"/>
<path d="M960.5,557.5 l-0.4,-1.0" stroke="#000" stroke-width="1.0"/>
<path d="M933.1,553.3 l0.1,0.1" stroke="#000" stroke-width="1.0"/>
<path d="M935.0,557.3 l-0.6,-0.1" stroke="#000" stroke-width="1.0"/>
<path d="M956.7,556.8 l-0.6,-0.8" stroke="#000" stroke-width="1.0"/>
<path d="M953.4,548.7 l-1.1,0.1" stroke="#000" stroke-width="1.0"/>
<path d="M942.3,550.3 l-1.3,-0.9" stroke="#000" stroke-width="1.0"/>
<path d="M951.9,553.4 l1.4,0.9" stroke="#000" stroke-width="1.0"/>
<path d="M960.4,549.0 l-0.9,-1.5" stroke="#000" stroke-width="1.0"/>
<rect x="758.8" y="631.4" width="19.8" height="10.6" rx="0.0" fill="none" stroke="#000" stroke-width="0.90"/>
<circle cx="768.5" cy="636.7" r="4.3" fill="#fff" stroke="#000" stroke-width="1.3"/>
<circle cx="768.5" cy="636.7" r="2.4" fill="none" stroke="#000" stroke-width="0.7"/>
<circle cx="768.5" cy="639.1" r="0.8" fill="#000"/>
<ellipse cx="786.2" cy="631.8" rx="3.5" ry="4.8" fill="none" stroke="#000" stroke-width="0.90"/>
<rect x="780.9" y="637.3" width="11.4" height="4.7" rx="0.0" fill="none" stroke="#000" stroke-width="0.90"/>
<rect x="793.2" y="612.6" width="15.9" height="29.4" rx="0.0" fill="none" stroke="#000" stroke-width="0.90"/>
<rect x="794.8" y="614.2" width="12.7" height="26.2" rx="3.5" fill="none" stroke="#000" stroke-width="0.90"/>
<path d="M799.0,614.8 L803.5,614.8" fill="none" stroke="#000" stroke-width="1.60" />
<rect x="812.6" y="612.6" width="15.9" height="29.4" rx="0.0" fill="none" stroke="#000" stroke-width="0.90"/>
<rect x="814.2" y="614.2" width="12.7" height="26.2" rx="3.5" fill="none" stroke="#000" stroke-width="0.90"/>
<path d="M818.5,640.0 L823.0,640.0" fill="none" stroke="#000" stroke-width="1.60" />
<rect x="829.4" y="612.6" width="11.4" height="4.2" rx="0.0" fill="none" stroke="#000" stroke-width="0.90"/>
<ellipse cx="835.0" cy="623.2" rx="3.7" ry="4.8" fill="none" stroke="#000" stroke-width="0.90"/>
<rect x="842.6" y="612.6" width="20.3" height="10.6" rx="0.0" fill="none" stroke="#000" stroke-width="0.90"/>
<circle cx="852.3" cy="617.9" r="4.3" fill="#fff" stroke="#000" stroke-width="1.3"/>
<circle cx="852.3" cy="617.9" r="2.4" fill="none" stroke="#000" stroke-width="0.7"/>
<circle cx="852.3" cy="620.3" r="0.8" fill="#000"/>
<rect x="1097.3" y="563.5" width="22" height="22" fill="#fff" stroke="#000" stroke-width="0.9"/>
<path d="M1097.3,587.0 L1119.3,587.0" fill="none" stroke="#000" stroke-width="3.00" />
<path d="M1101.7,568.8 L1115.8,582.9" fill="none" stroke="#000" stroke-width="0.70" />
<path d="M1115.8,568.8 L1101.7,582.9" fill="none" stroke="#000" stroke-width="0.70" />
<rect x="1094.6" y="588.5" width="24.7" height="45.9" rx="0.0" fill="none" stroke="#000" stroke-width="0.90"/>
<rect x="1098.1" y="594.3" width="19.4" height="37.7" rx="0.0" fill="none" stroke="#000" stroke-width="0.90"/>
<path d="M1104.5,597.5 L1111.9,597.5 L1115.2,606.0 L1115.2,620.0 L1111.9,629.0 L1104.5,629.0 L1101.2,620.0 L1101.2,606.0Z" fill="none" stroke="#000" stroke-width="0.80" />
<path d="M1103.0,627.5 L1110.0,629.5" fill="none" stroke="#000" stroke-width="1.50" />
<rect x="1049.1" y="588.5" width="10.2" height="47.6" rx="0.0" fill="none" stroke="#000" stroke-width="0.90"/>
<rect x="1051.4" y="593.8" width="6.2" height="9.7" rx="0.0" fill="#fff" stroke="#000" stroke-width="1.50"/>
<path d="M1051.4,598.6 L1057.6,598.6" fill="none" stroke="#000" stroke-width="0.90" />
<path d="M1054.5,598.6 L1054.5,603.5" fill="none" stroke="#000" stroke-width="0.90" />
<rect x="1051.4" y="622.6" width="6.2" height="10.0" rx="0.0" fill="#fff" stroke="#000" stroke-width="1.50"/>
<path d="M1051.4,627.6 L1057.6,627.6" fill="none" stroke="#000" stroke-width="0.90" />
<path d="M1054.5,627.6 L1054.5,632.6" fill="none" stroke="#000" stroke-width="0.90" />
<rect x="1049.6" y="639.3" width="5.0" height="10.9" rx="0.0" fill="none" stroke="#000" stroke-width="0.90"/>
<ellipse cx="1060.2" cy="644.6" rx="4.8" ry="3.5" fill="none" stroke="#000" stroke-width="0.90"/>
<path d="M890.3,591.7 A71.8,71.8 0 0 0 902.7,671.0" stroke="#000" stroke-width="1.50" fill="none" />
<path d="M891.8,592.4 A70.1,70.1 0 0 0 904.0,669.8" stroke="#000" stroke-width="0.60" fill="none" />
<path d="M909.3,602.4 A47.0,47.0 0 0 0 917.7,655.8" stroke="#000" stroke-width="1.50" fill="none" />
<path d="M907.7,601.6 A48.8,48.8 0 0 0 916.4,657.0" stroke="#000" stroke-width="0.60" fill="none" />
<path d="M890.3,591.7 L909.3,602.4" fill="none" stroke="#000" stroke-width="0.75" />
<path d="M888.3,596.3 L907.9,605.5" fill="none" stroke="#000" stroke-width="0.75" />
<path d="M886.7,601.0 L906.8,608.7" fill="none" stroke="#000" stroke-width="0.75" />
<path d="M885.4,605.9 L905.8,611.9" fill="none" stroke="#000" stroke-width="0.75" />
<path d="M884.4,610.8 L905.2,615.2" fill="none" stroke="#000" stroke-width="0.75" />
<path d="M883.8,615.8 L904.7,618.6" fill="none" stroke="#000" stroke-width="0.75" />
<path d="M883.5,620.8 L904.5,622.0" fill="none" stroke="#000" stroke-width="0.75" />
<path d="M883.6,625.8 L904.6,625.4" fill="none" stroke="#000" stroke-width="0.75" />
<path d="M884.0,630.8 L904.8,628.7" fill="none" stroke="#000" stroke-width="0.75" />
<path d="M884.8,635.7 L905.4,632.1" fill="none" stroke="#000" stroke-width="0.75" />
<path d="M885.9,640.6 L906.1,635.4" fill="none" stroke="#000" stroke-width="0.75" />
<path d="M887.4,645.4 L907.1,638.6" fill="none" stroke="#000" stroke-width="0.75" />
<path d="M889.2,650.1 L908.4,641.8" fill="none" stroke="#000" stroke-width="0.75" />
<path d="M891.3,654.6 L909.8,644.8" fill="none" stroke="#000" stroke-width="0.75" />
<path d="M893.7,659.0 L911.5,647.8" fill="none" stroke="#000" stroke-width="0.75" />
<path d="M896.4,663.2 L913.4,650.6" fill="none" stroke="#000" stroke-width="0.75" />
<path d="M899.4,667.2 L915.5,653.3" fill="none" stroke="#000" stroke-width="0.75" />
<path d="M902.7,671.0 L917.7,655.8" fill="none" stroke="#000" stroke-width="0.75" />
<path d="M894.3,628.9 L894.5,630.5 L894.8,632.1 L895.0,633.6 L895.4,635.2 L895.7,636.8 L896.1,638.4 L896.6,639.9 L897.1,641.4 L897.6,643.0 L898.2,644.5 L898.8,646.0 L899.4,647.4 L900.1,648.9 L900.9,650.3 L901.6,651.7 L902.4,653.1 L903.3,654.5 L904.2,655.8 L905.1,657.2 L906.1,658.5 L907.0,659.7 L908.1,661.0 L909.1,662.2 L910.2,663.4" fill="none" stroke="#000" stroke-width="0.70" />
<path d="M878.9,629.5 L909.8,628.3" fill="none" stroke="#000" stroke-width="0.80" />
<path d="M986.6,586.1 A72.5,72.5 0 0 1 978.0,670.6" stroke="#000" stroke-width="1.50" fill="none" />
<path d="M985.1,587.0 A70.8,70.8 0 0 1 976.7,669.5" stroke="#000" stroke-width="0.60" fill="none" />
<path d="M968.4,599.4 A43.8,43.8 0 0 1 963.3,656.5" stroke="#000" stroke-width="1.50" fill="none" />
<path d="M969.8,598.4 A45.6,45.6 0 0 1 964.5,657.7" stroke="#000" stroke-width="0.60" fill="none" />
<path d="M986.6,586.1 L968.4,599.4" fill="none" stroke="#000" stroke-width="0.75" />
<path d="M989.1,590.8 L970.4,602.5" fill="none" stroke="#000" stroke-width="0.75" />
<path d="M991.2,595.7 L972.1,605.7" fill="none" stroke="#000" stroke-width="0.75" />
<path d="M993.0,600.7 L973.6,609.1" fill="none" stroke="#000" stroke-width="0.75" />
<path d="M994.4,605.9 L974.8,612.6" fill="none" stroke="#000" stroke-width="0.75" />
<path d="M995.4,611.1 L975.7,616.1" fill="none" stroke="#000" stroke-width="0.75" />
<path d="M996.1,616.4 L976.3,619.7" fill="none" stroke="#000" stroke-width="0.75" />
<path d="M996.3,621.7 L976.6,623.4" fill="none" stroke="#000" stroke-width="0.75" />
<path d="M996.1,627.1 L976.6,627.1" fill="none" stroke="#000" stroke-width="0.75" />
<path d="M995.6,632.4 L976.2,630.7" fill="none" stroke="#000" stroke-width="0.75" />
<path d="M994.7,637.6 L975.6,634.3" fill="none" stroke="#000" stroke-width="0.75" />
<path d="M993.4,642.8 L974.7,637.9" fill="none" stroke="#000" stroke-width="0.75" />
<path d="M991.7,647.9 L973.4,641.3" fill="none" stroke="#000" stroke-width="0.75" />
<path d="M989.6,652.8 L971.9,644.7" fill="none" stroke="#000" stroke-width="0.75" />
<path d="M987.2,657.5 L970.1,647.9" fill="none" stroke="#000" stroke-width="0.75" />
<path d="M984.5,662.1 L968.1,650.9" fill="none" stroke="#000" stroke-width="0.75" />
<path d="M981.4,666.5 L965.8,653.8" fill="none" stroke="#000" stroke-width="0.75" />
<path d="M978.0,670.6 L963.3,656.5" fill="none" stroke="#000" stroke-width="0.75" />
<path d="M977.5,592.8 L979.1,595.5 L980.6,598.3 L981.9,601.2 L983.0,604.2 L984.0,607.2 L984.9,610.3 L985.5,613.4 L986.0,616.6 L986.3,619.8 L986.4,622.9 L986.4,626.1 L986.2,629.3 L985.8,632.5 L985.2,635.6 L984.5,638.7 L983.6,641.8 L982.5,644.8 L981.3,647.7 L979.9,650.6 L978.3,653.4 L976.6,656.1 L974.7,658.7 L972.8,661.1 L970.6,663.5" fill="none" stroke="#000" stroke-width="0.70" />
<path d="M909.3,602.6 Q939,614.5 968.6,599.4" fill="none" stroke="#000" stroke-width="2.6"/>
<path d="M909.3,602.6 Q939,614.5 968.6,599.4" fill="none" stroke="#fff" stroke-width="1.0"/></g>
<g><text x="56.5" y="70.9" font-size="12.21" textLength="114.5" lengthAdjust="spacingAndGlyphs" fill="#111" stroke="#111" stroke-width="0.50" word-spacing="2.7">5615 121A STREET</text>
<text x="86.4" y="86.8" font-size="12.07" textLength="53.8" lengthAdjust="spacingAndGlyphs" fill="#111" stroke="#111" stroke-width="0.50" word-spacing="2.7">SURREY</text>
<text x="56.5" y="172.4" font-size="12.21" textLength="110.2" lengthAdjust="spacingAndGlyphs" fill="#111" stroke="#111" stroke-width="0.50" word-spacing="2.7">JANET RATHBUN</text>
<text x="69.0" y="187.9" font-size="11.80" textLength="85.3" lengthAdjust="spacingAndGlyphs" fill="#111" stroke="#111" stroke-width="0.50" word-spacing="2.6">778.998.7653</text>
<text x="439.0" y="152.2" font-size="5.50" text-anchor="middle" textLength="20.4" lengthAdjust="spacingAndGlyphs" fill="#111" font-weight="normal" stroke="#111" stroke-width="0.22">3 CAR</text>
<text x="439.0" y="160.0" font-size="5.50" text-anchor="middle" textLength="29.7" lengthAdjust="spacingAndGlyphs" fill="#111" font-weight="normal" stroke="#111" stroke-width="0.22">GARAGE</text>
<text x="439.0" y="168.0" font-size="5.50" text-anchor="middle" textLength="41.0" lengthAdjust="spacingAndGlyphs" fill="#111" font-weight="normal" stroke="#111" stroke-width="0.22">32'3&quot; X 20'1&quot;</text>
<text x="439.0" y="176.4" font-size="5.50" text-anchor="middle" textLength="55.0" lengthAdjust="spacingAndGlyphs" fill="#111" font-weight="normal" stroke="#111" stroke-width="0.22">(NOT INCLUDED)</text>
<text x="439.0" y="184.0" font-size="5.50" text-anchor="middle" textLength="40.0" lengthAdjust="spacingAndGlyphs" fill="#111" font-weight="normal" stroke="#111" stroke-width="0.22">9'1&quot; CEILING</text>
<text x="630.0" y="145.9" font-size="5.50" text-anchor="middle" textLength="30.0" lengthAdjust="spacingAndGlyphs" fill="#111" font-weight="normal" stroke="#111" stroke-width="0.22">LANDING</text>
<text x="630.0" y="154.3" font-size="5.50" text-anchor="middle" textLength="34.0" lengthAdjust="spacingAndGlyphs" fill="#111" font-weight="normal" stroke="#111" stroke-width="0.22">7'9&quot; X 6'3&quot;</text>
<text x="582.3" y="176.9" font-size="5.50" text-anchor="middle" textLength="22.0" lengthAdjust="spacingAndGlyphs" fill="#111" font-weight="normal" stroke="#111" stroke-width="0.22">BONUS</text>
<text x="582.3" y="184.7" font-size="5.50" text-anchor="middle" textLength="20.0" lengthAdjust="spacingAndGlyphs" fill="#111" font-weight="normal" stroke="#111" stroke-width="0.22">ROOM</text>
<text x="582.3" y="192.8" font-size="5.50" text-anchor="middle" textLength="39.7" lengthAdjust="spacingAndGlyphs" fill="#111" font-weight="normal" stroke="#111" stroke-width="0.22">16'8&quot; X 16'2&quot;</text>
<text x="713.8" y="70.0" font-size="5.50" text-anchor="middle" textLength="32.0" lengthAdjust="spacingAndGlyphs" fill="#111" font-weight="normal" stroke="#111" stroke-width="0.22">STORAGE</text>
<text x="713.8" y="78.1" font-size="5.50" text-anchor="middle" textLength="21.0" lengthAdjust="spacingAndGlyphs" fill="#111" font-weight="normal" stroke="#111" stroke-width="0.22">ROOM</text>
<text x="713.8" y="86.2" font-size="5.50" text-anchor="middle" textLength="34.3" lengthAdjust="spacingAndGlyphs" fill="#111" font-weight="normal" stroke="#111" stroke-width="0.22">11'8&quot; X 6'3&quot;</text>
<text x="747.5" y="122.7" font-size="5.50" text-anchor="middle" textLength="8.5" lengthAdjust="spacingAndGlyphs" fill="#111" font-weight="normal" stroke="#111" stroke-width="0.22">WR</text>
<text x="898.3" y="95.5" font-size="5.50" text-anchor="middle" textLength="26.0" lengthAdjust="spacingAndGlyphs" fill="#111" font-weight="normal" stroke="#111" stroke-width="0.22" transform="rotate(-90 898.3 93.5)">BUILT-IN</text>
<text x="857.4" y="87.6" font-size="5.50" text-anchor="middle" textLength="22.5" lengthAdjust="spacingAndGlyphs" fill="#111" font-weight="normal" stroke="#111" stroke-width="0.22">SALON</text>
<text x="857.4" y="95.5" font-size="5.50" text-anchor="middle" textLength="36.0" lengthAdjust="spacingAndGlyphs" fill="#111" font-weight="normal" stroke="#111" stroke-width="0.22">11'8&quot; X 11'6&quot;</text>
<text x="857.4" y="103.6" font-size="5.50" text-anchor="middle" textLength="42.5" lengthAdjust="spacingAndGlyphs" fill="#111" font-weight="normal" stroke="#111" stroke-width="0.22">9'0&quot; CEILING</text>
<text x="935.7" y="74.2" font-size="12.62" textLength="127.5" lengthAdjust="spacingAndGlyphs" fill="#111" stroke="#111" stroke-width="0.50" word-spacing="2.8">SQUARE FOOTAGE</text>
<text x="943.0" y="90.7" font-size="12.62" textLength="113.0" lengthAdjust="spacingAndGlyphs" fill="#111" stroke="#111" stroke-width="0.50" word-spacing="2.8">MAIN LEVEL 2327</text>
<text x="932.7" y="106.4" font-size="12.48" textLength="132.9" lengthAdjust="spacingAndGlyphs" fill="#111" stroke="#111" stroke-width="0.50" word-spacing="2.7">UPPER LEVEL 1808</text>
<text x="932.3" y="122.3" font-size="12.76" textLength="133.7" lengthAdjust="spacingAndGlyphs" fill="#111" stroke="#111" stroke-width="0.50" word-spacing="2.8">LOWER LEVEL 2504</text>
<text x="932.7" y="138.6" font-size="12.48" textLength="133.3" lengthAdjust="spacingAndGlyphs" fill="#111" stroke="#111" stroke-width="0.50" word-spacing="2.7">HOUSE TOTAL 6639</text>
<text x="938.0" y="154.4" font-size="12.48" textLength="122.8" lengthAdjust="spacingAndGlyphs" fill="#111" stroke="#111" stroke-width="0.50" word-spacing="2.7">BONUS ROOM 373</text>
<text x="963.0" y="170.6" font-size="12.48" textLength="72.0" lengthAdjust="spacingAndGlyphs" fill="#111" stroke="#111" stroke-width="0.50" word-spacing="2.7">SALON 158</text>
<text x="870.2" y="186.5" font-size="12.62" textLength="258.5" lengthAdjust="spacingAndGlyphs" fill="#111" stroke="#111" stroke-width="0.50" word-spacing="2.8">DETACHED WASHROOM/STORAGE 158</text>
<text x="931.5" y="202.8" font-size="12.76" textLength="135.1" lengthAdjust="spacingAndGlyphs" fill="#111" stroke="#111" stroke-width="0.50" word-spacing="2.8">GRAND TOTAL 7328</text>
<text x="940.5" y="234.9" font-size="12.48" textLength="117.1" lengthAdjust="spacingAndGlyphs" fill="#111" stroke="#111" stroke-width="0.50" word-spacing="2.7">MAIN DECKS 756</text>
<text x="936.4" y="250.8" font-size="12.62" textLength="125.3" lengthAdjust="spacingAndGlyphs" fill="#111" stroke="#111" stroke-width="0.50" word-spacing="2.8">UPPER DECKS 371</text>
<text x="947.9" y="266.8" font-size="12.21" textLength="102.8" lengthAdjust="spacingAndGlyphs" fill="#111" stroke="#111" stroke-width="0.50" word-spacing="2.7">VERANDA 640</text>
<text x="963.0" y="283.1" font-size="12.07" textLength="73.6" lengthAdjust="spacingAndGlyphs" fill="#111" stroke="#111" stroke-width="0.50" word-spacing="2.7">PATIO 507</text>
<text x="956.7" y="299.1" font-size="12.21" textLength="85.2" lengthAdjust="spacingAndGlyphs" fill="#111" stroke="#111" stroke-width="0.50" word-spacing="2.7">GARAGE 722</text>
<text x="335.4" y="377.4" font-size="5.50" text-anchor="middle" textLength="21.0" lengthAdjust="spacingAndGlyphs" fill="#333" font-weight="normal" stroke="#333" stroke-width="0.22">WATER</text>
<text x="335.4" y="384.4" font-size="5.50" text-anchor="middle" textLength="27.0" lengthAdjust="spacingAndGlyphs" fill="#333" font-weight="normal" stroke="#333" stroke-width="0.22">FEATURE</text>
<text x="244.8" y="377.4" font-size="5.50" text-anchor="middle" textLength="20.0" lengthAdjust="spacingAndGlyphs" fill="#111" font-weight="normal" stroke="#111" stroke-width="0.22">PATIO</text>
<text x="244.8" y="386.0" font-size="5.50" text-anchor="middle" textLength="43.2" lengthAdjust="spacingAndGlyphs" fill="#111" font-weight="normal" stroke="#111" stroke-width="0.22">33'8&quot; X 16'0&quot;</text>
<text x="244.8" y="393.7" font-size="5.50" text-anchor="middle" textLength="55.8" lengthAdjust="spacingAndGlyphs" fill="#111" font-weight="normal" stroke="#111" stroke-width="0.22">(NOT INCLUDED)</text>
<text x="106.7" y="377.0" font-size="5.50" text-anchor="middle" textLength="21.0" lengthAdjust="spacingAndGlyphs" fill="#111" font-weight="normal" stroke="#111" stroke-width="0.22">MEDIA</text>
<text x="106.7" y="384.9" font-size="5.50" text-anchor="middle" textLength="20.5" lengthAdjust="spacingAndGlyphs" fill="#111" font-weight="normal" stroke="#111" stroke-width="0.22">ROOM</text>
<text x="106.7" y="393.2" font-size="5.50" text-anchor="middle" textLength="41.4" lengthAdjust="spacingAndGlyphs" fill="#111" font-weight="normal" stroke="#111" stroke-width="0.22">18'10&quot; X 13'4&quot;</text>
<text x="106.7" y="401.7" font-size="5.50" text-anchor="middle" textLength="7.5" lengthAdjust="spacingAndGlyphs" fill="#111" font-weight="normal" stroke="#111" stroke-width="0.22">UP</text>
<text x="116.8" y="551.0" font-size="5.50" text-anchor="middle" textLength="26.5" lengthAdjust="spacingAndGlyphs" fill="#111" font-weight="normal" stroke="#111" stroke-width="0.22" transform="rotate(-90 116.8 549.0)">ENSUITE</text>
<text x="112.9" y="608.0" font-size="5.50" text-anchor="middle" textLength="27.0" lengthAdjust="spacingAndGlyphs" fill="#111" font-weight="normal" stroke="#111" stroke-width="0.22" transform="rotate(-90 112.9 606.0)">WALK-IN</text>
<text x="121.0" y="608.0" font-size="5.50" text-anchor="middle" textLength="25.0" lengthAdjust="spacingAndGlyphs" fill="#111" font-weight="normal" stroke="#111" stroke-width="0.22" transform="rotate(-90 121.0 606.0)">CLOSET</text>
<text x="129.1" y="608.0" font-size="5.50" text-anchor="middle" textLength="32.0" lengthAdjust="spacingAndGlyphs" fill="#111" font-weight="normal" stroke="#111" stroke-width="0.22" transform="rotate(-90 129.1 606.0)">4'0&quot; X 5'0&quot;</text>
<text x="158.6" y="551.5" font-size="5.50" text-anchor="middle" textLength="11.5" lengthAdjust="spacingAndGlyphs" fill="#111" font-weight="normal" stroke="#111" stroke-width="0.22" transform="rotate(-90 158.6 549.5)">BAR</text>
<text x="166.2" y="550.3" font-size="5.50" text-anchor="middle" textLength="38.5" lengthAdjust="spacingAndGlyphs" fill="#111" font-weight="normal" stroke="#111" stroke-width="0.22" transform="rotate(-90 166.2 548.3)">9'0&quot; X 7'10&quot;</text>
<text x="153.0" y="604.0" font-size="5.50" text-anchor="middle" textLength="27.0" lengthAdjust="spacingAndGlyphs" fill="#111" font-weight="normal" stroke="#111" stroke-width="0.22" transform="rotate(-90 153.0 602.0)">STORAGE</text>
<text x="195.5" y="596.2" font-size="5.50" text-anchor="middle" textLength="42.5" lengthAdjust="spacingAndGlyphs" fill="#111" font-weight="normal" stroke="#111" stroke-width="0.22" transform="rotate(-90 195.5 594.2)">RECREATION</text>
<text x="204.0" y="596.2" font-size="5.50" text-anchor="middle" textLength="19.0" lengthAdjust="spacingAndGlyphs" fill="#111" font-weight="normal" stroke="#111" stroke-width="0.22" transform="rotate(-90 204.0 594.2)">ROOM</text>
<text x="212.0" y="596.2" font-size="5.50" text-anchor="middle" textLength="42.5" lengthAdjust="spacingAndGlyphs" fill="#111" font-weight="normal" stroke="#111" stroke-width="0.22" transform="rotate(-90 212.0 594.2)">25'5&quot; X 15'0&quot;</text>
<text x="312.4" y="459.0" font-size="5.50" text-anchor="middle" textLength="3.0" lengthAdjust="spacingAndGlyphs" fill="#111" font-weight="normal" stroke="#111" stroke-width="0.22">F</text>
<text x="338.8" y="452.9" font-size="4.20" text-anchor="middle" textLength="6.2" lengthAdjust="spacingAndGlyphs" fill="#111" font-weight="normal" stroke="#111" stroke-width="0.22">WH</text>
<text x="334.7" y="482.8" font-size="5.50" text-anchor="middle" textLength="25.0" lengthAdjust="spacingAndGlyphs" fill="#111" font-weight="normal" stroke="#111" stroke-width="0.22">UTILITY</text>
<text x="334.7" y="490.6" font-size="5.50" text-anchor="middle" textLength="20.0" lengthAdjust="spacingAndGlyphs" fill="#111" font-weight="normal" stroke="#111" stroke-width="0.22">ROOM</text>
<text x="334.7" y="499.0" font-size="5.50" text-anchor="middle" textLength="39.6" lengthAdjust="spacingAndGlyphs" fill="#111" font-weight="normal" stroke="#111" stroke-width="0.22">13'9&quot; X 8'10&quot;</text>
<text x="215.0" y="474.7" font-size="5.50" text-anchor="middle" textLength="44.3" lengthAdjust="spacingAndGlyphs" fill="#111" font-weight="normal" stroke="#111" stroke-width="0.22">RECREATION</text>
<text x="215.0" y="482.6" font-size="5.50" text-anchor="middle" textLength="20.5" lengthAdjust="spacingAndGlyphs" fill="#111" font-weight="normal" stroke="#111" stroke-width="0.22">ROOM</text>
<text x="215.0" y="490.5" font-size="5.50" text-anchor="middle" textLength="41.0" lengthAdjust="spacingAndGlyphs" fill="#111" font-weight="normal" stroke="#111" stroke-width="0.22">28'8&quot; X 13'6&quot;</text>
<text x="69.3" y="529.5" font-size="5.50" text-anchor="middle" textLength="36.0" lengthAdjust="spacingAndGlyphs" fill="#111" font-weight="normal" stroke="#111" stroke-width="0.22">BEDROOM</text>
<text x="69.3" y="537.8" font-size="5.50" text-anchor="middle" textLength="41.8" lengthAdjust="spacingAndGlyphs" fill="#111" font-weight="normal" stroke="#111" stroke-width="0.22">25'5&quot; X 14'0&quot;</text>
<text x="69.3" y="545.8" font-size="5.50" text-anchor="middle" textLength="41.8" lengthAdjust="spacingAndGlyphs" fill="#111" font-weight="normal" stroke="#111" stroke-width="0.22">8'9&quot; CEILING</text>
<text x="273.8" y="527.0" font-size="5.50" text-anchor="middle" textLength="25.5" lengthAdjust="spacingAndGlyphs" fill="#111" font-weight="normal" stroke="#111" stroke-width="0.22">CLOSET</text>
<text x="260.4" y="552.4" font-size="5.50" text-anchor="middle" textLength="27.0" lengthAdjust="spacingAndGlyphs" fill="#111" font-weight="normal" stroke="#111" stroke-width="0.22">WALK-IN</text>
<text x="260.4" y="560.3" font-size="5.50" text-anchor="middle" textLength="25.5" lengthAdjust="spacingAndGlyphs" fill="#111" font-weight="normal" stroke="#111" stroke-width="0.22">CLOSET</text>
<text x="260.4" y="568.1" font-size="5.50" text-anchor="middle" textLength="34.4" lengthAdjust="spacingAndGlyphs" fill="#111" font-weight="normal" stroke="#111" stroke-width="0.22">8'1&quot; X 5'9&quot;</text>
<text x="319.8" y="572.3" font-size="5.50" text-anchor="middle" textLength="36.0" lengthAdjust="spacingAndGlyphs" fill="#111" font-weight="normal" stroke="#111" stroke-width="0.22">BEDROOM</text>
<text x="319.8" y="580.4" font-size="5.50" text-anchor="middle" textLength="41.3" lengthAdjust="spacingAndGlyphs" fill="#111" font-weight="normal" stroke="#111" stroke-width="0.22">14'8&quot; X 12'10&quot;</text>
<text x="319.8" y="588.2" font-size="5.50" text-anchor="middle" textLength="41.8" lengthAdjust="spacingAndGlyphs" fill="#111" font-weight="normal" stroke="#111" stroke-width="0.22">8'9&quot; CEILING</text>
<text x="232.8" y="639.4" font-size="5.50" text-anchor="middle" textLength="25.5" lengthAdjust="spacingAndGlyphs" fill="#111" font-weight="normal" stroke="#111" stroke-width="0.22" transform="rotate(-90 232.8 637.4)">CLOSET</text>
<text x="195.1" y="690.8" font-size="5.50" text-anchor="middle" textLength="25.5" lengthAdjust="spacingAndGlyphs" fill="#111" font-weight="normal" stroke="#111" stroke-width="0.22">CLOSET</text>
<text x="266.7" y="654.9" font-size="5.50" text-anchor="middle" textLength="25.8" lengthAdjust="spacingAndGlyphs" fill="#111" font-weight="normal" stroke="#111" stroke-width="0.22">ENSUITE</text>
<text x="295.8" y="683.2" font-size="5.50" text-anchor="middle" textLength="22.0" lengthAdjust="spacingAndGlyphs" fill="#111" font-weight="normal" stroke="#111" stroke-width="0.22">SAUNA</text>
<text x="295.8" y="691.0" font-size="5.50" text-anchor="middle" textLength="34.3" lengthAdjust="spacingAndGlyphs" fill="#111" font-weight="normal" stroke="#111" stroke-width="0.22">7'6&quot; X 6'7&quot;</text>
<text x="88.2" y="668.1" font-size="5.50" text-anchor="middle" textLength="13.5" lengthAdjust="spacingAndGlyphs" fill="#111" font-weight="normal" stroke="#111" stroke-width="0.22">GYM</text>
<text x="88.2" y="676.1" font-size="5.50" text-anchor="middle" textLength="40.5" lengthAdjust="spacingAndGlyphs" fill="#111" font-weight="normal" stroke="#111" stroke-width="0.22">15'6&quot; X 14'6&quot;</text>
<text x="170.2" y="729.0" font-size="11.93" textLength="186.3" lengthAdjust="spacingAndGlyphs" fill="#111" stroke="#111" stroke-width="0.50" word-spacing="2.6">LOWER LEVEL 2504 SQ. FT.</text>
<text x="205.6" y="779.2" font-size="4.60" text-anchor="middle" textLength="3.4" lengthAdjust="spacingAndGlyphs" fill="#111" font-weight="normal" stroke="#111" stroke-width="0.22">0</text>
<text x="243.5" y="779.2" font-size="4.60" text-anchor="middle" textLength="4.2" lengthAdjust="spacingAndGlyphs" fill="#111" font-weight="normal" stroke="#111" stroke-width="0.22">6'</text>
<text x="281.3" y="779.2" font-size="4.60" text-anchor="middle" textLength="5.6" lengthAdjust="spacingAndGlyphs" fill="#111" font-weight="normal" stroke="#111" stroke-width="0.22">12'</text>
<text x="242.8" y="786.5" font-size="4.10" text-anchor="middle" textLength="111.7" lengthAdjust="spacingAndGlyphs" fill="#111" font-weight="normal" stroke="#111" stroke-width="0.15">MEASUREMENTS SHOULD BE CONSIDERED</text>
<text x="227.1" y="793.1" font-size="4.10" text-anchor="middle" textLength="80.4" lengthAdjust="spacingAndGlyphs" fill="#111" font-weight="normal" stroke="#111" stroke-width="0.15">APPROXIMATE AND ARE FOR</text>
<text x="221.3" y="799.4" font-size="4.10" text-anchor="middle" textLength="68.8" lengthAdjust="spacingAndGlyphs" fill="#111" font-weight="normal" stroke="#111" stroke-width="0.15">PROMOTIONAL USE ONLY.</text>
<text x="203.4" y="805.4" font-size="3.80" text-anchor="middle" textLength="33.1" lengthAdjust="spacingAndGlyphs" fill="#111" font-weight="normal" stroke="#111" stroke-width="0.15">E + O Insured</text>
<text x="225.8" y="812.0" font-size="4.70" text-anchor="middle" textLength="77.8" lengthAdjust="spacingAndGlyphs" fill="#111" font-weight="normal" stroke="#111" stroke-width="0.15">778-231-6942 JULY 2025</text>
<text x="287.4" y="812.7" font-size="3.60" text-anchor="middle" textLength="30.3" lengthAdjust="spacingAndGlyphs" fill="#111" font-weight="normal" stroke="#111" stroke-width="0.15">FLOOR PLANS</text>
<text x="549.8" y="400.4" font-size="5.50" text-anchor="middle" textLength="18.0" lengthAdjust="spacingAndGlyphs" fill="#111" font-weight="normal" stroke="#111" stroke-width="0.22">DECK</text>
<text x="549.8" y="408.4" font-size="5.50" text-anchor="middle" textLength="43.0" lengthAdjust="spacingAndGlyphs" fill="#111" font-weight="normal" stroke="#111" stroke-width="0.22">34'10&quot; X 11'8&quot;</text>
<text x="549.8" y="416.3" font-size="5.50" text-anchor="middle" textLength="55.5" lengthAdjust="spacingAndGlyphs" fill="#111" font-weight="normal" stroke="#111" stroke-width="0.22">(NOT INCLUDED)</text>
<text x="702.3" y="423.4" font-size="5.50" text-anchor="middle" textLength="18.0" lengthAdjust="spacingAndGlyphs" fill="#111" font-weight="normal" stroke="#111" stroke-width="0.22">DECK</text>
<text x="702.3" y="431.2" font-size="5.50" text-anchor="middle" textLength="34.0" lengthAdjust="spacingAndGlyphs" fill="#111" font-weight="normal" stroke="#111" stroke-width="0.22">14'0&quot; X 5'1&quot;</text>
<text x="702.3" y="438.9" font-size="5.50" text-anchor="middle" textLength="54.0" lengthAdjust="spacingAndGlyphs" fill="#111" font-weight="normal" stroke="#111" stroke-width="0.22">(NOT INCLUDED)</text>
<text x="392.0" y="498.6" font-size="5.50" text-anchor="middle" textLength="18.0" lengthAdjust="spacingAndGlyphs" fill="#111" font-weight="normal" stroke="#111" stroke-width="0.22" transform="rotate(-90 392.0 496.6)">DECK</text>
<text x="399.7" y="498.6" font-size="5.50" text-anchor="middle" textLength="37.5" lengthAdjust="spacingAndGlyphs" fill="#111" font-weight="normal" stroke="#111" stroke-width="0.22" transform="rotate(-90 399.7 496.6)">29'3&quot; X 4'4&quot;</text>
<text x="382.7" y="692.7" font-size="5.50" text-anchor="middle" textLength="34.0" lengthAdjust="spacingAndGlyphs" fill="#111" font-weight="normal" stroke="#111" stroke-width="0.22" transform="rotate(-90 382.7 690.7)">VERANDA</text>
<text x="391.0" y="692.7" font-size="5.50" text-anchor="middle" textLength="36.5" lengthAdjust="spacingAndGlyphs" fill="#111" font-weight="normal" stroke="#111" stroke-width="0.22" transform="rotate(-90 391.0 690.7)">16'7&quot; X 6'5&quot;</text>
<text x="398.9" y="692.7" font-size="5.50" text-anchor="middle" textLength="54.5" lengthAdjust="spacingAndGlyphs" fill="#111" font-weight="normal" stroke="#111" stroke-width="0.22" transform="rotate(-90 398.9 690.7)">(NOT INCLUDED)</text>
<text x="724.0" y="680.0" font-size="5.50" text-anchor="middle" textLength="33.4" lengthAdjust="spacingAndGlyphs" fill="#111" font-weight="normal" stroke="#111" stroke-width="0.22" transform="rotate(-90 724.0 678.0)">VERANDA</text>
<text x="731.9" y="680.0" font-size="5.50" text-anchor="middle" textLength="35.0" lengthAdjust="spacingAndGlyphs" fill="#111" font-weight="normal" stroke="#111" stroke-width="0.22" transform="rotate(-90 731.9 678.0)">3'5&quot; X 6'4&quot;</text>
<text x="739.5" y="680.8" font-size="5.50" text-anchor="middle" textLength="52.4" lengthAdjust="spacingAndGlyphs" fill="#111" font-weight="normal" stroke="#111" stroke-width="0.22" transform="rotate(-90 739.5 678.8)">(NOT INCLUDED)</text>
<text x="560.9" y="733.4" font-size="5.50" text-anchor="middle" textLength="33.0" lengthAdjust="spacingAndGlyphs" fill="#111" font-weight="normal" stroke="#111" stroke-width="0.22">VERANDA</text>
<text x="560.9" y="741.4" font-size="5.50" text-anchor="middle" textLength="41.0" lengthAdjust="spacingAndGlyphs" fill="#111" font-weight="normal" stroke="#111" stroke-width="0.22">52'6&quot; X 6'6&quot;</text>
<text x="560.9" y="749.7" font-size="5.50" text-anchor="middle" textLength="55.4" lengthAdjust="spacingAndGlyphs" fill="#111" font-weight="normal" stroke="#111" stroke-width="0.22">(NOT INCLUDED)</text>
<text x="619.4" y="495.3" font-size="5.50" text-anchor="middle" textLength="26.0" lengthAdjust="spacingAndGlyphs" fill="#111" font-weight="normal" stroke="#111" stroke-width="0.22" transform="rotate(-90 619.4 493.3)">BUILT-IN</text>
<text x="402.5" y="601.1" font-size="5.50" text-anchor="middle" textLength="31.0" lengthAdjust="spacingAndGlyphs" fill="#111" font-weight="normal" stroke="#111" stroke-width="0.22">LAUNDRY</text>
<text x="402.5" y="608.9" font-size="5.50" text-anchor="middle" textLength="20.0" lengthAdjust="spacingAndGlyphs" fill="#111" font-weight="normal" stroke="#111" stroke-width="0.22">ROOM</text>
<text x="402.5" y="616.7" font-size="5.50" text-anchor="middle" textLength="39.2" lengthAdjust="spacingAndGlyphs" fill="#111" font-weight="normal" stroke="#111" stroke-width="0.22">12'10&quot; X 7'0&quot;</text>
<text x="448.3" y="626.6" font-size="5.50" text-anchor="middle" textLength="13.0" lengthAdjust="spacingAndGlyphs" fill="#111" font-weight="normal" stroke="#111" stroke-width="0.22">CLO</text>
<text x="473.4" y="604.2" font-size="5.50" text-anchor="middle" textLength="30.9" lengthAdjust="spacingAndGlyphs" fill="#111" font-weight="normal" stroke="#111" stroke-width="0.22" transform="rotate(-90 473.4 602.2)">BUTLER'S</text>
<text x="481.1" y="604.2" font-size="5.50" text-anchor="middle" textLength="31.0" lengthAdjust="spacingAndGlyphs" fill="#111" font-weight="normal" stroke="#111" stroke-width="0.22" transform="rotate(-90 481.1 602.2)">7'6&quot; X 6'7&quot;</text>
<text x="431.6" y="519.0" font-size="5.50" text-anchor="middle" textLength="28.3" lengthAdjust="spacingAndGlyphs" fill="#111" font-weight="normal" stroke="#111" stroke-width="0.22" transform="rotate(-90 431.6 517.0)">KITCHEN</text>
<text x="439.7" y="519.0" font-size="5.50" text-anchor="middle" textLength="39.6" lengthAdjust="spacingAndGlyphs" fill="#111" font-weight="normal" stroke="#111" stroke-width="0.22" transform="rotate(-90 439.7 517.0)">22'6&quot; X 14'6&quot;</text>
<text x="564.0" y="489.6" font-size="5.50" text-anchor="middle" textLength="24.0" lengthAdjust="spacingAndGlyphs" fill="#111" font-weight="normal" stroke="#111" stroke-width="0.22">FAMILY</text>
<text x="564.0" y="497.8" font-size="5.50" text-anchor="middle" textLength="20.0" lengthAdjust="spacingAndGlyphs" fill="#111" font-weight="normal" stroke="#111" stroke-width="0.22">ROOM</text>
<text x="564.0" y="505.9" font-size="5.50" text-anchor="middle" textLength="40.0" lengthAdjust="spacingAndGlyphs" fill="#111" font-weight="normal" stroke="#111" stroke-width="0.22">19'5&quot; X 18'8&quot;</text>
<text x="564.0" y="513.9" font-size="5.50" text-anchor="middle" textLength="42.3" lengthAdjust="spacingAndGlyphs" fill="#111" font-weight="normal" stroke="#111" stroke-width="0.22">17'9&quot; CEILING</text>
<text x="670.3" y="497.3" font-size="5.50" text-anchor="middle" textLength="36.0" lengthAdjust="spacingAndGlyphs" fill="#111" font-weight="normal" stroke="#111" stroke-width="0.22">BEDROOM</text>
<text x="670.3" y="505.2" font-size="5.50" text-anchor="middle" textLength="39.0" lengthAdjust="spacingAndGlyphs" fill="#111" font-weight="normal" stroke="#111" stroke-width="0.22">16'9&quot; X 13'2&quot;</text>
<text x="670.3" y="513.3" font-size="5.50" text-anchor="middle" textLength="42.7" lengthAdjust="spacingAndGlyphs" fill="#111" font-weight="normal" stroke="#111" stroke-width="0.22">9'0&quot; CEILING</text>
<text x="724.7" y="479.5" font-size="5.50" text-anchor="middle" textLength="26.0" lengthAdjust="spacingAndGlyphs" fill="#111" font-weight="normal" stroke="#111" stroke-width="0.22" transform="rotate(-90 724.7 477.5)">WALK-IN</text>
<text x="733.2" y="479.5" font-size="5.50" text-anchor="middle" textLength="24.0" lengthAdjust="spacingAndGlyphs" fill="#111" font-weight="normal" stroke="#111" stroke-width="0.22" transform="rotate(-90 733.2 477.5)">CLOSET</text>
<text x="741.0" y="479.5" font-size="5.50" text-anchor="middle" textLength="31.0" lengthAdjust="spacingAndGlyphs" fill="#111" font-weight="normal" stroke="#111" stroke-width="0.22" transform="rotate(-90 741.0 477.5)">7'1&quot; X 5'0&quot;</text>
<text x="722.0" y="520.6" font-size="5.50" text-anchor="middle" textLength="27.0" lengthAdjust="spacingAndGlyphs" fill="#111" font-weight="normal" stroke="#111" stroke-width="0.22" transform="rotate(-90 722.0 518.6)">ENSUITE</text>
<text x="702.7" y="589.4" font-size="5.50" text-anchor="middle" textLength="23.0" lengthAdjust="spacingAndGlyphs" fill="#111" font-weight="normal" stroke="#111" stroke-width="0.22">OFFICE</text>
<text x="702.7" y="597.5" font-size="5.50" text-anchor="middle" textLength="36.0" lengthAdjust="spacingAndGlyphs" fill="#111" font-weight="normal" stroke="#111" stroke-width="0.22">11'10&quot; X 11'2&quot;</text>
<text x="661.3" y="609.3" font-size="5.50" text-anchor="middle" textLength="27.0" lengthAdjust="spacingAndGlyphs" fill="#111" font-weight="normal" stroke="#111" stroke-width="0.22" transform="rotate(-90 661.3 607.3)">BUILT-IN</text>
<text x="641.9" y="590.9" font-size="5.50" text-anchor="middle" textLength="7.0" lengthAdjust="spacingAndGlyphs" fill="#111" font-weight="normal" stroke="#111" stroke-width="0.22">PR</text>
<text x="655.6" y="667.3" font-size="5.50" text-anchor="middle" textLength="21.0" lengthAdjust="spacingAndGlyphs" fill="#111" font-weight="normal" stroke="#111" stroke-width="0.22">LIVING</text>
<text x="655.6" y="674.7" font-size="5.50" text-anchor="middle" textLength="20.0" lengthAdjust="spacingAndGlyphs" fill="#111" font-weight="normal" stroke="#111" stroke-width="0.22">ROOM</text>
<text x="655.6" y="682.7" font-size="5.50" text-anchor="middle" textLength="40.5" lengthAdjust="spacingAndGlyphs" fill="#111" font-weight="normal" stroke="#111" stroke-width="0.22">16'5&quot; X 13'0&quot;</text>
<text x="448.5" y="679.5" font-size="5.50" text-anchor="middle" textLength="22.5" lengthAdjust="spacingAndGlyphs" fill="#111" font-weight="normal" stroke="#111" stroke-width="0.22">DINING</text>
<text x="448.5" y="687.1" font-size="5.50" text-anchor="middle" textLength="20.0" lengthAdjust="spacingAndGlyphs" fill="#111" font-weight="normal" stroke="#111" stroke-width="0.22">ROOM</text>
<text x="448.5" y="695.4" font-size="5.50" text-anchor="middle" textLength="38.4" lengthAdjust="spacingAndGlyphs" fill="#111" font-weight="normal" stroke="#111" stroke-width="0.22">16'1&quot; X 10'9&quot;</text>
<text x="563.4" y="645.4" font-size="5.50" text-anchor="middle" textLength="22.0" lengthAdjust="spacingAndGlyphs" fill="#111" font-weight="normal" stroke="#111" stroke-width="0.22">FOYER</text>
<text x="563.4" y="653.4" font-size="5.50" text-anchor="middle" textLength="39.0" lengthAdjust="spacingAndGlyphs" fill="#111" font-weight="normal" stroke="#111" stroke-width="0.22">19'7&quot; X 17'8&quot;</text>
<text x="563.4" y="661.6" font-size="5.50" text-anchor="middle" textLength="45.0" lengthAdjust="spacingAndGlyphs" fill="#111" font-weight="normal" stroke="#111" stroke-width="0.22">20'3&quot; CEILING</text>
<text x="609.0" y="608.0" font-size="5.50" text-anchor="middle" textLength="31.8" lengthAdjust="spacingAndGlyphs" fill="#111" font-weight="normal" stroke="#111" stroke-width="0.22" transform="rotate(-90 609.0 606.0)">STORAGE</text>
<text x="623.4" y="783.1" font-size="11.80" textLength="166.0" lengthAdjust="spacingAndGlyphs" fill="#111" stroke="#111" stroke-width="0.50" word-spacing="2.6">MAIN LEVEL 2327 SQ. FT.</text>
<text x="965.9" y="397.0" font-size="5.50" text-anchor="middle" textLength="18.0" lengthAdjust="spacingAndGlyphs" fill="#111" font-weight="normal" stroke="#111" stroke-width="0.22">DECK</text>
<text x="965.9" y="404.9" font-size="5.50" text-anchor="middle" textLength="39.0" lengthAdjust="spacingAndGlyphs" fill="#111" font-weight="normal" stroke="#111" stroke-width="0.22">15'6&quot; X 14'0&quot;</text>
<text x="965.9" y="412.8" font-size="5.50" text-anchor="middle" textLength="54.7" lengthAdjust="spacingAndGlyphs" fill="#111" font-weight="normal" stroke="#111" stroke-width="0.22">(NOT INCLUDED)</text>
<text x="1068.2" y="422.5" font-size="5.50" text-anchor="middle" textLength="18.0" lengthAdjust="spacingAndGlyphs" fill="#111" font-weight="normal" stroke="#111" stroke-width="0.22">DECK</text>
<text x="1068.2" y="430.1" font-size="5.50" text-anchor="middle" textLength="40.0" lengthAdjust="spacingAndGlyphs" fill="#111" font-weight="normal" stroke="#111" stroke-width="0.22">13'10&quot; X 6'9&quot;</text>
<text x="1068.2" y="438.4" font-size="5.50" text-anchor="middle" textLength="55.0" lengthAdjust="spacingAndGlyphs" fill="#111" font-weight="normal" stroke="#111" stroke-width="0.22">(NOT INCLUDED)</text>
<text x="793.2" y="518.7" font-size="5.50" text-anchor="middle" textLength="25.7" lengthAdjust="spacingAndGlyphs" fill="#111" font-weight="normal" stroke="#111" stroke-width="0.22">ENSUITE</text>
<text x="833.8" y="534.6" font-size="5.50" text-anchor="middle" textLength="25.2" lengthAdjust="spacingAndGlyphs" fill="#111" font-weight="normal" stroke="#111" stroke-width="0.22">CLOSET</text>
<text x="830.2" y="473.3" font-size="5.50" text-anchor="middle" textLength="36.0" lengthAdjust="spacingAndGlyphs" fill="#111" font-weight="normal" stroke="#111" stroke-width="0.22">BEDROOM</text>
<text x="830.2" y="481.6" font-size="5.50" text-anchor="middle" textLength="39.0" lengthAdjust="spacingAndGlyphs" fill="#111" font-weight="normal" stroke="#111" stroke-width="0.22">14'9&quot; X 12'0&quot;</text>
<text x="830.2" y="489.6" font-size="5.50" text-anchor="middle" textLength="42.3" lengthAdjust="spacingAndGlyphs" fill="#111" font-weight="normal" stroke="#111" stroke-width="0.22">9'0&quot; CEILING</text>
<text x="938.3" y="501.8" font-size="5.50" text-anchor="middle" textLength="57.4" lengthAdjust="spacingAndGlyphs" fill="#111" font-weight="normal" stroke="#111" stroke-width="0.22">OPEN TO BELOW</text>
<text x="791.4" y="571.3" font-size="5.50" text-anchor="middle" textLength="36.0" lengthAdjust="spacingAndGlyphs" fill="#111" font-weight="normal" stroke="#111" stroke-width="0.22">BEDROOM</text>
<text x="791.4" y="579.0" font-size="5.50" text-anchor="middle" textLength="38.0" lengthAdjust="spacingAndGlyphs" fill="#111" font-weight="normal" stroke="#111" stroke-width="0.22">12'0&quot; X 11'0&quot;</text>
<text x="791.4" y="587.5" font-size="5.50" text-anchor="middle" textLength="60.0" lengthAdjust="spacingAndGlyphs" fill="#111" font-weight="normal" stroke="#111" stroke-width="0.22">VAULTED CEILING</text>
<text x="840.8" y="592.8" font-size="5.50" text-anchor="middle" textLength="26.0" lengthAdjust="spacingAndGlyphs" fill="#111" font-weight="normal" stroke="#111" stroke-width="0.22" transform="rotate(-90 840.8 590.8)">WALK-IN</text>
<text x="849.1" y="592.8" font-size="5.50" text-anchor="middle" textLength="24.0" lengthAdjust="spacingAndGlyphs" fill="#111" font-weight="normal" stroke="#111" stroke-width="0.22" transform="rotate(-90 849.1 590.8)">CLOSET</text>
<text x="857.0" y="592.8" font-size="5.50" text-anchor="middle" textLength="28.0" lengthAdjust="spacingAndGlyphs" fill="#111" font-weight="normal" stroke="#111" stroke-width="0.22" transform="rotate(-90 857.0 590.8)">7'0&quot; X 4'6&quot;</text>
<text x="776.5" y="622.5" font-size="5.50" text-anchor="middle" textLength="25.4" lengthAdjust="spacingAndGlyphs" fill="#111" font-weight="normal" stroke="#111" stroke-width="0.22">ENSUITE</text>
<text x="844.9" y="636.6" font-size="5.50" text-anchor="middle" textLength="25.4" lengthAdjust="spacingAndGlyphs" fill="#111" font-weight="normal" stroke="#111" stroke-width="0.22">ENSUITE</text>
<text x="825.0" y="683.7" font-size="5.50" text-anchor="middle" textLength="36.0" lengthAdjust="spacingAndGlyphs" fill="#111" font-weight="normal" stroke="#111" stroke-width="0.22">BEDROOM</text>
<text x="825.0" y="691.6" font-size="5.50" text-anchor="middle" textLength="39.0" lengthAdjust="spacingAndGlyphs" fill="#111" font-weight="normal" stroke="#111" stroke-width="0.22">15'1&quot; X 10'3&quot;</text>
<text x="825.0" y="699.6" font-size="5.50" text-anchor="middle" textLength="45.3" lengthAdjust="spacingAndGlyphs" fill="#111" font-weight="normal" stroke="#111" stroke-width="0.22">10'0&quot; CEILING</text>
<text x="879.1" y="684.2" font-size="5.50" text-anchor="middle" textLength="26.0" lengthAdjust="spacingAndGlyphs" fill="#111" font-weight="normal" stroke="#111" stroke-width="0.22">WALK-IN</text>
<text x="879.1" y="692.5" font-size="5.50" text-anchor="middle" textLength="25.0" lengthAdjust="spacingAndGlyphs" fill="#111" font-weight="normal" stroke="#111" stroke-width="0.22">CLOSET</text>
<text x="879.1" y="700.8" font-size="5.50" text-anchor="middle" textLength="36.2" lengthAdjust="spacingAndGlyphs" fill="#111" font-weight="normal" stroke="#111" stroke-width="0.22">6'8&quot; X 5'9&quot;</text>
<text x="1063.2" y="495.3" font-size="5.50" text-anchor="middle" textLength="29.0" lengthAdjust="spacingAndGlyphs" fill="#111" font-weight="normal" stroke="#111" stroke-width="0.22">PRIMARY</text>
<text x="1063.2" y="503.2" font-size="5.50" text-anchor="middle" textLength="36.0" lengthAdjust="spacingAndGlyphs" fill="#111" font-weight="normal" stroke="#111" stroke-width="0.22">BEDROOM</text>
<text x="1063.2" y="510.8" font-size="5.50" text-anchor="middle" textLength="40.0" lengthAdjust="spacingAndGlyphs" fill="#111" font-weight="normal" stroke="#111" stroke-width="0.22">18'6&quot; X 16'3&quot;</text>
<text x="1063.2" y="519.3" font-size="5.50" text-anchor="middle" textLength="38.0" lengthAdjust="spacingAndGlyphs" fill="#111" font-weight="normal" stroke="#111" stroke-width="0.22">10'7&quot; VAULT</text>
<text x="1077.0" y="605.8" font-size="5.50" text-anchor="middle" textLength="26.5" lengthAdjust="spacingAndGlyphs" fill="#111" font-weight="normal" stroke="#111" stroke-width="0.22">ENSUITE</text>
<text x="1023.2" y="623.1" font-size="5.50" text-anchor="middle" textLength="27.0" lengthAdjust="spacingAndGlyphs" fill="#111" font-weight="normal" stroke="#111" stroke-width="0.22">WALK-IN</text>
<text x="1023.2" y="631.1" font-size="5.50" text-anchor="middle" textLength="25.0" lengthAdjust="spacingAndGlyphs" fill="#111" font-weight="normal" stroke="#111" stroke-width="0.22">CLOSET</text>
<text x="1023.2" y="639.0" font-size="5.50" text-anchor="middle" textLength="36.2" lengthAdjust="spacingAndGlyphs" fill="#111" font-weight="normal" stroke="#111" stroke-width="0.22">11'0&quot; X 7'9&quot;</text>
<text x="1033.4" y="675.7" font-size="5.50" text-anchor="middle" textLength="27.0" lengthAdjust="spacingAndGlyphs" fill="#111" font-weight="normal" stroke="#111" stroke-width="0.22">WALK-IN</text>
<text x="1033.4" y="683.6" font-size="5.50" text-anchor="middle" textLength="25.0" lengthAdjust="spacingAndGlyphs" fill="#111" font-weight="normal" stroke="#111" stroke-width="0.22">CLOSET</text>
<text x="1033.4" y="691.9" font-size="5.50" text-anchor="middle" textLength="41.0" lengthAdjust="spacingAndGlyphs" fill="#111" font-weight="normal" stroke="#111" stroke-width="0.22">18'10&quot; X 15'7&quot;</text>
<text x="941.0" y="636.4" font-size="5.50" text-anchor="middle" textLength="57.4" lengthAdjust="spacingAndGlyphs" fill="#111" font-weight="normal" stroke="#111" stroke-width="0.22">OPEN TO BELOW</text>
<text x="941.9" y="731.4" font-size="11.66" textLength="185.1" lengthAdjust="spacingAndGlyphs" fill="#111" stroke="#111" stroke-width="0.50" word-spacing="2.6">UPPER LEVEL 1808 SQ. FT.</text></g>
</g></svg></body></html>
